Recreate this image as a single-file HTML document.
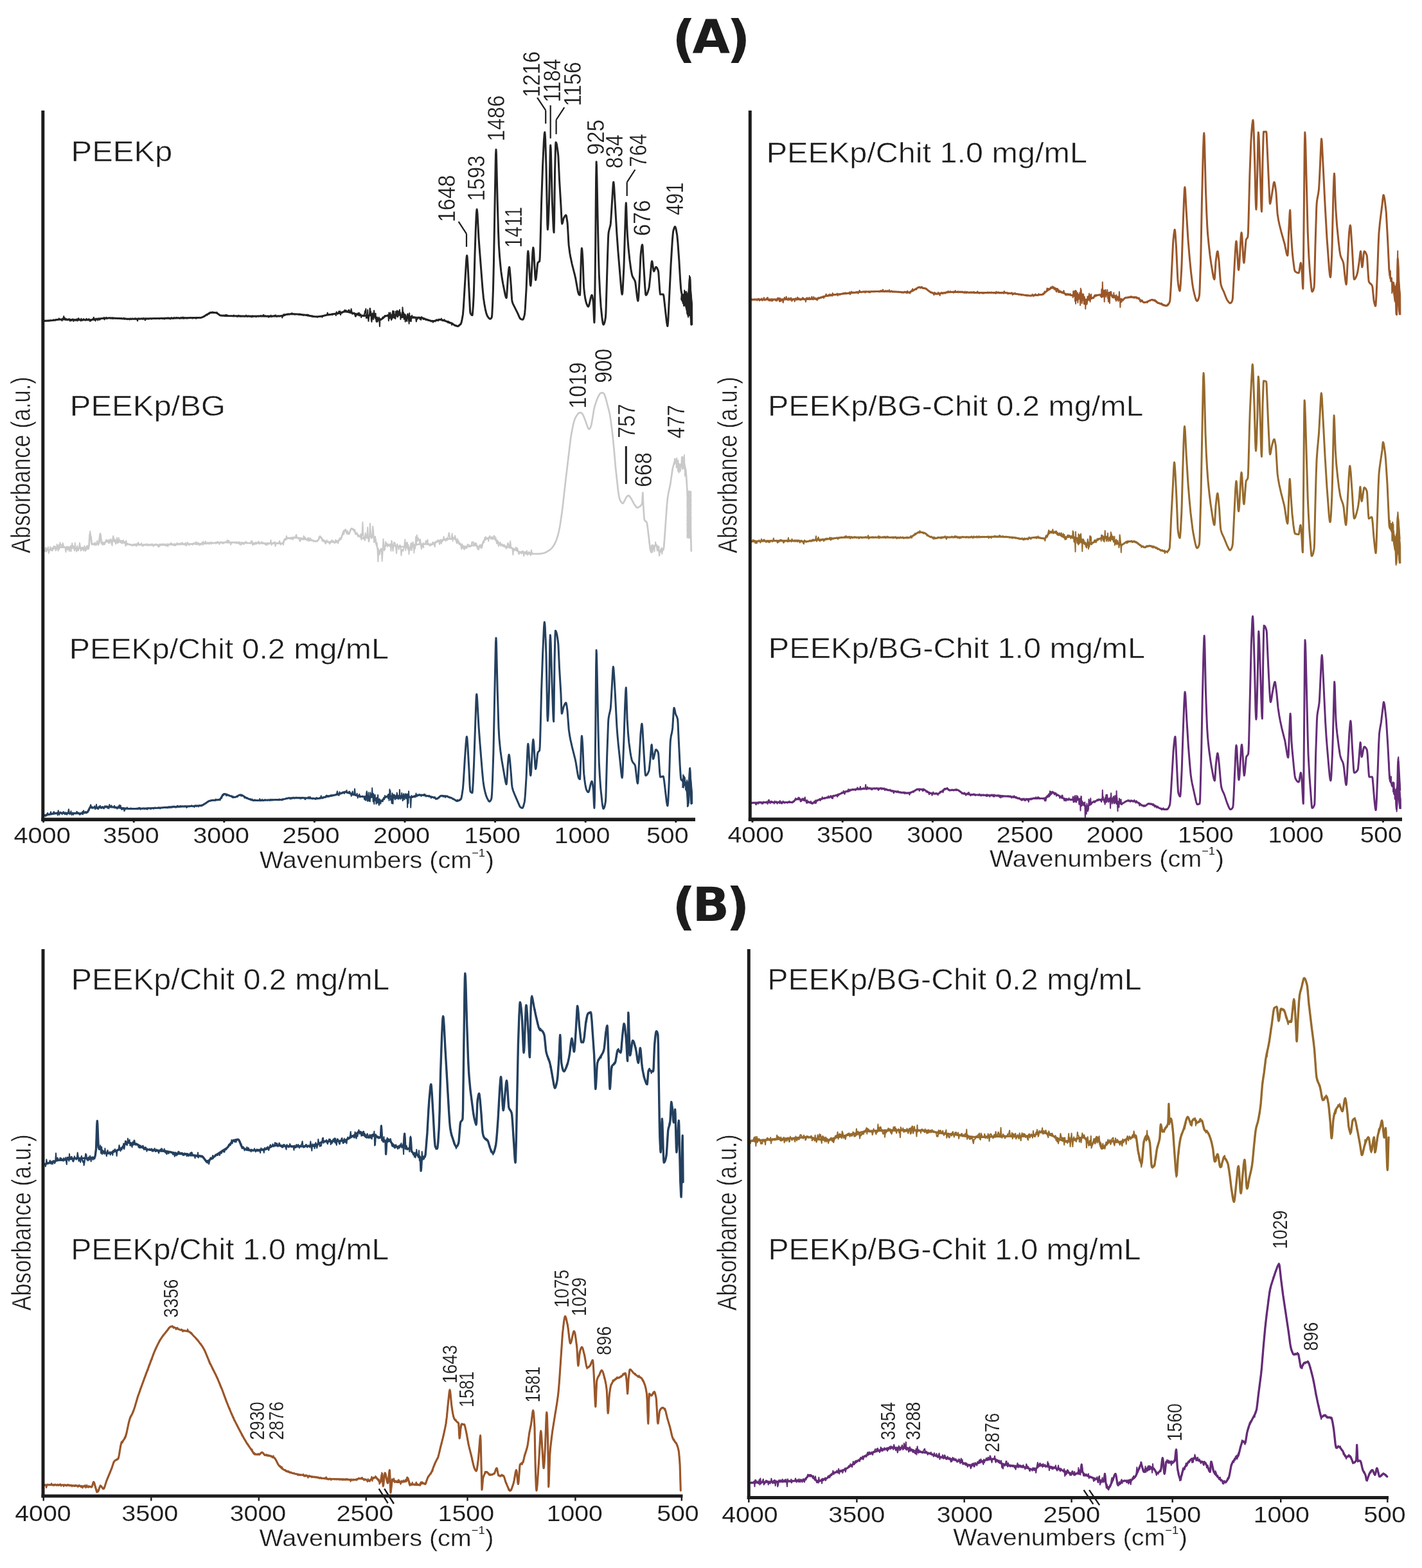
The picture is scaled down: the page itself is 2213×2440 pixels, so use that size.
<!DOCTYPE html>
<html lang="en">
<head>
<meta charset="utf-8">
<title>FTIR spectra</title>
<style>
html,body{margin:0;padding:0;background:#fff;}
body{width:2213px;height:2440px;overflow:hidden;}
svg{display:block;filter:blur(0.55px);}
text{white-space:pre;}
</style>
</head>
<body>
<svg role="img" aria-label="FTIR spectra, panels (A) and (B)" width="2213" height="2440" viewBox="0 0 2213 2440">
<path d="M67.2,499.6 82.2,498.4 91.1,497.3 95.1,497.1 100.5,497.1 115.8,497.8 139.1,497.7 143.0,497.4 153.4,496.0 162.3,495.2 166.8,494.9 176.2,495.1 198.0,496.2 206.9,496.3 277.6,494.9 300.9,494.5 312.7,494.2 314.2,493.9 316.1,493.1 322.7,489.3 326.1,487.1 327.5,486.5 329.0,486.2 333.3,486.4 336.7,486.7 338.1,487.4 341.5,490.1 342.9,490.8 351.3,491.4 381.0,492.0 422.5,492.0 432.3,491.9 439.6,491.6 441.0,491.2 444.4,489.6 445.8,489.2 451.7,488.8 457.6,488.7 464.5,489.1 475.7,490.2 488.4,492.4 491.3,492.7 494.2,492.7 499.1,492.2 510.8,489.9 526.4,487.5 529.8,486.8 534.7,485.1 536.6,484.8 539.0,485.0 542.0,485.6 549.9,487.5 558.6,490.2 562.5,491.1 564.5,491.2 567.0,491.2 576.9,490.6 580.4,490.6 581.4,490.9 582.9,491.9 588.3,496.8 589.8,497.6 590.7,497.8 591.7,497.6 593.2,497.0 594.7,496.0 598.6,492.7 600.1,491.8 601.1,491.4 610.4,490.2 619.1,489.8 621.1,489.9 623.5,490.3 632.3,493.2 635.7,494.0 637.7,494.2 652.6,494.2 655.1,494.4 659.0,495.5 667.9,498.6 671.8,499.4 673.8,499.6 675.7,499.4 680.5,498.4 683.5,497.5 684.5,497.4 686.0,497.5 689.0,498.2 697.4,501.0 702.9,503.2 708.9,506.8 710.9,507.4 712.3,507.4 713.7,506.8 715.1,505.9 717.0,504.1 717.5,503.3 718.0,502.0 718.9,498.0 720.4,489.5 721.3,478.8 725.7,404.9 726.2,399.6 726.7,397.6 727.1,399.5 728.0,412.2 731.6,484.0 732.0,487.3 733.5,489.8 734.5,490.5 735.0,490.6 735.4,488.9 736.3,477.3 737.2,460.4 737.6,448.5 739.0,396.2 740.3,356.8 741.2,335.1 741.7,328.3 742.1,325.8 742.6,328.1 743.1,334.3 745.0,370.6 746.5,390.7 750.9,447.7 752.4,463.4 753.8,472.9 755.2,480.6 756.6,486.7 757.6,489.7 758.5,491.8 760.0,494.0 761.0,495.2 762.0,496.0 762.5,496.2 763.4,496.2 764.3,495.4 765.2,494.0 765.7,490.8 766.6,473.8 767.5,449.1 768.4,410.8 771.1,259.0 771.5,240.1 772.0,232.7 772.4,238.9 774.2,314.6 775.5,359.6 776.4,381.9 777.4,396.9 778.4,408.7 779.8,422.2 781.3,433.1 782.8,441.8 786.2,458.6 787.2,462.3 787.6,463.3 788.1,463.7 788.6,461.3 790.4,433.4 791.7,419.7 792.1,416.6 792.6,415.5 793.0,417.0 793.9,426.3 795.3,444.3 796.6,465.7 797.1,469.3 798.1,472.4 805.6,487.3 808.1,493.2 809.1,495.1 809.6,495.8 810.6,496.5 812.0,497.1 813.5,497.4 813.9,497.1 814.4,496.3 814.9,495.1 815.9,491.7 816.4,489.5 816.8,486.2 817.3,480.7 819.1,449.1 820.9,402.4 821.3,394.0 821.8,390.8 822.2,392.7 822.6,397.6 824.9,437.9 825.3,442.8 825.8,444.7 826.2,442.6 826.7,437.2 828.9,392.7 829.4,387.3 829.8,385.2 830.3,387.4 830.8,393.1 832.7,427.8 833.2,433.5 833.6,435.7 834.1,434.3 834.6,430.6 836.5,410.8 837.0,408.8 837.5,408.3 839.2,407.1 839.7,406.5 840.2,401.1 840.7,388.3 842.6,314.6 844.6,257.8 846.4,219.7 847.3,207.7 847.8,205.8 848.2,209.1 848.7,217.7 850.0,258.5 851.8,349.1 852.3,357.2 852.7,354.6 853.2,347.7 854.5,314.6 856.3,233.4 856.7,226.0 857.2,231.1 857.6,244.4 859.4,314.6 861.2,354.0 861.7,359.6 862.1,361.7 862.6,342.1 863.5,269.7 863.9,252.7 864.6,225.9 865.0,221.5 865.5,221.9 866.0,223.2 866.5,225.2 867.4,230.9 868.4,238.3 868.9,243.8 870.6,280.9 872.9,319.1 873.8,337.4 874.2,345.1 874.7,348.2 875.1,347.7 875.6,346.3 876.9,340.5 877.4,339.2 878.8,336.6 879.8,335.3 880.3,334.9 880.7,334.8 881.2,335.4 881.6,337.1 883.0,346.0 883.4,351.2 884.8,376.0 885.2,381.9 886.7,393.3 887.7,399.1 890.2,411.0 894.4,427.3 895.8,433.4 898.6,449.6 899.5,454.2 900.5,457.3 900.9,458.1 901.7,458.9 902.5,459.2 902.9,452.4 904.3,404.3 905.0,389.3 905.4,386.3 905.8,388.0 906.2,392.3 907.0,404.3 908.3,440.9 908.8,449.1 909.8,457.9 910.8,464.4 911.8,469.2 912.8,472.6 914.6,476.5 915.1,477.0 915.5,477.2 916.0,476.8 916.9,474.4 919.2,463.9 920.2,460.6 920.6,459.6 921.1,459.2 921.6,459.9 922.5,464.4 923.4,471.6 924.5,497.8 924.9,501.9 925.4,489.8 925.8,459.7 926.7,381.9 927.6,277.5 928.1,251.8 928.5,258.0 928.9,273.8 930.1,337.0 931.4,396.2 932.3,426.7 933.8,456.8 935.2,477.7 937.1,496.1 938.1,502.6 938.6,504.5 939.1,505.2 939.5,505.0 940.0,504.2 940.5,503.0 941.5,499.3 942.4,494.0 942.9,487.3 943.3,474.5 945.6,397.1 946.5,370.8 946.9,363.9 947.4,360.5 947.9,358.1 949.8,351.2 950.3,348.2 950.7,343.6 953.9,291.1 954.3,285.4 954.8,283.2 955.2,285.4 955.7,291.0 959.9,363.4 961.9,391.2 966.8,449.5 967.7,457.0 968.2,458.1 968.7,456.2 969.1,451.2 970.9,416.3 973.5,331.9 973.9,320.4 974.3,315.7 974.7,321.1 975.6,348.4 976.1,359.4 976.5,367.0 978.0,385.8 979.9,404.0 981.9,419.1 983.4,427.2 983.9,429.0 984.9,431.4 986.9,434.6 987.9,436.6 988.4,437.9 988.9,440.2 991.4,461.4 992.4,467.3 992.9,468.2 993.3,466.2 993.8,461.0 995.6,429.3 996.9,399.1 997.4,393.1 998.7,383.2 999.2,381.4 999.6,380.7 1000.1,383.3 1000.5,389.9 1001.4,407.8 1003.8,447.0 1004.7,457.7 1005.2,459.2 1005.7,459.1 1006.2,458.6 1006.7,457.9 1007.7,455.7 1009.2,451.0 1010.2,446.8 1011.9,431.2 1013.7,411.2 1014.2,407.8 1014.6,406.5 1015.1,407.7 1017.1,421.1 1017.6,422.2 1018.0,421.9 1018.5,420.9 1020.0,416.8 1020.4,415.9 1020.9,415.5 1021.4,415.6 1022.4,416.7 1023.3,418.6 1024.3,421.1 1024.8,424.2 1026.7,451.3 1027.2,456.2 1027.6,458.1 1032.1,458.1 1032.6,459.1 1033.1,461.6 1037.4,500.3 1038.4,506.5 1038.9,507.5 1039.3,505.0 1039.8,498.6 1044.0,412.6 1046.4,373.4 1047.4,362.4 1047.8,359.4 1049.2,354.7 1050.1,352.9 1050.5,352.7 1051.0,353.1 1052.0,356.2 1053.4,363.9 1053.9,367.4 1054.9,377.9 1056.8,404.3 1058.7,436.3 1059.7,449.8 1060.2,453.6 1061.6,459.9 1062.6,462.7 1064.0,465.8 1067.0,469.6 1068.0,471.6 1068.5,473.4 1069.0,476.3 1070.4,486.4 1070.9,488.7 1071.4,489.5 1071.8,483.5 1073.2,437.3 1073.6,431.2 1074.1,436.5 1074.5,450.2 1075.9,505.2" fill="none" stroke="#232323" stroke-width="3.00" stroke-linejoin="round" stroke-linecap="round"/>
<path d="M67.2,499.6 68.0,499.8 68.9,499.1 69.7,498.7 70.6,499.3 71.6,499.2 72.7,499.3 73.6,499.0 74.5,499.2 75.3,499.6 76.2,499.0 77.1,499.3 77.9,499.2 78.7,498.1 79.7,499.1 80.7,499.0 81.6,498.9 82.6,497.6 83.7,497.5 84.5,498.2 85.4,498.4 86.3,498.6 87.2,496.8 88.1,497.7 88.9,498.0 89.8,497.5 M90.0,497.5 90.9,497.3 91.8,495.3 92.7,496.9 93.6,497.3 94.7,497.0 95.7,497.7 96.6,499.1 97.4,495.4 98.2,497.0 99.2,492.1 100.1,496.1 100.9,494.6 101.6,496.3 102.4,498.2 103.2,496.1 104.3,497.7 105.1,498.4 106.1,496.7 107.0,496.5 107.8,496.1 108.7,499.6 109.8,499.0 110.6,497.3 111.3,499.1 112.2,497.3 113.3,496.2 114.3,500.0 115.2,497.7 115.9,497.0 116.6,498.8 117.6,497.2 118.5,498.9 119.6,496.3 120.7,499.4 121.4,496.0 122.2,495.1 123.1,496.4 124.0,497.5 124.9,497.8 125.6,499.4 126.4,495.8 127.2,498.9 128.3,498.5 129.3,498.0 130.0,496.1 130.8,496.7 131.7,497.5 132.6,498.5 133.6,498.4 134.5,495.7 135.4,496.6 136.5,498.2 137.5,498.3 138.2,496.0 139.1,497.2 140.0,499.9 140.8,499.6 141.8,499.0 142.8,497.6 143.8,496.6 144.8,496.7 145.9,493.7 146.8,498.3 147.8,496.5 148.6,499.6 149.5,495.4 150.3,497.3 151.2,496.3 152.3,498.6 153.2,495.5 154.0,496.6 155.1,497.8 156.0,497.0 156.8,496.1 157.9,495.5 159.0,495.5 160.0,496.0 160.8,495.8 161.9,493.9 162.6,497.5 163.5,495.2 164.3,495.2 165.3,493.8 166.1,496.1 167.1,495.6 M168.0,494.9 169.0,495.0 170.1,494.4 171.2,494.3 172.0,494.7 173.0,495.7 174.1,494.7 174.9,494.4 175.8,496.2 176.8,495.2 177.8,495.2 178.8,495.2 179.6,495.7 180.4,495.2 181.3,495.5 182.4,495.9 183.4,495.5 184.5,496.0 185.3,494.8 186.4,495.0 187.5,495.7 188.5,494.8 189.3,495.6 190.0,496.3 191.0,496.1 191.9,496.1 192.7,494.6 193.7,496.7 194.6,495.7 195.5,495.6 196.5,496.5 197.5,496.4 198.6,497.1 199.6,496.1 200.6,496.3 201.7,497.5 202.8,495.5 203.6,496.6 204.6,497.1 205.4,495.8 206.5,495.5 207.7,496.2 208.5,496.5 209.3,496.6 210.4,495.1 211.2,496.7 212.1,496.6 212.9,496.5 214.0,499.5 215.0,496.3 215.8,495.4 216.7,496.2 217.6,496.8 218.5,496.2 219.5,495.8 220.4,495.4 221.1,495.9 222.2,496.9 223.3,494.9 224.3,496.3 225.1,496.4 226.0,498.5 227.1,495.5 228.1,496.6 228.9,496.4 229.7,495.8 230.7,496.4 231.5,496.7 232.3,495.8 233.3,495.7 234.3,495.5 235.1,496.4 236.0,496.4 236.7,496.2 237.5,495.6 238.5,495.3 239.3,495.2 240.1,495.5 241.1,495.2 241.9,495.0 242.9,496.3 243.9,495.5 244.8,495.0 245.8,495.5 246.8,495.5 247.9,496.4 248.9,495.9 249.7,495.2 250.8,494.7 251.5,495.0 252.5,495.9 253.4,496.3 254.2,495.6 255.0,495.6 255.8,496.7 256.9,494.6 257.9,495.0 258.9,494.6 259.8,495.0 260.6,494.8 261.4,494.2 262.2,495.5 263.2,494.6 264.1,495.6 264.9,496.6 265.8,495.1 266.9,494.0 267.7,495.8 268.4,495.6 269.3,495.8 270.2,495.7 270.9,493.9 271.6,494.9 272.4,495.3 273.4,494.5 274.3,493.8 275.4,494.6 276.5,494.5 277.4,494.2 278.1,494.4 279.0,495.2 280.0,496.0 281.0,494.6 282.1,493.8 283.2,495.5 284.0,493.8 284.9,493.5 285.8,496.0 286.6,494.0 287.3,495.3 288.1,494.8 288.9,494.5 289.8,495.5 290.8,495.5 291.7,494.7 292.6,495.5 293.7,494.4 294.6,494.5 295.6,495.1 296.7,493.8 297.5,494.9 298.3,495.1 299.3,495.7 300.1,494.9 301.0,494.1 301.9,495.4 303.0,494.2 304.1,495.0 305.2,495.9 306.3,493.7 307.3,494.9 308.5,494.9 309.5,494.3 310.4,493.7 311.3,495.0 312.1,494.1 313.1,494.5 314.1,493.7 314.8,493.2 315.7,493.2 316.6,493.1 317.6,492.4 318.7,492.2 319.7,491.1 320.7,489.4 321.6,489.2 322.6,490.4 323.6,488.3 324.5,488.5 325.4,488.6 326.3,487.9 327.0,485.9 327.9,486.6 328.6,486.7 329.5,487.0 330.4,485.6 331.4,485.5 332.5,486.2 333.4,486.2 334.4,486.9 335.5,487.0 336.5,487.4 337.4,485.8 338.4,488.4 339.5,488.8 340.5,488.8 341.5,489.6 342.3,490.6 343.2,491.2 344.3,491.0 345.1,491.5 346.1,491.1 347.0,491.3 347.9,490.5 349.0,491.6 349.8,491.5 350.6,489.9 351.6,491.6 352.4,489.9 353.3,490.1 354.4,491.8 355.3,491.5 356.1,491.5 357.1,492.1 358.1,491.5 359.1,491.4 360.0,491.9 360.8,491.5 361.9,491.9 363.0,492.4 363.8,490.4 364.6,491.8 365.5,491.7 366.5,491.8 367.6,491.7 368.6,492.6 369.4,491.7 370.2,492.8 371.1,490.6 372.1,491.0 373.0,491.7 373.8,492.8 374.7,491.5 375.8,492.6 376.7,492.5 377.7,492.1 378.8,491.7 379.6,492.6 380.4,492.6 381.3,492.4 382.1,492.2 383.0,490.5 384.1,492.2 385.1,493.0 385.9,491.9 386.7,491.4 387.8,492.5 388.6,492.6 389.4,492.0 390.2,492.8 391.1,491.8 391.9,493.5 392.7,493.0 393.4,491.5 394.3,492.7 395.2,492.4 396.3,491.9 397.1,492.4 397.8,492.1 398.5,493.3 399.7,492.0 400.7,492.3 401.8,491.5 402.7,492.6 403.7,491.7 404.6,492.1 405.7,490.9 406.6,492.1 407.3,492.3 408.5,490.9 409.3,491.6 410.2,489.7 411.2,492.5 412.1,491.5 413.2,491.3 414.2,492.5 415.2,492.2 415.9,492.0 416.8,491.8 417.8,493.8 418.8,492.0 419.8,493.1 420.6,492.2 421.6,490.6 422.6,493.1 423.5,492.0 424.4,492.3 425.3,491.4 426.1,491.4 427.1,490.8 427.9,491.5 429.0,490.3 430.1,492.4 430.9,492.8 431.9,492.0 432.8,491.2 433.8,492.0 434.8,492.4 435.9,492.1 436.6,492.2 437.4,491.8 438.2,490.8 439.3,494.5 440.3,490.1 441.1,490.5 442.0,488.9 442.8,490.8 443.7,490.7 444.5,489.5 445.3,489.4 446.2,489.4 447.3,489.7 448.2,488.2 449.0,489.1 450.0,489.6 450.8,489.1 451.7,488.8 452.6,488.4 453.6,487.5 454.6,487.3 455.6,489.0 456.7,488.1 457.5,489.2 458.4,489.6 459.2,488.8 459.9,489.4 461.1,488.9 462.0,489.1 463.0,489.0 464.0,489.4 465.1,489.7 466.0,490.0 466.8,488.5 467.9,488.9 468.7,489.8 469.7,490.5 470.5,490.1 471.5,490.4 472.5,491.0 473.2,490.1 474.1,489.9 474.9,490.0 476.0,490.4 477.0,490.1 477.9,489.4 478.7,491.5 479.7,489.7 480.7,490.9 481.7,492.0 482.7,491.3 483.4,492.0 484.2,492.5 485.1,491.5 486.1,491.5 486.9,493.2 487.7,492.4 488.8,492.2 489.8,492.9 490.9,492.8 491.9,493.0 492.8,492.8 493.8,493.6 494.7,492.9 495.8,492.7 496.9,491.7 497.9,492.5 498.7,491.7 499.5,492.6 500.4,492.2 501.5,493.6 502.3,492.1 503.1,492.1 504.2,491.3 505.2,490.4 506.0,490.8 506.8,490.6 507.8,489.9 508.8,489.7 509.7,486.6 510.5,490.0 511.5,489.3 512.4,489.3 513.2,489.5 514.3,490.0 515.3,489.2 516.3,488.5 517.4,490.0 518.1,488.3 519.1,488.7 519.8,488.6 M520.0,488.6 520.9,488.1 521.8,488.0 522.8,491.0 523.6,485.3 524.6,486.8 525.4,488.8 526.5,486.7 527.5,484.2 528.4,488.0 529.4,484.3 530.1,490.1 530.9,486.9 532.0,485.7 532.8,486.9 533.6,485.0 534.4,485.8 535.2,484.7 536.3,482.5 537.3,483.5 538.2,482.6 539.3,483.8 540.2,484.4 541.1,484.4 542.0,483.2 543.0,482.1 544.1,486.4 544.9,483.8 545.8,486.7 546.6,480.6 547.5,485.6 548.4,488.9 549.5,486.8 550.6,487.9 551.3,486.7 552.4,490.4 553.1,492.6 553.9,492.6 555.0,488.1 556.0,488.6 557.0,487.3 557.9,489.9 558.8,486.6 559.6,491.4 560.6,488.8 561.4,489.1 562.2,494.1 562.9,490.9 563.8,491.5 564.7,491.3 565.6,491.4 M566.0,491.3 566.5,492.1 566.9,489.0 567.5,486.9 568.0,484.0 568.4,487.1 568.8,483.6 569.4,480.5 569.9,495.0 570.3,494.7 570.8,491.2 571.2,491.4 571.7,494.6 572.2,482.2 572.6,495.6 573.1,496.0 573.5,499.8 573.9,495.0 574.5,491.9 575.0,489.4 575.6,479.8 576.2,480.2 576.7,488.8 577.2,485.0 577.8,497.6 578.4,500.9 578.9,497.1 579.3,488.2 579.8,487.4 580.3,495.3 580.8,489.8 581.2,496.9 581.7,489.4 582.1,483.2 582.7,489.2 583.1,493.6 583.6,488.7 584.1,495.6 584.6,487.7 585.0,496.4 585.6,500.4 586.0,501.0 586.6,494.0 587.2,493.5 587.8,500.6 588.4,497.4 588.8,495.4 589.3,497.9 589.8,493.8 590.4,498.7 590.9,508.0 591.4,495.9 591.8,497.5 592.3,497.5 592.7,497.6 M593.0,497.1 594.0,496.2 594.9,495.0 595.9,493.3 596.9,495.1 597.9,492.8 598.9,491.0 599.8,491.9 600.9,491.2 602.0,491.2 M602.0,491.2 602.5,490.6 603.2,492.1 603.8,489.9 604.4,490.4 604.8,499.3 605.3,486.6 605.8,496.0 606.4,488.7 606.9,494.5 607.5,486.5 608.1,493.5 608.7,497.0 609.2,498.0 609.8,489.4 610.3,496.1 610.8,487.6 611.2,483.8 611.7,492.8 612.3,494.3 613.0,484.2 613.5,494.8 613.9,491.2 614.4,494.5 614.8,495.6 615.4,496.1 615.9,484.4 616.4,491.0 616.9,491.6 617.5,487.2 617.9,483.3 618.4,493.2 618.9,485.5 619.3,492.9 619.8,484.2 620.3,490.7 620.9,486.0 621.4,490.2 621.9,481.9 622.4,489.3 622.9,486.3 623.4,496.9 623.9,489.4 624.5,492.4 625.1,494.2 625.6,486.6 626.0,494.1 626.5,478.3 627.1,486.9 627.6,493.9 628.1,486.2 628.7,496.8 629.2,488.7 629.7,489.2 630.2,489.0 630.7,500.6 631.3,490.3 631.8,498.7 632.3,493.9 632.8,496.8 633.4,500.0 634.0,489.3 634.5,488.2 635.1,490.1 635.5,494.7 636.1,498.7 636.6,503.7 637.2,487.3 637.6,500.0 638.2,496.7 638.7,494.9 639.1,492.3 639.7,500.2 640.2,493.8 640.7,492.5 641.2,490.8 641.8,494.2 M642.0,494.2 643.0,493.2 644.0,492.9 644.8,493.7 645.9,493.5 646.9,493.7 647.8,500.4 648.8,496.6 649.8,496.5 650.9,494.5 651.7,493.9 M650.0,494.2 651.0,494.1 651.9,493.6 652.7,495.3 653.5,496.8 654.5,494.6 655.2,497.9 656.1,493.1 656.9,495.0 657.8,494.2 658.7,496.8 659.4,497.1 660.5,495.6 661.5,496.0 662.3,497.9 663.3,497.2 664.3,498.3 665.1,498.3 666.1,497.0 666.9,499.1 667.8,499.0 668.6,498.1 669.6,499.7 670.4,499.7 671.3,500.4 672.1,499.5 672.8,498.8 673.8,501.8 674.7,500.4 675.6,499.4 676.4,500.0 677.4,500.4 678.3,498.0 679.2,497.4 680.1,497.2 680.9,498.4 682.0,499.3 683.1,496.5 684.0,497.3 685.1,497.8 686.0,497.2 686.8,495.6 687.7,498.0 688.6,499.2 689.6,499.3 690.4,498.7 691.4,497.2 692.3,498.4 693.4,500.1 694.5,500.1 695.4,500.2 696.2,499.9 697.1,502.3 698.1,500.1 699.1,502.7 700.3,502.6 701.4,503.1 702.1,502.0 703.1,505.7 704.2,502.8 705.3,504.1 706.1,505.1 706.9,506.6 707.7,506.6 708.8,506.5 709.8,506.3 710.8,506.7 711.6,507.6 712.4,508.2 713.4,508.0 714.4,507.1 715.1,506.0 716.1,505.3 717.0,504.9 717.9,501.6 718.9,497.3 M1061.0,457.5 1061.4,459.0 1061.7,460.7 1062.1,462.9 1062.5,458.6 1062.8,472.2 1063.2,461.2 1063.5,458.1 1063.8,472.5 1064.2,476.2 1064.6,466.8 1065.0,457.5 1065.2,451.8 1065.6,463.7 1065.9,461.7 1066.3,469.9 1066.6,453.8 1067.0,468.6 1067.5,473.4 1067.8,465.6 1068.2,468.2 1068.5,463.0 1068.9,466.9 1069.3,488.5 1069.7,473.4 1070.0,484.8 1070.4,482.7 1070.7,491.0 1071.0,493.5 1071.4,477.4 1071.8,479.6 1072.2,468.4 1072.5,469.3 1072.9,433.2 1073.3,439.3 1073.6,432.3 1074.0,431.8 1074.3,444.0 1074.8,458.2 1075.1,478.3 1075.4,487.1 1075.8,503.9" fill="none" stroke="#232323" stroke-width="2.00" stroke-linejoin="round" stroke-linecap="round"/>
<path d="M69.0,857.6 80.7,854.2 89.6,852.2 94.6,851.5 100.5,851.6 111.9,852.7 116.8,852.9 120.8,852.9 132.2,852.2 133.2,852.4 136.1,853.7 137.6,854.0 138.0,852.3 138.5,847.9 139.7,832.3 140.2,830.5 140.6,831.8 141.1,834.8 142.6,845.6 143.0,846.8 148.9,846.5 153.9,845.7 154.3,844.1 155.6,832.1 156.0,830.5 156.5,832.1 157.8,844.1 158.2,845.7 159.2,845.6 160.6,845.2 165.9,842.7 167.8,842.2 177.1,841.6 186.4,841.4 188.3,841.6 190.3,842.2 192.7,843.2 200.0,846.9 202.5,847.7 204.4,847.9 247.0,847.8 285.0,846.9 314.7,846.0 342.1,844.3 354.1,843.9 363.0,844.0 384.9,845.0 415.8,845.5 439.1,845.7 439.6,845.6 440.6,844.5 443.0,840.0 444.0,838.8 444.5,838.5 449.9,837.3 455.7,836.7 460.6,836.8 465.9,837.4 477.2,839.2 488.4,841.7 490.8,842.0 493.3,842.1 493.8,842.0 494.2,841.6 495.2,840.3 497.2,837.1 498.2,836.1 498.7,836.0 499.2,836.1 499.7,836.5 500.6,837.7 502.6,840.8 503.6,841.9 504.1,842.1 509.0,842.8 513.9,843.3 519.7,843.5 523.1,843.4 524.6,843.0 526.0,842.2 528.4,840.4 529.8,839.0 531.3,836.1 534.7,827.3 535.6,825.7 536.1,825.3 536.6,825.1 537.6,825.6 540.5,829.6 541.5,830.4 542.0,830.5 542.5,830.4 543.0,829.9 544.0,828.2 545.9,824.1 546.9,822.8 547.4,822.6 548.4,822.9 549.3,823.7 550.8,825.5 553.2,828.9 554.6,830.5 560.1,835.3 562.0,836.7 563.5,837.4 565.5,837.8 567.5,837.6 570.0,836.9 576.9,834.6 578.9,834.2 579.9,834.2 580.4,834.3 581.4,835.3 582.9,838.4 586.8,850.6 588.3,854.5 589.3,856.4 589.8,857.1 590.3,857.5 590.7,857.6 591.7,857.4 593.2,856.4 594.7,854.9 598.6,850.2 600.1,849.1 601.1,848.7 605.5,848.7 611.4,849.1 624.2,850.5 633.7,852.0 638.2,852.2 639.7,851.9 641.2,851.4 647.6,848.0 650.6,847.0 652.1,846.8 674.3,846.7 675.7,846.0 679.5,843.0 682.0,842.1 685.5,841.0 689.0,840.2 693.0,839.5 699.9,838.7 704.9,838.3 707.4,838.4 708.4,838.9 709.9,840.3 713.4,844.9 714.9,846.5 715.9,847.3 718.4,848.6 721.9,850.1 723.9,850.6 726.4,850.6 728.8,850.2 735.3,848.7 737.3,848.4 738.8,848.4 740.8,849.0 745.3,851.3 747.3,851.8 747.8,851.6 748.2,851.2 749.2,849.8 752.6,842.5 753.5,841.0 754.0,840.5 756.9,838.7 759.9,837.2 762.8,836.3 765.2,836.1 766.7,836.4 768.2,837.3 773.7,842.4 779.7,847.4 782.2,849.1 783.7,849.7 786.2,850.5 793.6,852.1 797.1,853.1 800.1,854.5 806.6,858.2 809.6,859.5 817.1,861.2 820.1,861.6 822.5,861.8 838.5,861.8 842.5,861.4 847.0,860.5 850.5,859.0 855.4,855.9 856.8,854.8 858.7,852.9 861.5,849.3 863.9,845.0 865.8,840.4 867.8,834.5 869.7,827.0 871.1,820.3 872.0,814.9 875.1,793.4 880.1,749.2 888.1,682.2 889.5,673.7 891.7,662.3 893.1,656.6 894.4,652.5 895.3,650.4 896.7,647.9 898.5,645.2 899.8,643.6 901.6,642.1 902.9,642.1 904.7,642.4 905.6,643.2 906.5,644.3 907.9,646.8 911.0,654.4 913.4,661.7 915.7,667.0 916.2,667.6 916.6,667.8 917.1,667.7 917.5,667.3 918.8,665.4 920.0,662.2 920.9,658.1 924.5,636.4 925.8,631.4 928.5,623.1 930.8,617.6 933.6,612.6 934.6,611.8 936.0,611.3 937.5,611.1 937.9,611.2 938.8,611.6 940.2,612.9 940.6,613.6 941.5,616.0 942.9,620.5 947.8,639.5 948.7,643.2 949.6,648.0 952.3,667.9 953.6,679.1 955.4,697.7 958.1,728.4 961.9,763.0 962.7,768.8 963.9,774.9 964.8,777.7 966.2,780.6 967.1,781.8 968.4,783.0 969.3,783.4 969.8,783.1 970.7,781.7 973.8,775.5 975.6,772.6 977.4,771.3 978.3,771.0 978.8,771.2 981.0,773.8 982.3,775.9 986.9,784.4 988.4,786.7 990.8,789.7 991.8,790.1 992.7,789.9 995.6,788.2 996.9,787.2 998.2,785.6 999.0,783.8 999.4,782.2 1000.3,766.5 1001.2,786.7 1002.5,806.5 1003.0,809.1 1003.9,810.5 1005.9,811.8 1006.3,812.5 1006.8,814.0 1007.8,820.2 1011.6,852.1 1012.6,857.6 1013.1,858.5 1013.5,858.3 1014.0,857.9 1016.9,853.2 1019.4,848.6 1020.4,847.4 1020.9,847.3 1021.4,847.7 1021.9,848.9 1023.3,854.0 1023.8,855.4 1024.3,856.2 1025.8,857.4 1027.3,858.2 1028.8,858.5 1029.7,858.2 1030.7,857.3 1032.1,855.0 1032.6,854.0 1033.1,851.6 1034.0,840.9 1037.9,785.6 1038.9,775.5 1040.4,766.6 1043.3,753.1 1046.2,733.0 1047.1,727.7 1048.1,724.6 1049.6,721.0 1050.5,719.1 1051.5,718.1 1052.0,718.0 1053.0,718.4 1054.0,719.3 1056.5,722.2 1057.5,722.9 1058.0,723.0 1059.0,722.9 1062.5,721.3 1064.0,721.0 1064.5,721.4 1065.0,722.4 1066.0,726.3 1067.5,735.0 1068.0,740.2 1069.5,764.0 1074.4,821.4 1075.3,838.0 1075.8,857.5" fill="none" stroke="#c9c9c9" stroke-width="2.70" stroke-linejoin="round" stroke-linecap="round"/>
<path d="M69.0,857.6 69.8,856.9 70.9,852.1 71.9,858.8 72.9,853.5 73.9,856.0 74.9,851.1 75.8,861.0 76.6,856.3 77.4,857.1 78.3,850.9 79.2,854.3 80.1,856.9 81.0,852.6 81.9,857.0 82.8,852.9 83.7,849.8 84.7,853.4 85.8,850.1 86.7,856.9 87.8,854.9 88.7,847.0 89.6,850.4 90.6,857.3 91.6,847.7 92.4,854.5 93.5,844.2 94.3,848.8 95.0,847.6 96.0,848.9 96.9,851.8 97.7,844.9 98.5,847.7 99.2,852.3 100.2,851.4 101.3,851.7 102.4,859.1 103.4,852.1 104.3,850.5 105.1,855.7 106.0,850.8 106.7,851.0 107.8,857.7 108.7,853.2 109.6,849.5 110.5,858.1 111.4,850.2 112.3,845.3 113.0,850.6 114.1,849.5 115.0,852.8 116.0,857.1 116.8,844.8 117.6,854.7 118.4,853.4 119.1,858.4 120.1,849.4 120.9,856.1 121.8,856.9 122.9,853.3 123.9,844.8 124.8,849.6 125.7,857.2 126.5,853.0 127.5,855.8 128.4,852.7 129.4,854.6 130.5,857.2 131.4,849.5 132.3,854.4 133.1,857.6 134.2,855.7 134.9,850.2 135.8,849.0 136.7,854.6 137.6,851.6 138.7,850.3 139.5,832.2 140.3,826.8 141.3,838.2 142.0,835.6 142.9,847.5 143.9,847.1 144.8,846.0 145.9,845.8 146.7,848.4 147.8,844.2 148.7,847.8 149.5,848.6 150.4,845.6 151.4,841.4 152.3,847.1 153.1,848.2 154.1,845.5 155.1,833.8 156.2,834.2 157.3,839.1 158.3,841.9 159.4,847.9 160.5,843.9 161.3,847.6 162.2,846.3 163.0,847.2 164.1,843.1 165.2,839.9 165.9,841.0 166.8,840.5 167.9,842.0 168.8,845.2 169.5,839.9 170.6,845.0 171.5,840.3 172.5,838.8 173.6,846.0 174.6,849.0 175.5,837.4 176.2,834.0 177.2,838.7 178.1,843.4 179.0,839.6 180.1,846.6 181.1,844.1 182.0,836.8 183.0,845.1 184.0,844.7 184.8,836.9 185.7,841.7 186.5,843.9 187.3,844.3 188.3,843.6 189.2,845.1 190.0,845.7 190.8,845.0 191.8,840.5 192.6,844.8 193.5,845.5 194.5,843.2 195.5,849.5 196.3,841.2 197.3,848.3 198.3,846.4 199.1,846.2 199.9,846.8 M200.0,846.9 200.7,847.0 201.8,848.1 202.7,846.8 203.6,847.6 204.6,848.6 205.3,848.9 206.1,847.9 207.0,849.3 207.8,846.9 208.8,847.1 209.6,848.8 210.4,846.7 211.4,846.6 212.3,849.9 213.2,846.0 214.3,848.2 215.2,844.0 216.3,846.9 217.2,847.5 218.3,847.8 219.4,846.6 220.2,845.1 221.0,848.9 221.7,848.7 222.5,849.9 223.6,847.5 224.5,847.2 225.2,847.6 226.3,848.6 227.4,846.4 228.3,848.3 229.1,848.4 229.9,846.5 231.0,849.2 231.9,848.6 233.0,847.5 233.8,847.0 234.7,848.7 235.7,848.6 236.6,846.2 237.7,848.2 238.7,850.0 239.6,848.1 240.6,848.8 241.6,847.4 242.7,846.4 243.7,847.6 244.5,847.6 245.4,849.2 246.5,851.1 247.3,848.5 248.2,850.3 249.1,846.6 250.0,848.6 250.8,847.5 251.6,846.7 252.5,846.4 253.3,848.8 254.3,848.1 255.2,846.2 256.0,848.3 256.9,849.1 257.8,848.6 258.6,849.3 259.6,849.2 260.4,846.2 261.2,850.4 262.1,847.8 262.9,847.3 263.8,846.2 264.5,846.8 265.5,847.1 266.2,844.8 267.2,845.8 268.2,848.1 269.3,848.3 270.3,848.6 271.3,846.0 272.1,849.2 273.1,848.0 273.9,848.6 274.8,846.9 275.6,844.7 276.7,846.6 277.5,846.8 278.2,845.8 279.2,847.5 280.2,845.3 280.9,846.3 281.8,847.1 282.7,845.0 283.7,844.3 284.7,846.2 285.7,847.2 286.8,846.1 287.7,847.9 288.8,844.6 289.8,849.4 290.7,847.1 291.8,844.0 292.5,844.9 293.4,846.2 294.2,848.5 295.3,847.2 296.1,847.0 297.2,846.4 298.0,847.1 298.8,846.2 299.6,847.9 300.4,846.6 301.2,844.8 302.3,846.3 303.1,845.1 304.1,846.7 305.0,843.2 306.0,847.6 306.9,844.2 307.9,847.2 308.7,844.8 309.6,846.7 310.6,848.6 311.3,845.4 312.4,847.8 313.4,845.7 314.4,844.2 315.4,848.0 316.3,842.6 317.2,846.7 318.3,845.8 319.1,843.7 320.0,842.3 320.9,846.7 321.9,845.2 322.8,844.3 323.8,844.6 324.9,844.3 325.8,846.9 326.8,844.3 327.9,844.2 328.6,843.4 329.4,846.4 330.4,844.6 331.4,844.7 332.3,845.4 333.2,845.1 334.1,845.0 334.9,844.0 336.0,846.1 337.0,843.7 337.8,844.1 338.8,842.5 339.6,843.5 340.6,844.5 341.4,847.1 342.4,844.1 343.3,843.3 344.2,843.4 345.1,844.1 345.9,844.8 347.0,846.1 348.0,844.7 348.7,844.7 349.8,844.3 350.8,843.2 351.8,843.3 352.6,844.1 353.7,840.5 354.4,844.9 355.2,844.5 356.0,841.1 357.1,844.4 358.2,845.0 359.1,847.6 359.9,845.5 360.9,844.7 361.8,844.6 362.6,843.6 363.7,844.4 364.7,844.6 365.7,844.7 366.7,844.2 367.5,843.0 368.2,845.9 369.1,844.0 369.9,845.0 370.6,843.9 371.4,846.1 372.4,843.1 373.5,847.5 374.5,847.7 375.6,847.5 376.4,844.5 377.1,846.2 378.1,844.5 379.0,846.8 380.1,846.7 381.2,844.7 382.2,842.9 383.1,843.2 384.2,844.1 385.0,845.7 385.9,844.8 386.8,844.9 387.6,845.4 388.6,844.4 389.4,845.9 390.1,844.6 391.3,841.8 392.3,841.8 393.1,848.0 394.1,846.4 395.1,847.6 396.2,844.6 397.3,846.9 398.1,843.7 399.2,846.5 400.0,844.6 400.9,843.7 401.8,844.8 402.8,842.4 403.6,846.7 404.4,845.1 405.2,844.5 406.2,845.3 407.1,843.2 407.9,846.1 409.0,844.0 409.9,845.0 410.7,846.2 411.8,846.7 412.9,845.9 413.9,848.5 414.9,847.1 415.6,845.1 416.5,847.7 417.3,844.7 418.2,845.9 419.0,846.6 419.8,845.6 420.6,845.4 421.5,840.6 422.7,848.3 423.4,846.0 424.2,845.3 425.0,844.9 425.9,844.0 426.9,845.2 427.7,843.2 428.5,849.9 429.3,847.0 430.3,844.9 431.3,844.5 432.3,845.3 433.2,845.6 434.0,844.7 435.1,841.7 436.0,845.3 436.8,847.8 437.9,845.7 438.7,846.0 439.5,845.9 M440.0,845.2 441.0,847.9 442.2,840.3 442.9,838.9 443.8,838.4 444.9,840.1 445.9,833.9 446.8,838.6 447.6,838.0 448.5,836.5 449.3,837.2 450.2,837.3 451.2,838.5 452.3,838.2 453.2,836.9 454.0,838.9 455.0,837.5 455.9,839.6 456.7,835.7 457.8,837.1 458.7,836.0 459.6,837.2 460.4,833.5 461.2,832.0 462.2,836.5 462.9,837.1 463.8,837.0 464.7,837.4 465.9,840.3 467.0,842.5 467.9,840.6 468.9,838.8 470.0,839.3 470.9,839.6 471.9,839.6 472.6,834.0 473.6,839.8 474.6,835.8 475.6,837.9 476.7,838.9 477.8,841.3 478.7,838.0 479.7,836.7 480.5,842.2 481.6,840.6 482.3,837.3 483.4,837.9 484.3,841.4 485.3,840.1 486.4,840.4 487.3,840.7 488.3,842.9 489.3,842.3 490.3,842.0 491.3,843.0 492.2,842.4 493.2,841.3 494.0,841.0 494.8,840.2 495.7,840.1 496.6,835.4 497.8,834.3 498.6,834.5 499.7,836.3 500.5,836.9 501.3,841.7 502.2,841.5 503.2,840.1 504.0,842.9 505.1,840.6 506.0,844.9 506.8,846.2 507.9,842.8 508.7,840.5 509.6,844.0 510.7,843.0 511.7,843.4 512.8,846.5 513.9,845.4 514.6,842.6 515.7,842.0 516.6,840.4 517.6,842.5 518.5,841.6 519.4,842.8 520.3,845.0 521.3,844.7 522.2,840.1 523.3,844.5 524.0,840.9 525.1,842.7 526.2,845.6 526.9,841.8 528.0,838.9 528.8,837.3 529.9,838.8 530.7,839.3 531.4,837.0 532.4,833.4 533.4,829.8 534.4,826.4 535.1,831.5 536.0,827.2 537.1,824.3 538.0,823.6 539.0,827.7 540.0,831.0 540.8,825.9 541.6,831.1 542.7,829.2 543.6,831.2 544.6,827.8 545.5,824.3 546.6,822.6 547.5,822.0 548.3,823.2 549.3,824.5 550.3,823.3 551.2,825.9 552.2,824.2 553.1,831.3 554.0,831.3 555.1,829.8 555.8,829.2 556.9,835.1 557.7,832.2 558.6,833.7 559.6,834.2 M560.0,835.3 561.0,832.5 561.7,830.9 562.5,840.0 563.4,832.9 564.4,812.6 565.2,831.6 566.0,835.2 566.8,839.2 567.8,841.1 568.6,829.3 569.5,836.4 570.3,832.5 571.1,836.7 572.2,820.4 573.0,838.0 573.9,843.1 574.8,840.0 575.9,814.6 576.9,829.6 578.0,837.7 579.1,836.9 580.1,819.0 581.1,825.7 582.0,843.8 583.1,837.2 584.0,834.9 585.0,841.5 585.9,846.9 586.6,844.4 587.4,855.3 588.4,873.9 589.2,857.2 590.0,859.2 590.8,863.0 591.9,855.6 592.9,853.6 593.6,856.8 594.7,873.2 595.7,857.4 596.4,838.7 597.2,845.4 598.0,856.7 599.1,854.6 600.2,842.9 601.1,849.0 602.1,845.3 603.0,850.6 604.1,846.8 604.9,848.2 605.7,849.9 606.8,846.5 607.6,847.2 608.4,857.4 609.4,841.2 610.4,845.7 611.5,857.5 612.2,852.3 613.2,843.9 614.2,844.3 615.3,847.1 616.4,854.7 617.1,861.1 618.1,846.4 619.0,849.6 619.8,850.0 620.5,855.0 621.4,852.4 622.4,848.1 623.5,850.2 624.4,864.4 625.4,855.3 626.5,855.2 627.4,857.6 628.5,852.1 629.3,849.0 630.3,839.6 631.3,856.6 632.4,844.4 633.1,849.5 633.9,844.0 634.8,854.9 635.6,847.9 636.4,862.4 637.3,853.4 638.3,856.0 639.1,847.8 639.9,844.8 640.8,856.4 641.7,848.3 642.6,843.4 643.6,847.1 644.4,860.4 645.3,847.6 646.2,853.4 647.1,835.2 648.0,846.3 648.8,832.4 649.7,842.1 650.7,837.0 651.5,839.1 652.4,840.7 653.3,846.0 654.1,839.2 655.0,848.9 655.9,854.4 656.7,847.2 657.5,851.4 658.5,844.8 659.3,851.9 M660.0,846.8 661.1,846.9 661.8,845.1 662.8,841.4 663.5,844.5 664.3,845.1 665.4,839.8 666.2,847.6 667.2,846.8 668.2,848.1 669.1,849.5 669.9,848.9 670.8,847.8 671.9,848.0 672.6,847.5 673.3,843.8 674.1,843.9 675.1,843.7 675.9,847.5 676.7,851.0 677.5,845.1 678.4,842.3 679.5,843.9 680.2,843.5 681.1,840.7 682.0,840.3 683.0,841.5 684.0,847.0 684.8,842.9 685.7,839.8 686.8,846.1 687.7,841.2 688.8,842.4 689.7,841.0 690.6,835.0 691.6,840.1 692.5,839.1 693.4,842.0 694.2,839.3 695.1,837.5 695.9,840.7 696.8,838.3 697.7,834.4 698.7,828.9 699.5,832.3 700.2,837.6 701.2,838.1 702.1,838.1 702.9,836.2 703.7,830.2 704.5,842.0 705.3,836.1 706.5,838.4 707.3,838.8 708.0,833.4 709.0,836.8 709.9,842.3 710.9,845.5 711.9,838.4 712.8,842.4 713.6,841.6 714.5,846.8 715.5,844.6 716.5,845.8 717.3,849.3 718.2,854.6 719.1,846.4 719.8,851.7 720.8,853.4 721.6,851.5 722.6,855.3 723.6,852.9 724.6,850.6 725.5,853.3 726.6,852.7 727.7,847.1 728.8,847.5 729.9,847.9 730.8,851.0 731.6,849.5 732.7,850.5 733.5,849.5 734.4,843.4 735.4,845.3 736.5,843.1 737.4,849.6 738.5,846.7 739.5,844.6 740.4,848.1 741.4,845.6 742.1,850.0 743.2,854.4 744.0,854.4 744.9,855.5 745.7,850.6 746.7,848.0 747.7,851.4 748.8,847.7 749.6,853.1 750.5,850.0 751.3,845.1 752.3,842.0 753.3,844.1 754.4,836.4 755.3,836.9 756.1,835.3 757.0,839.0 757.9,838.3 758.8,837.5 759.5,836.9 760.3,842.2 761.2,835.9 762.1,833.9 763.1,836.9 764.2,838.6 765.0,836.1 765.8,838.5 766.7,839.1 767.6,837.4 768.7,833.4 769.8,834.8 770.6,835.9 771.4,836.2 772.3,841.8 773.1,846.1 774.0,840.5 774.8,843.8 775.9,849.9 776.8,848.0 777.7,847.5 778.6,844.0 779.5,849.5 780.3,847.3 781.3,846.6 782.4,848.1 783.2,847.9 784.0,850.8 784.8,847.6 785.7,851.0 786.5,849.5 787.6,853.7 788.6,852.8 789.5,848.2 790.5,844.7 791.3,847.1 792.2,851.7 793.2,850.0 794.2,841.9 795.2,852.4 796.3,851.8 797.4,853.9 798.4,863.4 799.3,853.8 800.3,856.6 801.1,856.5 801.9,855.6 802.9,851.6 803.6,854.0 804.4,856.8 805.2,853.1 806.1,856.6 807.1,862.1 808.1,862.2 809.0,858.5 810.0,858.6 810.8,859.5 811.6,861.6 812.5,857.5 813.3,859.3 814.2,857.7 815.3,865.3 816.0,859.1 816.8,861.4 817.8,858.9 818.7,860.5 819.8,857.0 820.9,863.8 821.6,860.1 822.3,859.7 823.4,858.9 824.2,860.4 825.1,859.9 825.9,864.3 826.9,855.9 827.6,858.7 828.6,862.3 829.7,861.9 M1010.0,838.3 1010.5,841.9 1011.0,847.9 1011.5,850.3 1012.0,854.2 1012.7,850.1 1013.2,853.6 1013.7,860.0 1014.2,855.1 1014.7,847.8 1015.3,859.3 1016.0,852.1 1016.7,848.5 1017.3,853.3 1017.8,850.5 1018.5,858.1 1018.9,849.4 1019.5,850.0 1020.1,843.5 1020.7,847.6 1021.2,847.3 1021.8,850.7 1022.3,853.3 1022.9,857.1 1023.4,850.0 1024.0,852.7 1024.6,854.7 1025.3,850.0 1025.9,865.0 1026.6,863.0 1027.2,856.7 1027.7,858.8 1028.2,854.6 1028.9,855.3 1029.6,852.3 1030.3,862.1 1031.0,857.4 1031.6,855.6 1032.2,853.6 1032.6,855.8 1033.2,851.2 1033.8,843.3 M1048.0,724.9 1048.5,721.2 1049.1,719.0 1049.6,718.6 1050.0,713.7 1050.4,714.0 1050.7,714.7 1051.3,714.6 1051.8,720.6 1052.2,717.7 1052.7,727.7 1053.2,712.7 1053.6,722.5 1054.0,719.3 1054.4,721.4 1054.9,732.6 1055.4,716.2 1055.8,734.0 1056.2,721.3 1056.6,735.5 1056.9,731.0 1057.3,726.0 1057.8,725.1 1058.3,727.9 1058.7,733.5 1059.2,724.5 1059.6,722.2 1060.1,726.1 1060.5,720.3 1060.9,711.3 1061.3,710.7 1061.7,730.5 1062.2,724.7 1062.7,711.2 1063.1,712.5 1063.5,715.5 1064.0,729.1 1064.3,720.5 1064.9,708.0 1065.4,723.3 1065.9,740.6 1066.4,739.2 1066.9,731.9 1067.3,729.6 1067.8,743.0 1068.3,747.1 1068.7,749.5" fill="none" stroke="#c9c9c9" stroke-width="2.00" stroke-linejoin="round" stroke-linecap="round"/>
<path d="M69.0,1268.7 80.2,1266.7 88.6,1265.6 93.1,1265.2 99.1,1265.1 113.3,1265.7 119.2,1265.8 126.1,1265.5 131.9,1264.8 135.8,1264.0 136.3,1263.7 137.3,1262.0 139.2,1257.7 139.7,1257.0 140.2,1256.8 155.4,1256.8 165.3,1255.8 169.8,1255.7 175.6,1256.1 200.0,1258.4 203.9,1258.6 212.3,1258.5 245.0,1257.3 277.6,1255.3 302.8,1254.3 312.7,1253.5 314.2,1253.2 316.2,1252.4 323.2,1247.7 326.2,1246.2 329.7,1245.6 338.6,1244.7 341.1,1244.3 342.1,1243.9 343.5,1242.4 346.9,1236.9 347.9,1235.9 348.8,1235.5 350.3,1235.6 351.7,1236.0 361.8,1239.9 364.6,1240.5 365.6,1240.5 367.0,1240.1 371.3,1237.8 372.7,1237.2 374.1,1236.9 375.1,1237.0 377.6,1238.0 382.5,1241.1 384.5,1242.2 391.3,1244.8 393.3,1245.3 395.3,1245.6 406.7,1245.4 438.1,1244.2 441.1,1243.9 448.5,1242.1 454.3,1241.8 470.0,1241.6 488.8,1242.6 493.3,1242.7 495.7,1242.6 499.6,1242.0 510.3,1239.3 525.3,1236.3 527.7,1235.6 533.6,1233.1 535.1,1232.7 536.6,1232.6 538.6,1232.8 540.5,1233.2 545.9,1235.1 556.7,1238.3 561.6,1239.5 565.0,1239.8 579.9,1239.8 580.9,1240.0 581.9,1240.5 582.9,1241.3 586.8,1245.4 588.3,1246.7 589.8,1247.6 590.7,1247.8 591.7,1247.6 593.2,1246.8 594.7,1245.5 599.1,1241.0 600.6,1240.1 601.6,1239.8 610.8,1239.0 620.1,1238.7 624.5,1239.1 633.8,1240.3 638.2,1240.5 639.7,1240.4 641.7,1239.9 649.1,1237.3 652.1,1236.9 658.0,1237.3 664.9,1238.5 673.8,1240.5 678.1,1242.4 680.0,1242.8 680.5,1242.7 681.4,1242.3 684.8,1239.2 686.2,1238.4 688.2,1238.3 691.7,1238.7 696.7,1239.6 699.7,1240.6 705.2,1243.0 708.5,1245.1 710.0,1245.9 711.4,1246.2 713.3,1245.9 714.7,1245.4 716.1,1244.6 717.0,1243.9 717.5,1243.1 718.0,1241.7 718.9,1237.0 720.4,1227.1 721.3,1215.6 723.3,1182.4 725.1,1156.7 726.0,1147.7 726.4,1146.3 726.9,1148.3 727.9,1161.0 729.8,1194.7 731.1,1222.4 731.6,1228.7 732.0,1231.6 733.5,1233.2 734.5,1233.8 735.0,1233.8 735.4,1231.5 736.3,1217.1 737.6,1187.7 740.8,1094.7 741.2,1084.2 741.7,1080.2 742.2,1082.1 742.6,1087.4 745.0,1130.6 747.0,1157.3 750.4,1199.7 751.9,1215.4 752.9,1222.6 753.8,1227.4 755.2,1233.5 756.6,1238.3 758.0,1241.9 759.9,1245.4 760.9,1246.8 761.4,1247.1 761.9,1247.3 762.4,1247.1 763.3,1246.1 764.3,1244.1 764.8,1242.8 765.2,1239.5 765.7,1232.8 766.6,1212.2 767.9,1171.1 771.1,1016.2 771.5,999.3 772.0,992.7 772.4,998.9 774.2,1074.6 776.0,1132.8 776.9,1148.8 777.9,1159.7 778.8,1168.2 780.8,1182.6 786.7,1216.4 787.6,1219.9 788.1,1220.4 788.6,1217.8 790.4,1189.0 791.2,1179.4 791.7,1175.8 792.1,1174.4 792.6,1175.5 793.5,1182.7 795.3,1203.3 796.6,1221.3 797.1,1224.8 797.6,1227.0 798.5,1230.2 801.9,1238.7 808.6,1254.2 809.6,1255.8 810.1,1256.2 811.4,1257.0 812.8,1257.4 813.2,1257.2 813.7,1256.6 814.1,1255.7 815.0,1253.0 816.4,1247.3 816.8,1244.0 817.7,1232.1 819.1,1209.1 820.9,1167.7 821.3,1160.4 821.8,1157.6 822.2,1159.3 822.6,1163.8 824.9,1200.7 825.3,1205.2 825.8,1206.9 826.2,1205.0 826.7,1199.8 828.9,1157.9 829.4,1152.8 829.8,1150.8 830.3,1152.8 830.8,1158.0 832.7,1189.6 833.2,1194.8 833.6,1196.8 834.1,1195.5 834.6,1192.1 836.5,1173.2 837.0,1171.0 837.5,1170.3 839.2,1168.5 839.7,1167.7 840.2,1161.9 840.7,1148.8 842.6,1074.6 844.6,1018.5 846.4,977.7 846.9,970.8 847.3,968.0 847.8,970.1 848.2,975.7 849.1,994.7 850.0,1018.5 851.8,1112.9 852.3,1121.7 852.7,1118.9 853.2,1111.5 854.5,1074.6 855.8,999.2 856.3,988.2 856.7,991.7 857.2,1001.0 859.0,1061.9 860.8,1111.0 861.2,1119.5 861.7,1122.8 862.1,1103.4 863.0,1029.7 863.9,989.3 864.4,981.5 864.8,981.7 865.3,982.5 866.2,985.3 867.1,989.6 868.4,998.3 868.9,1003.5 870.6,1040.9 872.9,1079.1 873.8,1104.3 874.2,1110.5 874.7,1110.0 875.1,1108.7 876.9,1100.6 878.3,1097.0 879.3,1095.0 880.3,1093.8 880.7,1093.6 881.2,1094.4 882.1,1099.1 883.0,1106.0 885.2,1135.1 886.7,1145.4 887.7,1150.6 890.2,1161.9 895.3,1182.2 896.3,1187.2 899.1,1204.8 900.0,1209.1 900.5,1210.5 900.9,1211.4 901.7,1212.2 902.5,1212.5 902.9,1206.7 904.3,1164.3 905.0,1148.5 905.4,1145.2 905.8,1147.0 906.2,1151.7 907.0,1164.3 908.3,1197.1 908.8,1204.7 909.8,1213.7 910.8,1220.8 911.8,1226.0 912.8,1229.4 914.2,1231.8 915.1,1232.6 915.5,1232.7 916.0,1232.4 916.9,1230.1 919.2,1220.2 920.2,1217.1 920.6,1216.2 921.1,1215.9 921.6,1216.6 922.5,1221.6 923.4,1229.3 924.5,1253.7 924.9,1257.4 925.4,1245.9 925.8,1217.1 926.7,1141.9 927.6,1037.7 928.1,1011.8 928.5,1018.0 928.9,1033.8 931.0,1137.1 931.9,1174.0 932.3,1186.7 933.3,1205.6 934.7,1226.1 937.1,1249.2 938.1,1255.8 938.6,1257.8 939.1,1258.5 939.5,1258.2 940.0,1257.5 940.5,1256.3 941.5,1252.6 942.4,1247.3 942.9,1240.0 944.7,1175.5 946.5,1125.9 946.9,1119.4 947.4,1115.7 947.9,1113.0 949.8,1104.9 950.3,1101.5 950.7,1096.5 953.9,1040.6 954.3,1037.6 954.8,1039.3 955.7,1050.8 957.5,1082.8 959.9,1130.2 960.9,1143.7 962.4,1159.8 964.8,1182.2 966.8,1202.4 967.7,1209.2 968.2,1210.3 968.7,1207.2 969.1,1199.3 970.9,1151.8 972.7,1097.0 973.5,1079.3 973.9,1072.7 974.3,1070.1 974.7,1076.3 976.1,1119.4 977.5,1140.8 978.9,1155.9 980.9,1170.5 981.9,1176.5 982.9,1181.3 983.4,1183.1 984.4,1185.5 985.4,1187.0 987.4,1189.3 988.4,1191.2 988.8,1193.0 991.5,1216.1 992.0,1218.4 992.4,1219.2 992.9,1217.0 993.3,1211.2 996.9,1143.0 998.2,1129.8 998.5,1127.2 998.9,1126.2 999.4,1128.4 999.9,1134.2 1001.4,1161.0 1003.8,1200.0 1004.3,1205.0 1004.8,1206.9 1005.3,1206.8 1006.3,1206.2 1007.7,1204.4 1009.7,1200.2 1010.2,1198.2 1011.9,1182.2 1013.7,1160.5 1014.2,1158.7 1014.6,1161.0 1016.0,1178.8 1016.4,1181.1 1016.9,1180.6 1017.4,1179.3 1019.4,1170.3 1020.4,1167.0 1020.9,1166.5 1021.4,1166.6 1022.4,1167.5 1023.3,1169.0 1024.3,1171.0 1024.8,1174.0 1026.7,1202.1 1027.2,1207.2 1027.6,1209.1 1028.6,1209.0 1031.1,1208.2 1032.1,1208.0 1032.6,1208.9 1033.6,1214.9 1037.4,1247.6 1038.4,1253.2 1038.9,1254.0 1039.3,1251.9 1039.8,1246.5 1041.1,1220.4 1042.9,1161.6 1043.3,1153.1 1044.3,1145.6 1045.8,1139.1 1046.7,1132.9 1048.5,1104.1 1049.0,1101.5 1049.4,1102.2 1049.9,1103.9 1051.2,1110.5 1051.7,1111.8 1053.6,1115.9 1054.6,1119.4 1055.0,1124.3 1056.4,1155.1 1058.2,1191.6 1059.2,1207.0 1059.7,1211.7 1060.2,1213.6 1061.2,1214.0 1064.2,1214.6 1065.1,1215.1 1066.1,1216.8 1067.5,1220.9 1068.0,1222.6 1068.5,1225.4 1070.4,1244.9 1070.9,1248.2 1071.4,1249.5 1071.8,1243.9 1073.2,1201.3 1073.6,1195.7 1074.1,1199.6 1074.5,1209.8 1075.9,1250.6" fill="none" stroke="#24405f" stroke-width="3.00" stroke-linejoin="round" stroke-linecap="round"/>
<path d="M69.0,1268.7 70.0,1269.2 70.7,1270.3 71.6,1268.5 72.5,1269.1 73.2,1266.3 74.3,1265.0 75.1,1267.2 76.0,1267.3 76.9,1267.7 78.0,1266.2 79.1,1263.2 80.2,1267.3 81.0,1266.1 81.9,1265.5 82.7,1265.4 83.7,1263.1 84.8,1264.3 85.9,1265.5 87.0,1264.9 88.0,1265.4 88.9,1264.4 89.7,1268.6 90.7,1261.3 91.5,1264.5 92.2,1268.1 93.0,1264.9 94.1,1263.6 95.2,1264.9 95.9,1265.7 96.8,1267.1 97.9,1264.5 98.8,1263.1 99.8,1265.7 100.7,1267.1 101.8,1264.5 102.6,1267.3 103.3,1265.0 104.3,1267.7 105.0,1265.7 105.9,1264.7 106.9,1259.2 107.7,1263.9 108.6,1267.3 109.4,1265.7 110.5,1262.3 111.5,1268.2 112.4,1265.2 113.3,1264.5 114.0,1268.0 115.1,1265.2 116.2,1264.7 117.3,1266.3 118.3,1265.2 119.4,1262.8 120.4,1264.2 121.4,1264.3 122.5,1264.8 123.4,1267.4 124.2,1267.8 125.2,1267.4 126.3,1265.3 127.3,1266.7 128.2,1263.1 129.0,1267.3 130.0,1261.3 131.1,1264.7 131.9,1264.7 132.9,1262.9 133.9,1264.2 134.7,1265.5 135.6,1262.6 136.5,1263.8 137.6,1260.3 138.6,1261.1 139.4,1257.5 140.2,1255.0 141.2,1252.2 142.0,1255.2 142.9,1257.4 143.7,1255.5 144.5,1257.9 145.4,1256.9 146.4,1256.9 147.2,1254.4 148.1,1259.3 149.1,1256.9 150.0,1251.8 151.0,1258.4 152.1,1257.6 152.9,1259.2 153.9,1255.0 154.9,1254.9 155.9,1253.7 156.8,1256.0 157.7,1258.0 158.7,1255.6 159.5,1255.0 160.3,1257.8 161.1,1257.5 161.8,1258.4 162.7,1256.0 163.4,1254.0 164.2,1255.2 165.3,1254.7 166.4,1254.3 167.4,1257.7 168.3,1254.9 169.4,1258.2 170.3,1252.0 171.4,1255.4 172.5,1254.9 173.4,1253.3 174.4,1256.3 175.2,1256.1 176.2,1255.2 177.2,1256.7 178.1,1253.8 179.3,1257.6 180.3,1255.6 181.3,1256.8 182.2,1258.7 183.2,1257.5 184.1,1254.6 185.0,1256.6 185.8,1252.8 186.8,1255.2 187.7,1253.4 188.5,1258.4 189.6,1259.9 190.6,1256.9 191.4,1259.3 192.5,1257.3 193.5,1262.2 194.3,1260.1 195.2,1259.2 196.1,1258.6 197.0,1257.8 197.8,1256.4 198.7,1258.2 199.7,1258.2 M200.0,1258.4 200.9,1258.3 201.8,1258.3 202.6,1258.4 203.6,1257.3 204.5,1259.3 205.5,1258.2 206.4,1258.1 207.2,1257.9 208.3,1258.5 209.2,1258.2 210.1,1259.1 210.9,1258.9 211.7,1258.2 212.8,1257.6 213.8,1259.3 214.6,1258.9 215.6,1256.9 216.6,1257.8 217.6,1256.7 218.6,1259.8 219.6,1257.9 220.7,1258.2 221.5,1258.7 222.6,1257.5 223.7,1257.9 224.7,1259.0 225.7,1258.6 226.4,1258.2 227.3,1258.6 228.3,1259.0 229.3,1259.7 230.2,1257.1 231.0,1257.6 231.7,1257.9 232.6,1257.7 233.5,1257.8 234.5,1259.1 235.2,1258.5 236.3,1258.2 237.1,1257.6 237.9,1257.1 239.0,1258.8 239.9,1257.3 240.7,1257.6 241.4,1256.3 242.3,1257.8 243.1,1257.9 244.0,1256.7 245.1,1257.3 246.0,1258.0 246.7,1256.4 247.5,1256.7 248.4,1257.7 249.3,1258.4 250.3,1257.0 251.3,1257.2 252.2,1256.5 252.9,1257.2 253.9,1257.0 255.0,1256.1 256.1,1255.7 257.0,1256.7 257.8,1257.3 258.8,1256.8 259.8,1257.3 260.6,1256.5 261.4,1257.4 262.3,1255.5 263.3,1255.2 264.2,1257.0 265.0,1255.3 265.9,1256.5 266.8,1256.8 267.9,1254.6 268.7,1256.1 269.7,1255.0 270.8,1254.4 271.8,1255.6 272.5,1256.2 273.3,1256.7 274.3,1255.0 275.0,1256.4 275.7,1253.9 276.9,1253.8 278.0,1256.1 278.7,1255.9 279.5,1255.6 280.5,1253.7 281.3,1255.7 282.4,1254.3 283.5,1255.2 284.2,1254.2 285.2,1255.2 286.0,1254.7 286.9,1255.5 287.8,1253.9 288.8,1253.9 289.6,1255.5 290.5,1257.0 291.3,1255.0 292.2,1255.6 293.1,1255.2 294.1,1254.9 294.9,1255.4 295.7,1254.7 296.7,1255.1 297.8,1253.2 298.7,1253.4 299.8,1255.3 300.7,1254.1 301.7,1253.9 302.5,1256.1 303.3,1253.2 304.4,1254.1 305.3,1253.4 306.1,1255.2 306.9,1253.8 308.0,1254.1 309.1,1255.5 309.9,1253.6 310.8,1252.8 311.8,1253.5 312.8,1254.6 313.6,1252.5 314.3,1253.8 315.1,1253.6 315.9,1252.6 316.9,1251.1 317.7,1251.6 318.5,1251.1 319.5,1250.8 320.5,1249.9 321.3,1249.8 322.3,1248.5 323.4,1247.6 324.4,1247.4 325.5,1245.9 326.2,1246.0 327.3,1246.7 328.4,1245.3 329.3,1244.8 330.1,1246.0 331.2,1244.6 332.2,1245.1 333.1,1245.7 334.0,1245.1 335.1,1245.9 335.8,1243.5 336.7,1244.3 337.8,1244.9 338.8,1244.1 339.9,1245.2 340.7,1244.8 341.8,1243.9 342.6,1245.3 343.5,1241.9 344.3,1241.3 345.1,1242.1 345.8,1237.3 346.8,1236.9 347.5,1235.8 348.3,1237.5 349.2,1235.3 350.3,1235.6 351.4,1237.0 352.3,1238.4 353.1,1236.6 354.1,1236.5 354.9,1238.2 355.6,1237.3 356.8,1237.8 357.5,1238.6 358.6,1239.1 359.8,1239.3 360.6,1238.3 361.6,1241.3 362.3,1239.3 363.3,1241.4 364.2,1239.6 365.0,1240.9 366.1,1240.7 367.2,1239.7 368.0,1239.7 368.9,1239.4 369.6,1240.3 370.8,1238.2 371.7,1237.6 372.6,1236.9 373.5,1236.6 374.4,1237.8 375.4,1238.9 376.4,1237.2 377.5,1237.9 378.6,1238.9 379.5,1238.7 380.4,1241.7 381.5,1241.4 382.5,1241.0 383.4,1242.4 384.4,1241.1 385.6,1242.2 386.6,1243.4 387.7,1243.3 388.6,1243.1 389.5,1243.3 390.3,1243.2 391.2,1244.4 392.0,1244.7 392.7,1243.5 393.8,1245.0 394.8,1246.3 395.6,1245.2 396.5,1244.0 397.3,1245.8 398.2,1245.7 398.9,1245.7 399.7,1245.5 400.6,1246.3 401.6,1245.2 402.6,1245.7 403.5,1245.5 404.2,1243.1 405.1,1246.6 406.0,1244.5 407.1,1245.6 408.1,1243.9 408.8,1245.4 409.8,1246.2 410.9,1244.8 411.7,1244.4 412.5,1244.1 413.5,1244.9 414.6,1245.1 415.5,1244.6 416.3,1245.4 417.4,1244.6 418.5,1244.5 419.2,1245.3 420.1,1245.8 421.0,1243.7 421.8,1244.9 422.6,1245.4 423.4,1243.9 424.4,1245.1 425.4,1244.4 426.3,1244.4 427.3,1244.1 428.3,1244.1 429.2,1244.1 430.2,1244.3 431.3,1245.3 432.2,1244.5 433.2,1243.8 434.0,1245.5 435.0,1243.4 435.9,1244.5 436.9,1244.5 437.9,1243.8 438.8,1245.4 439.9,1243.1 440.9,1243.9 441.9,1243.8 442.8,1242.9 443.8,1243.0 444.6,1242.4 445.3,1242.6 446.1,1241.8 446.9,1243.0 447.7,1241.8 448.6,1242.1 449.7,1241.2 450.5,1241.9 451.6,1243.3 452.5,1243.2 453.6,1242.3 454.4,1242.8 455.6,1242.1 456.3,1240.6 457.3,1241.9 458.2,1242.6 459.0,1241.4 459.9,1241.2 460.9,1240.5 461.9,1241.6 462.9,1241.0 463.6,1241.3 464.5,1241.7 465.5,1240.7 466.4,1242.6 467.5,1241.9 468.3,1242.9 469.3,1241.5 470.2,1241.1 471.0,1240.8 472.1,1241.8 473.1,1241.8 474.0,1242.9 475.0,1244.2 475.9,1242.6 477.0,1242.0 477.7,1242.0 478.8,1242.2 479.8,1240.1 480.7,1242.4 481.5,1241.4 482.4,1239.7 483.2,1241.4 484.3,1242.7 485.4,1242.7 486.4,1243.5 487.3,1241.9 488.4,1242.5 489.3,1242.3 490.3,1243.6 491.0,1244.0 492.1,1241.3 492.8,1242.3 493.5,1241.2 494.4,1242.0 495.1,1242.8 495.9,1242.8 496.7,1242.4 497.7,1241.0 498.7,1241.9 499.7,1238.2 500.6,1241.6 501.6,1240.9 502.5,1242.5 503.3,1240.0 504.3,1241.0 505.1,1240.6 506.1,1241.2 507.1,1238.7 508.0,1237.5 508.8,1238.7 509.7,1238.0 510.7,1238.2 511.7,1240.0 512.8,1238.1 513.9,1239.2 514.6,1237.2 515.5,1239.1 516.4,1237.1 517.1,1237.6 517.9,1238.5 519.0,1237.7 M520.0,1237.5 520.8,1237.7 521.9,1236.5 523.0,1236.6 524.0,1235.1 524.9,1231.2 525.8,1235.0 526.6,1235.6 527.4,1238.0 528.5,1232.3 529.4,1235.4 530.4,1235.3 531.2,1235.0 532.3,1234.8 533.1,1232.6 534.1,1234.1 535.0,1232.8 535.9,1234.9 536.9,1231.4 537.6,1233.0 538.7,1232.1 539.5,1229.7 540.5,1234.0 541.4,1234.3 542.2,1234.2 543.2,1231.6 544.0,1231.7 544.8,1232.8 545.8,1234.4 546.7,1238.9 547.7,1235.1 548.7,1231.5 549.4,1237.5 550.3,1237.0 551.1,1236.2 552.0,1227.6 553.1,1237.8 553.8,1237.3 554.7,1237.6 555.7,1234.7 556.7,1241.7 557.4,1240.4 558.3,1238.5 559.3,1235.8 560.2,1240.8 561.3,1239.2 562.3,1239.4 563.2,1239.5 564.0,1238.5 565.0,1239.7 565.9,1239.8 M566.0,1239.8 566.6,1239.9 567.0,1243.8 567.6,1241.1 568.1,1243.0 568.6,1245.2 569.2,1238.5 569.6,1245.5 570.2,1234.2 570.8,1231.3 571.4,1237.9 572.0,1246.7 572.6,1244.0 573.0,1244.9 573.6,1233.2 574.2,1246.6 574.8,1244.0 575.4,1239.7 575.9,1247.3 576.3,1233.2 576.9,1241.5 577.4,1240.2 577.8,1241.2 578.2,1235.2 578.7,1240.6 579.2,1226.2 579.7,1239.5 580.2,1234.5 580.7,1247.4 581.3,1235.3 581.7,1243.7 582.3,1251.1 582.7,1241.4 583.1,1239.5 583.6,1236.8 584.2,1245.7 584.7,1241.9 585.1,1244.2 585.5,1251.1 586.0,1243.0 586.5,1241.0 586.9,1247.8 587.5,1249.5 588.1,1236.9 588.7,1245.2 589.2,1247.1 589.6,1252.7 590.0,1253.0 590.6,1243.3 591.2,1246.3 591.8,1244.6 592.3,1250.8 592.8,1247.6 M593.0,1246.9 594.1,1246.9 594.9,1245.5 595.7,1247.3 596.4,1243.6 597.2,1241.0 598.1,1244.2 599.0,1238.0 599.9,1239.4 600.9,1240.7 M602.0,1239.8 602.5,1238.7 603.0,1240.0 603.5,1237.1 604.0,1242.3 604.4,1236.0 604.9,1237.4 605.5,1245.7 606.0,1237.3 606.4,1228.2 606.9,1239.7 607.5,1230.6 607.9,1244.8 608.5,1242.7 609.1,1245.4 609.7,1250.2 610.1,1240.1 610.5,1234.3 611.0,1236.1 611.5,1250.8 612.1,1237.5 612.6,1236.7 613.1,1241.4 613.7,1236.6 614.2,1242.3 614.8,1244.3 615.2,1240.0 615.7,1241.0 616.3,1242.4 616.8,1237.3 617.3,1242.7 617.7,1233.6 618.3,1236.7 618.9,1238.4 619.5,1243.3 620.0,1239.5 620.5,1243.4 620.9,1241.2 621.4,1242.3 621.9,1228.7 622.4,1238.0 622.8,1238.5 623.3,1243.5 623.8,1240.9 624.3,1239.0 624.7,1241.8 625.2,1234.0 625.6,1236.4 626.2,1240.9 626.7,1246.1 627.2,1244.8 627.7,1237.6 628.3,1235.1 628.9,1237.1 629.4,1244.3 630.1,1239.4 630.6,1239.6 631.1,1235.2 631.6,1236.3 632.0,1242.7 632.6,1239.3 633.0,1242.3 633.6,1235.4 634.1,1256.5 634.6,1244.6 635.1,1235.9 635.5,1250.0 636.0,1231.2 636.6,1240.3 637.0,1239.2 637.6,1239.8 638.1,1240.9 638.6,1240.8 639.2,1256.8 639.8,1245.3 640.2,1238.0 640.6,1241.1 641.0,1239.0 641.5,1241.1 642.0,1239.7 M642.0,1239.8 642.9,1240.7 644.0,1239.8 645.0,1239.9 645.7,1240.7 646.6,1240.2 647.5,1234.6 648.4,1239.5 649.3,1238.5 650.3,1238.5 651.2,1236.9 M650.0,1237.1 650.8,1237.1 651.7,1238.0 652.7,1236.1 653.7,1237.0 654.7,1237.0 655.5,1239.1 656.5,1236.7 657.3,1237.0 658.4,1237.8 659.5,1236.0 660.2,1238.1 661.1,1235.7 662.0,1237.4 663.1,1239.6 664.2,1238.2 665.1,1237.9 666.1,1238.5 666.9,1239.5 668.0,1237.8 668.8,1239.2 669.9,1239.3 671.0,1241.9 671.9,1240.4 672.7,1240.7 673.5,1240.2 674.3,1241.5 675.4,1240.5 676.1,1241.2 676.9,1240.1 677.7,1242.9 678.4,1243.9 679.4,1242.9 680.3,1243.4 681.3,1241.5 682.1,1241.8 682.9,1241.9 683.7,1240.9 684.5,1239.0 685.3,1239.6 686.4,1237.7 687.4,1238.4 688.2,1239.2 689.0,1238.5 689.9,1240.0 690.9,1238.5 691.8,1238.6 692.9,1241.0 693.8,1238.2 694.5,1238.7 695.3,1239.2 696.1,1238.4 697.0,1239.8 697.8,1240.8 698.7,1240.2 699.4,1241.7 700.3,1241.0 701.3,1241.0 702.3,1240.9 703.3,1241.8 704.1,1242.7 704.9,1244.0 705.7,1243.3 706.7,1244.1 707.5,1244.5 708.6,1244.8 709.4,1245.8 710.2,1246.8 711.1,1247.1 711.9,1244.4 712.8,1246.5 713.8,1245.4 714.9,1246.0 715.8,1243.8 716.7,1243.0 717.8,1243.2 718.6,1238.2 719.5,1233.1 M1061.0,1214.0 1061.4,1212.9 1061.8,1216.1 1062.0,1213.6 1062.5,1217.9 1062.8,1222.3 1063.2,1205.8 1063.5,1209.6 1063.8,1225.7 1064.3,1215.0 1064.7,1207.9 1065.0,1216.2 1065.4,1209.7 1065.7,1209.7 1066.0,1212.5 1066.3,1216.2 1066.7,1219.4 1067.1,1229.0 1067.5,1218.6 1067.8,1221.4 1068.2,1224.5 1068.5,1230.7 1068.9,1232.3 1069.1,1231.4 1069.5,1238.4 1069.9,1255.2 1070.3,1244.0 1070.7,1250.2 1071.1,1254.0 1071.4,1250.8 1071.7,1234.3 1072.0,1248.7 1072.4,1232.3 1072.8,1220.5 1073.1,1210.0 1073.5,1198.1 1073.9,1194.9 1074.2,1204.1 1074.6,1214.6 1075.0,1225.9 1075.4,1234.8 1075.7,1245.9" fill="none" stroke="#24405f" stroke-width="2.00" stroke-linejoin="round" stroke-linecap="round"/>
<path d="M1167.2,466.2 1192.6,465.9 1242.6,465.8 1256.0,465.5 1268.8,465.1 1271.2,464.8 1273.7,464.2 1284.9,460.7 1293.7,459.3 1306.4,457.7 1334.7,454.7 1346.5,454.0 1364.3,453.4 1378.6,453.2 1386.5,453.5 1404.8,454.8 1413.2,455.0 1415.1,454.7 1417.5,453.8 1422.7,451.3 1427.9,447.9 1429.4,447.3 1430.8,447.1 1432.7,447.2 1435.1,447.6 1440.3,449.1 1442.2,450.1 1446.5,453.6 1448.4,454.8 1452.7,456.6 1455.6,457.2 1460.0,456.9 1470.0,455.4 1479.0,454.6 1483.9,454.3 1492.9,454.4 1518.1,455.4 1558.1,455.4 1565.4,455.8 1584.0,457.7 1593.3,459.0 1597.2,459.9 1606.6,459.7 1615.5,459.1 1622.9,458.2 1624.4,457.1 1626.8,454.6 1633.3,449.7 1636.3,448.1 1637.8,447.7 1638.8,447.6 1640.3,447.8 1642.2,448.6 1648.1,452.2 1654.5,455.7 1657.0,456.9 1661.5,458.2 1671.4,459.9 1675.4,460.8 1677.8,461.9 1684.1,465.5 1685.6,466.1 1687.0,466.4 1689.0,466.5 1692.0,466.1 1695.0,465.4 1699.5,464.0 1701.4,463.0 1705.3,460.1 1707.2,459.2 1716.1,458.5 1725.1,458.3 1727.5,458.7 1730.0,459.4 1737.3,462.4 1739.2,463.7 1743.1,467.1 1744.1,467.6 1745.0,468.0 1746.0,467.9 1747.0,467.4 1750.5,463.9 1751.5,463.3 1752.0,463.2 1759.9,462.6 1767.3,462.4 1768.8,462.8 1770.3,463.5 1772.2,464.9 1777.2,468.8 1778.6,469.7 1780.1,470.4 1781.6,470.6 1783.6,470.3 1785.1,469.7 1790.6,467.0 1792.1,466.6 1793.6,466.5 1795.1,466.9 1796.5,467.6 1802.4,471.2 1808.7,473.8 1813.1,475.2 1815.0,475.5 1816.5,475.4 1817.0,475.2 1817.9,474.3 1819.4,471.8 1820.4,469.5 1820.9,466.8 1821.3,461.4 1822.3,445.6 1825.5,379.5 1826.0,373.1 1826.9,364.2 1827.8,358.3 1828.2,357.4 1828.7,359.1 1829.1,363.7 1830.5,384.3 1832.4,425.8 1832.9,434.7 1833.4,440.4 1834.3,446.5 1835.2,451.0 1835.6,452.2 1836.1,452.7 1836.5,451.3 1837.4,441.5 1838.8,417.9 1839.2,407.4 1840.6,363.4 1842.5,312.0 1843.4,294.0 1843.9,291.2 1844.4,293.9 1844.8,300.8 1846.2,328.2 1849.0,373.3 1851.5,403.2 1853.4,422.5 1855.4,439.4 1856.4,446.3 1857.4,451.6 1859.7,461.4 1861.1,465.8 1862.1,467.7 1862.5,468.2 1863.0,468.4 1863.5,468.2 1863.9,467.7 1864.9,465.8 1866.4,460.5 1866.8,456.0 1867.2,447.1 1868.6,406.7 1869.0,388.5 1870.4,314.8 1872.3,237.0 1873.3,211.0 1873.8,207.1 1874.2,211.8 1874.6,224.2 1876.4,294.6 1877.8,331.8 1878.7,350.6 1879.6,364.3 1881.1,380.0 1883.0,396.9 1884.9,410.5 1887.4,425.9 1888.4,431.2 1889.4,434.3 1889.9,434.8 1890.4,432.4 1892.1,406.7 1893.9,393.5 1894.4,391.7 1894.8,391.0 1895.3,392.0 1895.7,394.6 1897.1,406.7 1899.0,433.3 1899.5,439.1 1900.0,442.6 1901.5,447.6 1904.5,453.8 1907.8,462.5 1909.2,465.7 1910.1,467.3 1912.6,470.6 1913.6,471.4 1914.1,471.7 1915.1,471.7 1916.0,470.9 1917.5,468.4 1917.9,467.3 1918.4,463.8 1922.2,394.5 1923.1,381.0 1923.5,376.8 1924.0,375.3 1924.4,377.2 1925.3,389.5 1926.7,413.2 1927.1,418.2 1927.6,420.2 1928.1,418.2 1928.6,412.8 1931.1,369.2 1931.6,363.9 1932.1,361.9 1932.5,363.9 1933.0,369.2 1934.9,401.6 1935.4,406.9 1935.9,409.0 1936.4,407.1 1936.8,402.4 1938.8,376.1 1939.2,373.1 1939.7,372.1 1941.5,369.7 1941.9,368.6 1942.4,362.2 1942.9,348.1 1944.9,272.1 1946.8,221.5 1947.8,204.9 1948.7,194.8 1949.6,187.9 1950.0,186.9 1950.5,190.4 1951.4,211.7 1952.7,253.3 1954.0,308.6 1954.5,321.2 1954.9,326.0 1955.4,320.5 1955.8,306.9 1956.7,272.1 1957.9,213.7 1958.3,206.0 1958.8,209.3 1959.3,217.9 1961.7,285.0 1962.6,314.4 1963.0,325.1 1963.5,329.3 1963.9,319.6 1965.0,249.7 1966.2,209.2 1966.6,204.9 1970.6,204.9 1971.1,208.5 1971.5,217.2 1975.6,305.6 1976.0,313.7 1976.5,317.0 1976.9,316.4 1977.8,312.5 1982.0,285.9 1982.5,284.0 1983.0,283.4 1983.5,284.0 1984.4,288.3 1985.9,299.1 1986.3,304.3 1987.7,327.5 1988.1,332.7 1989.6,342.5 1991.1,349.5 1994.0,361.1 1999.2,379.5 2002.0,393.3 2002.9,396.5 2003.4,397.4 2003.8,397.7 2004.3,394.1 2004.7,384.9 2005.6,360.5 2006.9,335.5 2007.3,329.5 2007.7,327.1 2008.0,331.2 2009.2,361.9 2010.6,384.5 2011.5,395.5 2012.4,404.0 2014.2,417.8 2015.1,421.6 2015.5,422.4 2016.9,423.4 2018.3,424.1 2019.7,424.5 2021.1,424.7 2021.6,423.8 2022.1,421.5 2023.5,412.1 2024.0,409.8 2024.5,409.0 2024.9,410.5 2025.4,414.3 2026.3,424.7 2027.4,446.3 2027.8,449.3 2028.2,434.8 2030.3,226.5 2030.8,206.0 2031.2,210.5 2031.7,222.2 2035.2,360.4 2036.2,383.8 2037.1,402.2 2038.6,423.5 2040.5,445.5 2041.5,452.7 2042.0,453.8 2042.4,453.7 2042.9,453.3 2043.8,451.7 2045.1,447.1 2045.6,438.9 2046.9,384.3 2048.7,324.9 2049.1,317.0 2049.6,312.3 2050.1,309.0 2051.5,301.9 2052.5,294.6 2053.4,279.6 2056.1,219.7 2056.5,216.1 2057.0,218.3 2057.4,224.1 2062.1,319.1 2065.0,370.4 2068.5,418.2 2069.5,427.7 2070.0,430.4 2070.5,431.4 2070.9,429.3 2071.4,423.7 2072.7,395.5 2073.1,381.7 2074.9,305.8 2075.7,282.2 2076.1,273.4 2076.5,269.9 2077.0,275.7 2077.9,305.0 2078.8,325.3 2080.7,351.6 2083.2,376.6 2084.7,389.3 2085.7,395.5 2086.2,397.7 2087.2,400.8 2089.1,404.8 2090.1,407.3 2090.6,409.0 2091.1,411.6 2093.6,435.1 2094.6,441.6 2095.1,442.6 2095.6,440.1 2096.0,433.8 2098.7,376.8 2099.6,361.9 2100.5,354.2 2101.0,351.6 2101.4,350.6 2101.9,352.3 2102.3,356.7 2104.6,391.9 2106.5,427.4 2107.0,432.8 2107.5,434.8 2108.0,434.6 2108.5,434.2 2109.5,432.8 2111.0,429.6 2112.4,425.2 2113.4,419.9 2115.3,406.7 2116.7,395.1 2117.1,392.2 2117.6,391.0 2118.0,393.6 2119.3,413.1 2119.8,415.7 2120.3,414.3 2120.8,410.8 2122.2,395.9 2122.7,392.4 2123.2,391.0 2123.6,391.1 2124.5,391.9 2125.4,393.3 2126.8,396.4 2127.2,397.7 2127.6,400.8 2129.4,429.5 2129.9,435.2 2130.3,438.1 2131.3,440.0 2132.2,441.0 2134.1,442.5 2135.0,443.8 2135.5,444.8 2136.0,447.2 2137.9,466.4 2138.4,469.5 2139.8,474.8 2140.2,475.9 2140.7,476.2 2141.1,474.0 2142.0,459.6 2143.8,418.6 2145.1,380.6 2146.0,361.9 2147.5,346.6 2151.2,317.0 2152.5,305.0 2153.0,303.5 2153.5,304.0 2153.9,305.4 2154.9,310.5 2156.3,321.7 2157.3,331.0 2159.5,371.0 2161.5,412.6 2161.9,420.0 2162.4,424.7 2163.4,429.8 2164.9,435.0 2167.4,441.7 2169.9,446.5 2170.9,449.5 2171.4,451.6 2171.8,456.9 2173.2,486.1 2173.6,489.7 2174.0,476.0 2174.8,415.9 2175.2,402.2 2175.7,406.2 2176.2,416.8 2178.1,480.7" fill="none" stroke="#9a5629" stroke-width="3.00" stroke-linejoin="round" stroke-linecap="round"/>
<path d="M1167.2,466.2 1168.0,466.4 1168.9,467.5 1169.7,465.0 1170.5,466.5 1171.6,466.8 1172.7,466.5 1173.6,465.2 1174.7,466.6 1175.7,465.6 1176.5,465.4 1177.6,466.2 1178.4,467.7 1179.5,464.9 1180.4,464.7 1181.2,465.0 1181.9,468.1 1182.9,466.6 1183.7,467.0 1184.5,465.9 1185.4,464.3 1186.3,467.9 1187.1,466.9 1188.0,466.3 1188.9,462.9 1190.0,467.4 1191.1,467.1 1192.1,466.0 1193.3,463.8 1194.0,463.9 1194.8,462.9 1195.5,466.2 1196.6,467.9 1197.4,465.8 1198.2,468.2 1199.3,466.8 1200.2,468.1 1201.1,465.2 1202.0,468.5 1203.0,467.4 1203.8,466.0 1204.7,466.2 1205.6,465.8 1206.5,467.2 1207.4,468.0 1208.4,467.0 1209.2,468.2 1210.1,463.5 1211.1,464.1 1212.1,463.6 1213.0,469.3 1214.1,464.0 1215.1,469.0 1216.2,466.8 1216.9,466.9 1217.9,467.8 1218.7,471.1 1219.8,465.9 1220.9,462.8 1221.9,464.9 1222.9,466.1 1223.7,461.5 1224.7,465.2 1225.8,465.3 1226.5,467.4 1227.4,463.4 1228.5,465.4 1229.6,466.9 1230.4,463.5 1231.3,463.6 1232.3,468.8 1233.1,467.2 1234.0,466.1 1234.8,465.0 1235.7,464.8 1236.7,469.2 1237.5,466.3 1238.4,463.8 1239.3,466.0 1240.0,466.8 1241.1,462.5 1242.0,464.9 1243.0,463.8 1243.8,466.6 1244.9,464.9 1245.9,467.1 1246.7,466.7 1247.7,465.3 1248.5,463.7 1249.3,463.0 1250.4,464.2 1251.2,464.5 1252.2,466.4 1253.2,466.2 1254.0,469.7 1254.9,463.5 1255.7,466.1 1256.7,463.3 1257.5,464.4 1258.5,465.5 1259.5,462.8 1260.6,466.2 1261.5,464.4 1262.4,464.7 1263.4,461.5 1264.5,466.1 1265.4,466.2 1266.3,461.9 1267.2,464.7 1268.0,464.8 1268.7,463.5 1269.7,466.2 1270.5,465.0 1271.6,467.3 1272.4,466.2 1273.4,462.8 1274.1,463.4 1274.9,464.3 1275.6,464.3 1276.4,462.8 1277.4,462.4 1278.3,463.4 1279.1,461.7 1280.2,462.7 1281.2,460.9 1282.0,464.1 1282.7,461.4 1283.7,461.3 1284.6,460.5 1285.6,457.5 1286.4,459.5 1287.4,460.1 1288.5,460.8 1289.6,458.5 1290.5,460.4 1291.5,457.6 1292.5,460.4 1293.3,459.9 1294.0,458.4 1295.1,460.6 1295.8,456.1 1296.6,458.5 1297.4,458.2 1298.4,458.4 1299.4,458.6 M1300.0,458.4 1301.1,458.4 1301.9,458.2 1302.9,456.6 1303.9,460.2 1304.7,457.5 1305.6,457.8 1306.4,458.1 1307.2,459.0 1308.1,458.3 1309.2,457.2 1310.1,457.3 1310.9,456.6 1311.8,456.5 1312.7,455.9 1313.7,455.9 1314.6,455.9 1315.5,455.5 1316.4,455.4 1317.1,457.4 1318.1,456.4 1318.9,456.8 1319.6,455.9 1320.4,456.4 1321.2,456.5 1322.2,454.3 1323.0,458.2 1324.1,454.9 1325.2,453.5 1326.2,455.9 1327.0,455.2 1327.9,454.6 1329.0,455.2 1329.7,455.7 1330.7,455.7 1331.6,454.6 1332.7,455.7 1333.6,453.9 1334.6,454.7 1335.5,456.8 1336.6,453.7 1337.7,451.9 1338.7,453.8 1339.7,454.5 1340.5,455.1 1341.3,454.1 1342.1,453.9 1342.8,453.7 1343.8,453.4 1344.5,453.6 1345.5,453.6 1346.5,455.6 1347.4,453.2 1348.4,454.2 1349.4,453.8 1350.3,454.0 1351.1,453.5 1352.0,454.9 1352.9,455.1 1353.9,455.4 1354.7,454.2 1355.5,454.2 1356.5,453.1 1357.6,454.0 1358.3,453.7 1359.3,454.3 1360.3,453.0 1361.3,454.1 1362.1,453.6 1363.1,453.4 1364.2,453.0 1365.1,453.0 1366.0,453.3 1366.8,453.2 1367.6,453.0 1368.6,454.4 1369.6,453.0 1370.6,452.1 1371.3,452.6 1372.1,452.2 1373.2,452.0 1374.1,450.6 1375.2,453.9 1376.2,454.4 1377.0,453.4 1378.0,452.1 1378.7,452.4 1379.9,454.1 1380.8,452.1 1381.9,453.5 1383.0,453.7 1383.8,451.0 1384.7,454.4 1385.8,454.5 1386.9,452.6 1387.9,452.6 1388.8,454.6 1389.6,454.3 1390.5,454.0 1391.5,454.5 1392.4,454.1 1393.2,453.8 1394.0,454.4 1395.0,453.8 1395.9,454.1 1396.9,454.6 1397.8,454.6 1398.9,453.6 1399.9,455.0 1400.9,454.8 1401.9,453.8 1402.8,455.6 1403.8,454.7 1404.7,455.6 1405.8,455.7 1406.8,453.7 1407.7,453.9 1408.6,453.6 1409.7,454.7 1410.6,453.8 1411.4,456.5 1412.2,452.8 1413.3,454.4 1414.3,455.6 1415.2,455.5 1416.2,456.7 1417.3,453.0 1418.2,452.8 1419.3,451.1 1420.3,449.4 1421.1,451.9 1422.1,450.9 1422.9,450.9 1423.9,450.2 1424.6,449.6 1425.4,450.1 1426.2,450.7 1427.1,448.0 1428.1,448.1 1429.1,446.8 1430.3,446.6 1431.0,447.1 1431.7,446.8 1432.6,448.6 1433.4,446.7 1434.5,446.0 1435.3,448.1 1436.1,449.1 1437.2,448.4 1438.1,449.3 1438.9,448.3 1439.8,448.6 1440.8,448.5 1441.6,449.1 1442.4,450.2 1443.3,451.4 1444.3,452.2 1445.3,452.7 1446.3,453.2 1447.0,453.9 1447.8,455.1 1448.7,454.2 1449.5,455.2 1450.6,454.5 1451.6,455.3 1452.5,456.6 1453.5,459.1 1454.3,454.8 1455.3,456.6 1456.2,455.8 1457.4,457.8 1458.4,458.0 1459.2,457.5 1460.0,454.7 1461.0,457.7 1461.9,456.5 1462.7,460.1 1463.5,456.0 1464.5,456.6 1465.3,454.8 1466.1,456.3 1467.1,457.2 1468.2,456.0 1469.2,456.6 1470.3,455.6 1471.0,456.8 1471.9,455.7 1472.8,454.3 1473.7,454.6 1474.7,454.5 1475.6,452.8 1476.4,454.9 1477.3,454.2 1478.0,453.8 1479.0,453.0 1480.0,454.6 1481.0,454.4 1482.1,454.9 1483.1,454.4 1484.1,455.8 1485.0,453.5 1486.1,453.9 1486.8,452.2 1487.6,454.1 1488.5,454.5 1489.3,454.0 1490.1,454.2 1490.9,453.1 1491.8,455.4 1492.5,455.1 1493.4,453.6 1494.4,453.4 1495.5,454.9 1496.3,453.8 1497.2,453.4 1498.2,454.2 1499.1,455.4 1499.9,454.9 1501.0,456.0 1501.9,453.5 1502.9,455.3 1504.0,456.2 1505.0,453.9 1506.1,455.1 1506.9,455.4 1507.9,455.6 1509.0,455.9 1509.9,454.6 1510.8,455.3 1511.7,454.2 1512.7,454.9 1513.5,454.7 1514.2,454.5 1515.1,454.1 1516.0,454.1 1516.9,456.3 1517.6,455.3 1518.4,454.7 1519.2,455.2 1520.3,454.6 1521.3,453.4 1522.3,455.1 1523.3,456.3 1524.1,456.8 1524.8,456.0 1525.6,455.7 1526.7,455.4 1527.7,454.7 1528.5,456.5 1529.4,456.6 1530.4,455.2 1531.1,456.8 1532.2,455.3 1533.2,455.2 1534.3,455.1 1535.3,456.3 1536.2,455.8 1537.2,454.4 1538.1,454.9 1538.9,456.0 1539.8,454.7 1540.6,454.6 1541.6,455.8 1542.4,455.3 1543.2,454.4 1544.2,455.5 1545.0,455.0 1545.8,455.5 1546.8,456.6 1547.6,455.4 1548.7,454.7 1549.7,457.0 1550.6,453.6 1551.4,456.0 1552.2,454.7 1553.2,455.6 1554.0,454.3 1554.8,455.8 1555.6,456.4 1556.5,456.5 1557.3,455.3 1558.0,456.2 1559.0,456.5 1559.8,454.9 1560.8,454.7 1561.9,456.8 1562.8,453.1 1563.5,454.1 1564.6,456.0 1565.7,455.9 1566.7,455.3 1567.7,455.2 1568.6,457.7 1569.6,456.5 1570.4,456.7 1571.3,456.3 1572.1,455.9 1573.1,455.8 1573.8,455.7 1574.8,455.2 1575.9,458.9 1576.9,457.9 1577.8,456.7 1578.9,456.1 1579.9,456.1 1580.9,456.6 1581.9,457.3 1582.8,457.0 1583.5,457.5 1584.6,457.8 1585.5,458.7 1586.3,458.1 1587.1,458.0 1587.9,458.1 1588.6,457.7 1589.5,459.7 1590.4,458.0 1591.3,459.3 1592.5,458.7 1593.4,458.9 1594.5,459.3 1595.5,459.0 1596.2,459.8 1597.0,458.6 1597.8,459.8 1598.8,459.4 1599.9,459.0 1600.8,460.3 1601.8,460.2 1602.8,460.0 1603.8,460.7 1604.7,460.5 1605.8,460.3 1606.6,457.8 1607.5,460.0 1608.5,461.0 1609.5,458.6 1610.5,458.6 1611.5,457.5 1612.5,458.6 1613.5,459.8 1614.4,460.1 1615.6,459.7 1616.4,457.1 1617.4,458.8 1618.3,458.9 1619.4,458.6 M1622.0,458.4 1623.1,456.5 1623.8,457.8 1624.7,456.0 1625.7,453.4 1626.8,454.4 1627.9,454.1 1628.7,453.4 1629.5,448.6 1630.4,451.4 1631.1,449.1 1632.0,449.3 1633.0,450.0 1634.0,450.7 1634.9,447.0 1636.0,447.2 1636.9,447.2 1637.6,445.5 1638.6,448.7 1639.6,446.2 1640.7,450.7 1641.7,449.1 1642.5,450.5 1643.6,453.3 1644.5,454.3 1645.4,448.9 1646.3,449.6 1647.3,455.0 1648.2,454.9 1649.1,455.1 1650.2,453.8 1651.1,455.1 1651.8,455.7 1652.6,454.0 1653.5,456.4 1654.6,455.3 1655.5,452.1 1656.4,456.2 1657.2,456.7 1658.1,459.2 1659.2,458.9 1660.3,459.2 1661.1,459.0 1662.2,456.9 1663.0,457.7 1664.0,458.3 1665.0,457.5 1665.8,457.2 1666.6,460.0 1667.7,459.6 M1668.0,459.3 1668.6,459.4 1669.2,458.7 1669.8,462.9 1670.3,453.0 1670.9,461.1 1671.4,454.1 1672.0,460.7 1672.6,452.8 1673.1,468.9 1673.6,452.0 1674.0,472.8 1674.5,458.7 1674.9,452.7 1675.5,458.4 1675.9,467.4 1676.6,461.8 1677.0,455.5 1677.4,471.3 1678.1,458.0 1678.6,466.0 1679.1,460.9 1679.7,462.9 1680.3,455.3 1680.7,463.7 1681.2,475.1 1681.8,448.7 1682.3,461.5 1682.7,451.0 1683.2,463.7 1683.6,472.0 1684.1,468.4 1684.6,465.2 1685.1,457.3 1685.7,467.0 1686.2,457.9 1686.8,473.0 1687.4,473.2 1687.8,461.8 1688.4,468.0 1688.8,465.5 1689.3,480.8 1689.8,466.0 1690.2,469.0 1690.7,467.9 1691.3,473.8 1691.9,471.9 1692.4,461.7 1693.0,461.3 1693.4,467.4 1694.0,460.6 1694.5,464.3 1695.0,456.8 1695.6,467.4 1696.0,459.1 1696.6,469.6 1697.1,465.3 1697.6,461.7 1698.1,457.7 1698.6,463.2 1699.1,465.1 1699.6,463.7 M1700.0,463.8 1701.1,463.5 1702.0,464.3 1702.7,460.5 1703.6,459.1 1704.7,460.5 1705.5,458.7 1706.4,460.5 1707.3,460.1 1708.4,459.3 1709.4,459.4 1710.5,459.1 1711.3,458.3 M1712.0,458.7 1712.6,461.0 1713.1,459.4 1713.6,459.8 1714.0,462.8 1714.4,450.0 1714.8,454.2 1715.3,462.4 1715.8,439.0 1716.3,454.8 1716.9,451.3 1717.3,461.7 1717.8,458.6 1718.2,452.5 1718.7,469.6 1719.3,451.6 1719.8,453.6 1720.2,455.4 1720.6,450.9 1721.2,462.0 1721.7,455.1 1722.3,458.0 1722.9,457.2 1723.3,450.9 1723.8,464.0 1724.4,460.2 1724.9,469.5 1725.5,455.7 1725.9,454.7 1726.5,462.4 1726.9,471.9 1727.4,457.4 1728.0,454.2 1728.4,458.2 1728.9,453.8 1729.4,454.8 1729.9,460.8 1730.5,461.8 1731.0,462.9 1731.6,460.2 1732.1,461.8 1732.7,463.6 1733.3,455.5 1733.8,463.3 1734.2,460.4 1734.8,460.6 1735.2,459.7 1735.8,466.2 1736.4,462.2 1737.0,468.4 1737.5,459.0 1738.0,466.8 1738.6,466.1 1739.2,465.0 1739.7,461.6 1740.3,468.7 1740.9,466.8 1741.4,464.2 1741.9,454.1 1742.5,464.6 1743.0,466.7 1743.4,478.1 1743.8,469.4 1744.3,464.7 1744.9,465.6 1745.4,470.1 1745.9,465.1 1746.5,466.9 M1750.0,464.4 1750.8,463.9 1751.6,463.3 1752.4,463.0 1753.3,463.2 1754.1,462.7 1755.2,463.5 1756.3,462.1 1757.1,462.8 1757.9,461.6 1758.9,462.0 1759.9,461.0 1760.7,462.1 1761.5,461.3 1762.4,463.3 1763.2,462.0 1764.1,463.5 1765.0,463.9 1765.8,463.7 1766.7,463.2 1767.6,462.5 1768.7,464.6 1769.8,463.5 1770.9,464.4 1771.8,465.1 1772.8,463.3 1773.8,467.7 1774.8,469.8 1775.9,467.9 1776.6,469.0 1777.5,466.9 1778.4,469.2 1779.4,470.2 1780.4,471.5 1781.5,470.6 1782.4,470.7 1783.5,470.2 1784.5,469.8 1785.6,471.0 1786.6,469.1 1787.6,468.4 1788.7,468.1 1789.8,468.3 1790.9,467.4 1792.0,466.9 1793.0,466.0 1794.0,467.7 1795.0,466.9 1795.8,467.3 1796.7,466.6 1797.8,466.7 1798.7,468.8 1799.7,468.4 1800.7,471.4 1801.7,471.9 1802.8,472.0 1803.6,471.4 1804.8,472.9 1805.7,471.9 1806.6,473.1 1807.7,471.5 1808.6,473.4 1809.3,475.2 1810.3,474.0 1811.2,475.8 1812.3,475.3 1813.3,475.6 1814.3,476.4 1815.2,476.3 1816.0,476.1 1816.9,473.4 1817.7,474.4 1818.7,473.4 1819.5,471.6 M2161.0,403.7 2161.4,413.3 2161.7,420.0 2162.0,417.1 2162.4,429.0 2162.8,428.5 2163.2,433.3 2163.5,430.2 2163.9,421.5 2164.2,437.9 2164.6,437.3 2165.0,437.3 2165.3,435.5 2165.6,435.3 2165.9,432.4 2166.3,456.2 2166.8,440.2 2167.1,441.3 2167.5,444.2 2167.8,440.6 2168.3,453.5 2168.7,439.2 2169.1,439.7 2169.4,442.5 2169.8,443.4 2170.1,455.4 2170.5,447.7 2170.9,465.4 2171.3,453.8 2171.6,445.9 2171.9,452.5 2172.3,463.2 2172.6,489.0 2173.0,483.4 2173.4,489.0 2173.8,487.8 2174.2,483.2 2174.5,444.2 2174.8,411.0 2175.2,390.5 2175.5,422.2 2175.9,409.0 2176.3,416.6 2176.6,428.7 2176.9,445.6 2177.2,454.8 2177.5,465.3 2177.9,476.1" fill="none" stroke="#9a5629" stroke-width="2.00" stroke-linejoin="round" stroke-linecap="round"/>
<path d="M1167.2,842.4 1194.6,841.7 1232.2,841.3 1237.6,841.5 1249.4,842.6 1254.9,842.7 1258.4,842.3 1268.3,840.5 1286.9,839.1 1303.4,837.0 1314.2,836.2 1320.5,835.9 1339.5,836.2 1380.6,836.2 1404.8,836.8 1413.2,836.9 1415.6,836.4 1418.0,835.3 1422.7,832.8 1428.4,828.6 1429.8,828.0 1430.8,827.9 1434.2,828.2 1438.5,829.1 1440.4,830.2 1444.7,833.7 1446.6,834.9 1451.8,836.7 1453.7,837.1 1455.6,837.3 1459.0,837.1 1466.5,836.1 1470.0,835.9 1523.0,835.8 1557.6,835.1 1565.0,835.4 1576.2,836.3 1587.9,838.3 1592.3,838.7 1596.7,838.5 1606.4,836.7 1610.8,836.2 1614.3,836.4 1622.3,837.8 1625.8,838.0 1626.2,837.9 1627.2,837.1 1630.7,832.1 1633.6,828.9 1635.1,827.7 1636.1,827.3 1636.6,827.2 1639.0,827.6 1641.3,828.5 1647.1,831.1 1653.9,835.0 1656.3,835.9 1658.7,836.2 1664.5,835.2 1667.5,835.2 1670.0,835.6 1672.4,836.2 1678.4,838.2 1680.4,839.0 1681.4,839.6 1682.9,841.0 1687.3,845.9 1688.8,847.1 1690.3,847.7 1692.2,847.7 1694.7,847.0 1702.1,843.9 1704.6,842.6 1710.5,838.8 1713.0,837.5 1715.5,837.0 1720.0,837.1 1727.0,838.1 1730.5,838.7 1732.0,839.3 1734.4,840.9 1740.9,846.3 1742.4,847.1 1743.9,847.7 1745.4,847.7 1746.9,847.3 1748.3,846.5 1752.8,843.3 1754.7,842.5 1755.7,842.4 1758.7,842.5 1764.6,843.1 1767.1,843.5 1769.1,844.3 1771.0,845.6 1776.5,849.7 1778.0,850.6 1779.5,851.2 1780.5,851.4 1782.0,851.3 1787.0,849.8 1788.5,849.5 1791.5,849.8 1794.5,850.6 1798.9,852.1 1804.9,855.4 1806.9,856.2 1812.9,858.1 1814.9,858.4 1816.3,858.4 1817.7,857.6 1819.0,855.7 1819.9,854.0 1820.4,851.2 1821.3,836.9 1822.6,806.9 1825.5,753.1 1826.7,727.9 1827.1,721.8 1827.5,719.4 1828.0,721.5 1829.0,735.3 1831.0,774.6 1832.9,821.5 1833.4,827.1 1834.7,834.3 1835.6,836.8 1836.1,837.2 1836.5,835.6 1837.4,824.6 1838.8,797.9 1839.2,785.8 1840.6,734.0 1842.0,689.9 1843.0,667.0 1843.5,663.4 1843.9,665.7 1844.4,671.8 1846.2,708.2 1849.0,753.3 1851.0,777.7 1852.9,797.9 1855.9,822.5 1856.9,828.9 1858.8,838.9 1860.2,845.8 1861.6,850.9 1862.5,852.6 1863.0,852.9 1863.5,852.8 1864.4,851.9 1864.9,851.1 1866.4,847.3 1866.8,842.5 1867.2,832.4 1869.0,768.3 1872.2,603.7 1872.6,586.9 1873.1,580.4 1873.6,585.6 1874.1,599.3 1876.0,674.6 1877.3,706.1 1878.7,730.6 1880.1,749.5 1882.1,768.8 1884.0,784.0 1887.4,807.1 1888.9,815.1 1889.4,816.5 1889.9,817.0 1890.4,814.5 1892.1,786.7 1893.9,770.7 1894.4,768.5 1894.8,767.7 1895.3,768.9 1896.2,776.7 1897.6,792.7 1899.0,815.3 1899.5,821.2 1900.0,824.8 1901.5,829.9 1904.5,836.1 1907.8,844.3 1909.6,848.6 1912.8,855.1 1913.7,856.1 1914.1,856.2 1914.6,856.1 1915.6,855.2 1917.0,852.4 1917.9,849.5 1918.4,845.7 1918.9,838.3 1922.6,762.5 1923.5,750.4 1924.0,748.6 1924.4,750.6 1925.3,763.5 1926.7,788.3 1927.1,793.7 1927.6,795.7 1928.1,793.6 1928.6,788.0 1931.1,742.8 1931.6,737.2 1932.1,735.1 1932.5,737.3 1933.0,742.8 1934.9,776.8 1935.4,782.4 1935.9,784.5 1936.4,782.7 1936.8,777.9 1938.8,751.6 1939.2,748.6 1939.7,747.6 1941.5,745.2 1941.9,744.1 1942.4,738.0 1942.9,724.4 1944.4,667.4 1945.3,640.0 1947.3,597.9 1948.6,574.8 1948.9,569.2 1949.3,566.9 1949.8,570.5 1950.2,579.6 1952.1,633.2 1953.5,685.4 1954.0,697.1 1954.5,701.5 1954.9,698.5 1955.4,690.5 1956.7,652.1 1957.9,594.1 1958.3,586.0 1958.8,589.2 1959.3,597.9 1961.7,665.2 1962.6,695.2 1963.0,706.1 1963.5,710.5 1963.9,700.2 1965.0,629.7 1966.2,596.1 1966.6,592.7 1968.9,593.0 1970.6,593.8 1971.1,597.8 1971.5,607.2 1973.8,660.3 1975.6,697.1 1976.0,704.2 1976.5,707.1 1976.9,706.5 1977.4,704.8 1979.2,694.4 1981.5,685.9 1982.5,683.8 1983.0,683.5 1983.4,684.0 1983.9,685.4 1985.2,692.5 1985.7,697.4 1987.7,731.6 1988.1,737.4 1989.1,744.7 1990.6,753.2 1993.5,766.4 1998.7,786.7 1999.6,792.1 2002.0,808.3 2002.9,813.0 2003.4,814.3 2003.8,814.8 2004.3,810.9 2006.1,764.3 2006.8,748.6 2007.2,745.2 2007.6,747.5 2008.0,753.2 2009.2,775.5 2011.0,800.1 2012.8,816.5 2014.2,826.2 2015.1,829.8 2015.5,830.5 2018.3,831.3 2021.1,831.6 2021.6,830.5 2023.5,818.1 2024.0,817.0 2024.4,818.4 2024.8,822.0 2025.6,831.6 2026.9,856.2 2027.4,859.6 2027.8,844.1 2029.7,640.7 2030.1,623.0 2030.6,626.5 2031.5,649.5 2035.2,774.9 2036.2,797.0 2037.6,822.9 2040.0,854.7 2040.8,863.8 2041.3,865.2 2041.8,865.1 2042.7,863.7 2043.7,860.9 2045.1,854.0 2045.6,844.9 2046.9,786.7 2048.2,738.6 2049.1,714.9 2050.1,701.0 2052.5,674.6 2055.5,619.9 2055.9,614.1 2056.3,611.8 2056.8,614.0 2057.3,619.8 2062.1,711.0 2065.0,758.0 2068.2,800.7 2069.1,809.2 2069.6,811.6 2070.0,812.5 2070.5,811.1 2071.4,801.0 2072.7,775.5 2073.6,745.2 2075.7,653.6 2076.1,646.5 2076.5,651.1 2078.3,701.5 2079.7,722.0 2081.7,741.9 2083.7,758.4 2085.7,771.0 2087.2,776.7 2089.1,781.8 2090.1,784.8 2091.1,789.3 2093.3,810.4 2094.2,816.1 2094.7,817.0 2095.1,815.0 2095.6,809.6 2099.2,741.5 2100.0,730.6 2100.4,726.7 2100.7,725.0 2101.2,726.5 2102.2,736.2 2104.6,770.9 2106.0,794.4 2107.0,805.3 2107.5,806.9 2108.0,806.7 2108.5,806.1 2109.5,804.0 2111.4,797.5 2112.9,791.5 2113.9,786.0 2115.3,775.5 2116.5,759.8 2116.9,757.6 2117.3,759.9 2118.7,777.7 2119.1,780.0 2119.6,779.3 2120.0,777.3 2121.8,764.2 2122.7,759.4 2123.2,758.7 2123.6,758.8 2124.5,759.4 2125.4,760.5 2127.2,764.3 2127.6,767.5 2129.4,798.9 2129.9,804.7 2130.3,806.9 2131.3,806.6 2133.3,805.2 2134.3,804.7 2134.8,804.7 2135.3,805.8 2136.2,813.3 2138.0,836.1 2139.8,853.5 2140.7,859.8 2141.1,860.7 2141.6,857.1 2142.0,847.9 2145.1,755.9 2146.0,737.4 2147.0,727.9 2151.2,699.2 2151.9,690.2 2152.3,688.0 2152.8,688.6 2153.3,690.1 2154.2,695.3 2155.7,706.0 2156.6,715.9 2159.0,753.1 2161.5,808.8 2161.9,816.6 2162.4,820.4 2162.9,821.6 2163.9,823.3 2166.4,826.2 2168.4,830.3 2169.9,834.9 2170.9,839.7 2171.4,842.8 2171.8,849.5 2172.6,871.7 2173.0,876.4 2173.4,869.0 2174.7,812.1 2175.2,804.7 2175.7,806.4 2176.2,810.9 2178.1,838.3" fill="none" stroke="#966a2c" stroke-width="3.00" stroke-linejoin="round" stroke-linecap="round"/>
<path d="M1167.2,842.4 1168.3,841.7 1169.4,843.5 1170.4,842.6 1171.2,841.1 1172.1,840.0 1172.9,843.2 1173.7,841.0 1174.6,841.1 1175.3,845.2 1176.2,843.1 1177.0,845.1 1177.8,845.4 1178.6,841.7 1179.4,841.9 1180.3,841.9 1181.3,840.6 1182.3,842.1 1183.4,844.5 1184.2,842.3 1185.0,838.7 1186.1,841.7 1187.0,842.5 1188.0,840.2 1188.9,839.5 1189.8,840.3 1190.9,842.2 1191.7,843.5 1192.7,843.7 1193.7,843.0 1194.7,841.0 1195.5,843.3 1196.6,844.1 1197.4,842.1 1198.2,843.8 1199.0,841.3 1200.2,840.8 1201.1,841.2 1201.9,843.1 1203.0,842.1 1203.8,837.6 1204.7,841.0 1205.6,842.1 1206.5,841.0 1207.6,842.1 1208.5,840.7 1209.5,844.0 1210.4,844.8 1211.4,841.1 1212.4,843.2 1213.5,842.4 1214.3,839.7 1215.3,840.7 1216.1,840.1 1217.0,842.2 1217.9,840.9 1218.8,844.1 1219.6,844.7 1220.5,843.4 1221.4,842.4 1222.4,842.5 1223.4,840.8 1224.6,842.0 1225.4,843.2 1226.2,840.4 1226.9,836.8 1227.7,843.0 1228.6,840.9 1229.6,842.2 1230.5,841.7 1231.6,843.2 1232.5,838.8 1233.4,840.9 1234.6,842.5 1235.4,842.4 1236.4,842.6 1237.1,840.2 1237.9,842.7 1239.0,840.8 1240.1,840.4 1240.9,843.2 1242.0,840.5 1242.9,841.6 1243.7,840.6 1244.7,844.5 1245.6,843.4 1246.3,841.1 1247.4,841.2 1248.1,841.2 1249.1,842.3 1250.0,845.2 1250.9,846.5 1251.9,840.6 1252.9,841.2 1253.9,842.0 1254.8,843.8 1255.8,842.3 1256.7,842.3 1257.8,842.1 1258.7,842.2 1259.7,840.9 1260.6,840.6 1261.6,842.1 1262.4,842.8 1263.4,840.2 1264.5,841.7 1265.4,839.2 1266.2,840.3 1267.2,841.7 1268.3,841.0 1269.0,839.7 1270.0,834.2 1271.0,842.6 1271.8,839.5 1272.6,838.9 1273.6,835.9 1274.6,839.6 1275.5,841.9 1276.2,841.9 1277.1,841.1 1278.1,840.6 1279.1,840.7 1280.2,838.6 1281.1,839.2 1281.9,842.3 1282.8,839.0 1283.6,840.8 1284.3,839.5 1285.2,837.7 1286.3,839.5 1287.3,837.5 1288.4,838.5 1289.4,838.8 1290.3,838.0 1291.3,836.4 1292.4,840.5 1293.5,836.5 1294.3,839.9 1295.4,837.7 1296.2,838.2 1297.0,838.7 1297.9,837.8 1298.9,837.2 1300.0,837.4 M1300.0,837.4 1300.7,837.3 1301.8,836.5 1302.9,837.3 1303.9,838.9 1304.9,837.3 1305.6,837.9 1306.4,836.9 1307.3,836.0 1308.0,836.8 1309.0,835.8 1310.0,835.4 1310.8,836.2 1311.7,836.6 1312.5,836.4 1313.5,836.5 1314.4,834.8 1315.1,836.5 1316.2,834.0 1317.0,835.1 1317.7,834.6 1318.7,836.2 1319.4,836.4 1320.5,835.0 1321.3,835.4 1322.1,834.6 1323.1,838.2 1323.9,837.3 1324.9,835.1 1325.9,836.2 1326.7,837.5 1327.7,836.0 1328.7,836.6 1329.5,836.8 1330.3,835.0 1331.3,835.8 1332.3,835.9 1333.3,837.2 1334.4,836.4 1335.3,835.9 1336.0,835.7 1336.7,838.3 1337.7,836.2 1338.6,836.0 1339.7,835.5 1340.4,835.9 1341.3,837.4 1342.0,836.5 1343.1,836.7 1344.2,836.6 1345.0,835.9 1345.8,836.6 1346.7,835.2 1347.7,835.4 1348.6,835.7 1349.5,837.1 1350.3,835.9 1351.2,833.1 1352.1,838.6 1353.0,837.0 1354.1,835.7 1354.9,836.6 1355.8,836.2 1356.6,835.5 1357.7,837.0 1358.4,835.2 1359.4,836.8 1360.4,836.3 1361.2,836.5 1362.2,835.4 1363.3,836.1 1364.2,836.3 1365.1,836.1 1366.0,836.4 1367.0,834.1 1368.1,837.8 1369.1,834.6 1370.1,835.8 1371.0,836.1 1371.8,836.6 1372.9,836.0 1373.7,835.4 1374.5,836.2 1375.5,834.8 1376.6,836.1 1377.5,834.9 1378.3,837.4 1379.1,836.0 1379.9,835.1 1380.8,834.6 1381.6,835.8 1382.5,835.2 1383.3,836.0 1384.4,837.0 1385.3,836.4 1386.3,835.7 1387.4,836.2 1388.3,835.4 1389.1,836.2 1389.9,837.7 1390.7,835.3 1391.5,836.0 1392.5,836.0 1393.4,835.1 1394.5,835.8 1395.6,838.3 1396.6,837.2 1397.4,835.8 1398.1,837.4 1399.2,837.8 1400.2,837.2 1401.3,835.4 1402.4,837.1 1403.2,837.1 1404.2,836.2 1405.0,835.5 1405.9,837.8 1406.9,837.7 1408.0,837.2 1409.0,836.8 1409.8,836.1 1410.9,837.0 1411.7,835.5 1412.7,836.9 1413.5,837.5 1414.4,835.8 1415.4,837.1 1416.3,836.4 1417.3,834.0 1418.1,836.7 1418.9,837.1 1420.0,833.4 1420.7,834.5 1421.4,833.4 1422.5,831.4 1423.3,831.4 1424.3,829.8 1425.3,830.9 1426.3,830.3 1427.3,830.3 1428.2,828.9 1429.0,828.2 1429.8,828.7 1430.7,829.6 1431.5,825.9 1432.5,828.7 1433.5,829.0 1434.5,828.5 1435.4,828.0 1436.2,829.5 1437.1,830.5 1437.9,829.1 1438.8,829.4 1439.9,830.6 1440.7,831.2 1441.8,831.9 1442.7,833.7 1443.4,832.3 1444.3,833.4 1445.2,834.0 1446.2,834.8 1446.9,834.8 1447.8,836.2 1448.8,835.8 1449.6,834.6 1450.7,836.1 1451.6,837.7 1452.5,838.7 1453.4,835.4 1454.3,838.5 1455.1,836.6 1455.9,838.2 1456.7,838.0 1457.8,837.7 1458.6,837.5 1459.7,835.6 1460.5,836.5 1461.6,836.3 1462.7,836.9 1463.7,837.0 1464.5,838.1 1465.5,836.7 1466.5,837.2 1467.5,837.0 1468.6,836.2 1469.3,836.1 1470.2,834.7 1471.0,834.3 1472.0,837.0 1472.9,839.0 1474.0,835.3 1474.8,836.0 1475.6,836.6 1476.5,836.3 1477.5,836.1 1478.5,836.3 1479.4,836.3 1480.3,835.6 1481.4,834.6 1482.5,835.4 1483.3,836.4 1484.4,836.3 1485.3,834.4 1486.4,834.1 1487.1,834.6 1487.9,834.5 1488.8,834.9 1489.6,834.7 1490.4,837.2 1491.5,836.4 1492.3,836.8 1493.4,837.9 1494.2,837.6 1495.2,836.2 1496.0,836.7 1496.8,836.3 1497.6,835.1 1498.4,834.7 1499.3,836.0 1500.4,835.6 1501.4,836.1 1502.4,836.4 1503.2,836.7 1504.2,834.8 1505.1,835.8 1506.1,836.4 1507.1,836.9 1508.2,836.6 1509.1,835.9 1510.1,836.6 1511.0,835.1 1511.8,834.4 1512.8,835.5 1513.6,837.0 1514.5,837.3 1515.4,834.4 1516.2,835.0 1516.9,836.3 1517.9,835.8 1518.8,835.8 1519.8,834.3 1520.6,836.7 1521.6,835.5 1522.4,834.6 1523.1,836.3 1523.8,834.3 1524.7,836.3 1525.8,836.2 1526.8,835.3 1527.7,835.0 1528.4,835.1 1529.3,834.7 1530.1,835.6 1531.2,834.8 1532.2,836.3 1533.0,835.9 1533.7,835.7 1534.6,835.2 1535.5,835.4 1536.5,835.5 1537.6,834.4 1538.5,837.5 1539.3,836.3 1540.2,835.8 1541.0,836.4 1542.0,835.4 1542.8,837.3 1543.6,834.8 1544.5,835.2 1545.6,835.4 1546.6,834.7 1547.7,833.8 1548.6,834.5 1549.6,834.1 1550.4,834.9 1551.5,835.8 1552.4,835.7 1553.4,834.4 1554.1,835.1 1555.0,835.2 1555.8,832.9 1556.6,834.4 1557.4,835.2 1558.3,835.2 1559.2,835.5 1560.2,834.2 1561.0,834.3 1561.8,835.7 1562.9,836.3 1563.8,835.8 1564.6,835.3 1565.7,834.5 1566.5,835.3 1567.3,835.1 1568.4,835.5 1569.3,835.5 1570.0,835.6 1571.0,836.9 1571.9,836.6 1572.7,836.4 1573.6,836.5 1574.4,836.0 1575.3,837.7 1576.3,837.4 1577.4,837.1 1578.2,836.8 1579.1,836.1 1580.1,837.8 1581.0,836.4 1581.8,836.6 1582.9,837.1 1583.9,838.4 1584.8,837.7 1585.8,837.7 1586.5,839.2 1587.5,838.9 1588.4,838.8 1589.3,839.2 1590.4,837.3 1591.3,837.4 1592.3,840.2 1593.3,840.0 1594.4,837.3 1595.2,839.8 1596.2,837.8 1597.1,838.6 1598.0,838.3 1599.0,839.4 1599.8,839.7 1600.6,838.2 1601.6,835.6 1602.4,837.4 1603.4,838.4 1604.3,838.9 1605.2,837.5 1606.3,836.9 1607.2,837.0 1608.3,836.5 1609.1,836.7 1610.1,836.4 1611.2,836.4 1612.0,835.5 1612.8,838.0 1613.6,835.3 1614.7,836.5 1615.6,834.4 1616.6,836.7 1617.6,836.9 1618.4,836.0 1619.3,837.6 M1622.0,837.7 1622.8,837.0 1623.6,838.3 1624.4,837.4 1625.4,838.8 1626.4,841.6 1627.4,834.1 1628.2,833.3 1629.0,834.5 1630.1,835.6 1631.0,830.0 1632.2,824.9 1633.1,828.5 1634.0,827.1 1635.0,829.2 1635.8,829.0 1636.9,829.5 1637.7,827.6 1638.4,823.8 1639.3,830.3 1640.3,829.5 1641.4,828.7 1642.2,826.6 1643.2,829.6 1644.1,826.4 1645.1,832.2 1646.0,828.7 1647.0,833.2 1648.0,830.8 1649.0,829.2 1649.8,832.7 1650.7,831.8 1651.7,829.2 1652.7,835.3 1653.5,833.7 1654.6,830.4 1655.5,836.7 1656.4,832.1 1657.4,839.7 1658.2,835.3 1659.3,839.3 1660.3,834.9 1661.3,833.2 1662.4,832.5 1663.3,835.7 1664.4,833.0 1665.4,835.0 1666.4,838.1 1667.1,833.8 1668.0,835.3 M1668.0,835.3 1668.5,836.7 1669.1,837.7 1669.6,826.2 1670.0,837.0 1670.5,827.6 1671.0,837.4 1671.5,843.4 1672.0,839.1 1672.5,837.7 1673.1,846.1 1673.6,858.6 1674.0,827.5 1674.4,837.9 1674.8,839.6 1675.4,836.9 1675.9,840.2 1676.4,845.2 1676.9,845.3 1677.6,839.0 1678.1,847.7 1678.5,830.9 1679.0,837.6 1679.5,846.3 1680.0,832.4 1680.5,833.5 1681.0,844.6 1681.5,843.7 1682.1,830.5 1682.8,841.4 1683.3,845.0 1683.7,838.9 1684.3,857.9 1684.8,839.6 1685.3,843.6 1685.9,839.1 1686.4,840.4 1686.9,841.9 1687.4,842.0 1687.9,843.9 1688.5,845.6 1689.0,844.8 1689.5,844.0 1690.0,851.0 1690.5,845.9 1691.1,852.4 1691.7,846.6 1692.3,843.0 1692.8,839.1 1693.5,848.0 1694.0,854.3 1694.6,843.8 1695.1,851.3 1695.6,848.3 1696.2,834.1 1696.8,834.3 1697.4,841.0 1698.0,835.6 1698.4,847.6 1699.1,847.2 1699.6,845.9 M1700.0,844.8 1701.0,844.4 1701.9,844.5 1703.1,840.8 1704.0,840.5 1704.9,840.2 1705.7,844.2 1706.6,841.3 1707.5,838.3 1708.3,839.9 1709.4,838.0 1710.4,838.4 1711.2,838.6 M1712.0,838.0 1712.6,837.8 1713.2,837.9 1713.7,841.9 1714.2,832.5 1714.7,835.2 1715.3,833.5 1715.8,833.3 1716.2,839.2 1716.8,841.0 1717.4,834.8 1717.9,841.1 1718.5,843.1 1719.1,838.1 1719.7,825.7 1720.2,834.7 1720.9,834.6 1721.4,837.8 1722.0,842.0 1722.5,834.8 1722.9,839.5 1723.6,837.5 1724.0,829.8 1724.6,842.3 1725.0,837.1 1725.4,837.3 1726.0,839.1 1726.5,836.5 1727.1,841.6 1727.7,834.9 1728.3,841.9 1728.8,828.0 1729.2,839.2 1729.7,830.8 1730.3,835.4 1730.9,839.6 1731.3,838.4 1731.9,834.4 1732.4,840.5 1732.9,843.2 1733.3,843.4 1733.8,838.4 1734.4,834.7 1734.9,848.4 1735.4,843.5 1735.9,845.3 1736.4,841.5 1736.8,846.5 1737.2,839.5 1737.7,843.1 1738.3,847.4 1738.8,843.1 1739.3,841.3 1739.8,844.5 1740.4,844.7 1740.9,846.8 1741.4,852.1 1742.0,847.1 1742.6,832.2 1743.1,836.1 1743.7,841.3 1744.2,845.7 1744.8,859.7 1745.2,851.0 1745.7,849.1 1746.3,847.5 1746.9,847.3 M1750.0,845.3 1750.9,844.4 1752.0,843.5 1752.8,842.8 1753.6,845.6 1754.7,844.2 1755.7,844.2 1756.6,842.8 1757.4,843.1 1758.4,843.2 1759.5,842.9 1760.5,841.2 1761.2,841.4 1762.1,844.1 1762.8,843.1 1763.5,842.7 1764.4,841.6 1765.3,841.9 1766.3,842.0 1767.3,843.6 1768.0,844.6 1768.9,843.2 1769.7,844.7 1770.4,846.1 1771.2,846.9 1772.3,846.9 1773.4,848.8 1774.5,848.0 1775.5,848.6 1776.3,851.7 1777.0,849.9 1778.1,850.9 1779.1,849.6 1780.0,851.7 1781.0,851.6 1781.8,852.4 1782.7,852.0 1783.8,851.2 1784.7,849.1 1785.6,849.8 1786.6,850.8 1787.6,850.0 1788.7,848.8 1789.7,848.8 1790.8,850.4 1791.8,849.9 1792.6,851.7 1793.6,850.6 1794.6,852.6 1795.4,849.8 1796.4,850.9 1797.4,851.4 1798.2,853.3 1799.1,852.4 1800.0,851.7 1800.8,854.4 1801.7,854.9 1802.8,854.6 1803.7,854.2 1804.5,854.8 1805.5,855.9 1806.6,857.5 1807.6,856.1 1808.7,855.6 1809.7,857.8 1810.5,858.0 1811.3,858.4 1812.1,856.2 1812.9,861.0 1813.8,857.6 1814.6,858.2 1815.7,858.2 1816.6,860.2 1817.4,858.3 1818.2,857.0 1819.2,855.4 M2161.0,799.0 2161.3,805.6 2161.6,810.4 2161.9,813.3 2162.2,817.0 2162.6,815.0 2163.0,810.0 2163.4,815.4 2163.7,816.3 2164.1,821.9 2164.6,823.8 2164.9,815.0 2165.3,827.5 2165.7,827.5 2166.0,814.7 2166.4,841.6 2166.7,838.0 2167.0,819.9 2167.3,812.4 2167.7,816.2 2168.1,818.1 2168.4,815.9 2168.7,842.8 2169.1,826.3 2169.5,842.5 2169.9,849.0 2170.3,841.9 2170.7,845.1 2171.0,846.4 2171.3,847.8 2171.6,841.7 2171.9,853.8 2172.3,863.9 2172.6,879.3 2173.0,876.3 2173.4,864.4 2173.8,849.8 2174.1,835.9 2174.4,826.1 2174.8,806.1 2175.1,801.1 2175.4,797.1 2175.9,802.9 2176.2,808.7 2176.6,813.7 2176.9,816.5 2177.3,825.4 2177.7,831.8" fill="none" stroke="#966a2c" stroke-width="2.00" stroke-linejoin="round" stroke-linecap="round"/>
<path d="M1167.2,1249.6 1192.6,1248.5 1232.2,1248.5 1233.7,1248.0 1234.7,1247.3 1238.2,1244.2 1239.2,1243.7 1240.2,1243.4 1244.6,1243.8 1250.4,1245.1 1254.8,1246.3 1261.0,1249.2 1262.4,1249.6 1263.9,1249.5 1265.3,1249.2 1267.3,1248.4 1273.1,1245.2 1275.5,1244.2 1281.0,1242.6 1293.3,1239.8 1298.7,1238.3 1315.7,1232.4 1323.6,1229.5 1325.6,1229.1 1329.0,1228.6 1338.4,1227.7 1344.8,1227.3 1353.2,1227.0 1370.9,1226.9 1374.9,1227.5 1382.9,1229.5 1399.8,1232.8 1406.8,1233.7 1412.7,1234.0 1414.2,1233.9 1416.1,1233.6 1421.8,1231.5 1423.2,1230.8 1426.1,1228.9 1427.5,1228.2 1429.0,1227.9 1430.9,1228.0 1435.2,1228.5 1439.0,1229.3 1440.9,1230.5 1444.7,1233.4 1446.6,1234.3 1452.9,1234.9 1459.7,1235.1 1460.6,1235.0 1462.1,1234.2 1465.9,1231.1 1469.8,1228.2 1471.3,1227.4 1472.3,1227.2 1473.8,1227.5 1477.6,1229.3 1479.0,1229.7 1481.4,1229.6 1487.6,1229.0 1489.5,1229.1 1490.5,1229.4 1492.0,1230.2 1495.9,1233.1 1497.9,1234.3 1499.4,1234.8 1503.3,1235.4 1510.2,1236.2 1518.6,1236.8 1555.7,1238.3 1571.3,1239.4 1575.7,1239.9 1577.6,1240.3 1587.9,1243.4 1590.3,1243.9 1592.8,1244.1 1597.2,1243.9 1605.9,1242.7 1609.4,1242.4 1626.2,1242.3 1627.7,1241.3 1630.7,1238.1 1635.0,1234.7 1636.9,1233.6 1637.9,1233.4 1638.9,1233.4 1639.8,1233.6 1641.3,1234.2 1653.9,1241.8 1655.8,1242.7 1657.3,1243.2 1660.7,1243.8 1664.0,1244.1 1679.9,1244.2 1680.9,1244.4 1681.9,1245.1 1682.9,1246.1 1687.8,1253.0 1689.3,1254.4 1690.3,1254.9 1691.7,1254.9 1693.7,1253.9 1699.1,1249.3 1701.1,1248.0 1706.1,1246.1 1709.5,1245.1 1712.5,1244.4 1715.0,1244.2 1730.5,1244.2 1732.0,1244.4 1733.9,1245.1 1740.9,1249.4 1742.4,1250.1 1743.9,1250.6 1745.4,1250.6 1746.9,1250.2 1748.3,1249.5 1752.8,1246.8 1754.7,1246.1 1757.7,1246.0 1762.1,1246.4 1766.6,1247.0 1768.6,1247.7 1771.0,1249.0 1776.5,1252.8 1778.0,1253.5 1779.5,1254.1 1781.0,1254.3 1782.0,1254.1 1783.0,1253.5 1785.9,1251.4 1786.9,1250.8 1787.9,1250.6 1789.3,1250.8 1792.2,1251.5 1798.4,1254.2 1803.9,1257.3 1805.9,1258.2 1811.9,1259.3 1814.9,1259.6 1816.4,1259.5 1817.4,1258.8 1818.9,1256.5 1820.4,1252.9 1820.9,1250.3 1821.3,1245.7 1822.3,1232.3 1826.0,1169.8 1826.9,1159.2 1827.9,1150.3 1828.4,1147.4 1828.9,1146.3 1829.3,1149.3 1829.8,1156.7 1832.5,1215.0 1833.4,1230.3 1833.8,1233.8 1835.2,1237.9 1836.1,1239.2 1836.5,1239.4 1837.0,1237.6 1837.9,1225.6 1839.2,1197.9 1841.0,1143.1 1842.8,1095.6 1843.7,1079.3 1844.1,1076.8 1844.6,1079.0 1845.0,1084.7 1846.8,1119.4 1849.5,1162.6 1851.8,1191.7 1853.1,1205.6 1854.1,1212.5 1855.1,1218.2 1861.5,1247.6 1862.5,1250.6 1862.9,1251.5 1863.4,1251.8 1863.9,1251.7 1865.7,1251.3 1867.0,1250.6 1867.5,1246.4 1867.9,1235.7 1869.7,1167.4 1871.1,1094.8 1872.9,1018.8 1873.8,993.2 1874.2,989.3 1874.6,996.0 1875.1,1012.8 1876.4,1074.6 1877.8,1113.7 1878.7,1134.4 1879.6,1147.7 1880.5,1157.4 1881.8,1168.8 1884.1,1185.1 1885.4,1193.3 1888.4,1209.4 1889.4,1213.2 1889.9,1214.4 1890.4,1214.8 1890.8,1212.5 1892.1,1192.1 1893.5,1178.8 1894.4,1173.0 1894.8,1172.1 1895.3,1173.0 1896.2,1178.8 1897.5,1191.2 1899.8,1217.8 1900.7,1224.8 1902.2,1229.7 1905.2,1236.1 1909.6,1249.4 1912.5,1256.4 1913.5,1258.3 1914.5,1259.4 1915.0,1259.6 1915.9,1259.4 1917.3,1258.3 1918.6,1256.2 1919.1,1253.3 1920.0,1238.1 1923.1,1169.0 1923.5,1162.3 1924.0,1159.8 1924.4,1161.6 1924.9,1166.6 1927.1,1206.8 1927.6,1211.8 1928.0,1213.6 1928.5,1211.7 1929.0,1206.7 1931.5,1165.6 1932.0,1160.6 1932.5,1158.7 1933.0,1160.8 1933.5,1166.2 1935.4,1199.4 1935.9,1204.8 1936.3,1206.9 1936.8,1205.4 1937.3,1201.6 1939.2,1180.3 1939.7,1177.7 1940.2,1176.7 1942.1,1174.4 1942.6,1173.3 1943.1,1167.4 1943.6,1154.2 1947.3,1002.2 1948.7,969.0 1949.1,961.9 1949.6,959.1 1950.0,963.2 1950.5,973.8 1952.3,1033.6 1954.0,1104.7 1954.5,1115.4 1954.9,1119.4 1955.4,1115.0 1956.3,1087.5 1957.2,1052.1 1958.4,990.8 1958.8,982.6 1959.2,986.1 1959.7,995.4 1963.5,1106.0 1963.9,1114.9 1964.4,1118.3 1964.8,1100.4 1965.7,1029.7 1966.6,983.1 1967.1,973.6 1968.0,974.0 1968.9,975.2 1970.2,978.3 1971.1,981.5 1971.5,986.6 1972.9,1018.5 1974.7,1055.6 1976.0,1078.7 1976.9,1090.6 1977.4,1092.5 1977.9,1091.8 1978.8,1087.1 1980.3,1077.2 1982.7,1064.8 1983.6,1061.6 1984.1,1061.1 1984.6,1062.0 1985.4,1067.4 1986.8,1078.4 1989.0,1101.5 1990.9,1113.9 1992.3,1121.5 1994.7,1132.8 1999.8,1153.1 2003.3,1174.7 2004.2,1178.3 2004.7,1178.9 2005.2,1174.8 2007.3,1122.2 2007.7,1113.9 2008.1,1110.5 2008.6,1115.8 2009.9,1153.1 2010.8,1164.6 2014.0,1198.3 2015.0,1206.8 2015.5,1209.7 2016.0,1211.4 2016.9,1213.1 2018.3,1215.2 2019.2,1216.2 2020.2,1216.8 2021.1,1217.0 2021.6,1216.2 2022.1,1214.1 2023.5,1205.3 2024.0,1203.2 2024.5,1202.4 2024.9,1203.9 2025.4,1207.7 2026.3,1218.1 2027.9,1248.0 2028.3,1250.6 2028.7,1233.5 2030.6,1014.5 2031.0,996.1 2031.5,1001.5 2032.0,1015.6 2035.2,1147.2 2036.1,1175.5 2037.9,1207.8 2041.1,1251.1 2041.5,1255.6 2042.0,1257.4 2042.9,1257.1 2043.9,1256.1 2044.8,1254.4 2045.8,1251.8 2046.2,1241.8 2047.6,1175.5 2049.4,1122.1 2049.8,1114.9 2050.3,1110.4 2050.8,1107.1 2052.2,1099.9 2053.2,1092.5 2053.6,1086.1 2056.3,1029.7 2056.8,1022.5 2057.2,1019.6 2057.7,1021.9 2058.1,1027.8 2062.6,1122.7 2064.0,1145.4 2065.5,1164.6 2068.4,1198.4 2069.4,1208.1 2069.9,1211.6 2070.4,1213.9 2070.9,1214.8 2071.4,1212.4 2071.9,1206.1 2073.4,1175.5 2074.3,1147.9 2076.4,1067.7 2076.7,1061.1 2077.2,1066.1 2078.5,1109.1 2079.0,1119.4 2079.9,1131.9 2080.9,1141.4 2083.8,1164.1 2085.2,1173.3 2085.7,1175.8 2086.7,1179.4 2087.6,1181.8 2089.6,1185.9 2090.6,1189.0 2091.6,1195.3 2094.1,1218.0 2094.6,1220.6 2095.1,1221.5 2095.6,1219.2 2096.1,1213.2 2099.8,1141.4 2101.1,1126.2 2101.5,1122.9 2101.9,1121.7 2102.3,1123.9 2102.8,1129.9 2104.1,1156.7 2106.5,1195.6 2107.0,1200.6 2107.5,1202.4 2108.4,1202.3 2109.3,1202.0 2110.3,1201.4 2111.2,1200.5 2113.1,1197.9 2113.5,1195.9 2114.4,1186.5 2116.7,1157.6 2117.1,1155.3 2117.5,1157.6 2118.7,1175.4 2119.1,1177.7 2119.6,1177.2 2120.0,1175.8 2121.8,1166.1 2122.7,1162.6 2123.2,1162.0 2124.1,1162.3 2125.0,1163.0 2126.3,1164.9 2127.2,1166.5 2127.7,1169.1 2128.2,1174.3 2130.1,1202.9 2130.5,1207.4 2131.0,1209.1 2135.5,1209.1 2136.0,1210.6 2136.9,1220.3 2138.9,1245.0 2140.2,1257.0 2140.7,1259.7 2141.1,1260.7 2141.6,1258.3 2142.5,1242.2 2144.2,1198.0 2145.6,1158.9 2146.5,1141.9 2147.5,1134.4 2149.4,1123.9 2153.0,1094.0 2153.4,1092.5 2153.9,1093.2 2154.9,1098.1 2157.3,1119.7 2159.9,1160.8 2162.2,1204.9 2162.6,1210.5 2163.1,1213.6 2163.6,1215.3 2164.6,1217.6 2167.1,1221.5 2169.6,1227.0 2170.6,1229.7 2171.6,1233.5 2172.1,1236.1 2172.4,1240.8 2173.2,1255.4 2173.6,1258.5 2174.1,1250.8 2175.4,1192.2 2175.9,1184.5 2176.4,1186.8 2176.8,1192.8 2178.8,1229.3" fill="none" stroke="#652c78" stroke-width="3.00" stroke-linejoin="round" stroke-linecap="round"/>
<path d="M1167.2,1249.6 1168.0,1249.9 1169.1,1249.4 1169.9,1249.7 1171.0,1248.7 1172.0,1249.2 1172.9,1248.8 1174.1,1248.8 1175.0,1249.2 1176.0,1251.6 1176.7,1252.3 1177.8,1250.0 1178.9,1249.7 1179.9,1250.9 1181.0,1248.1 1181.9,1248.0 1182.8,1248.4 1183.7,1247.9 1184.5,1249.1 1185.6,1250.8 1186.4,1249.8 1187.4,1250.6 1188.3,1247.4 1189.2,1248.4 1190.1,1249.3 1191.2,1248.5 1192.1,1249.7 1193.0,1247.3 1193.9,1247.6 1194.7,1251.2 1195.6,1245.8 1196.7,1244.5 1197.6,1247.6 1198.7,1250.1 1199.6,1246.7 1200.6,1247.1 1201.6,1247.0 1202.7,1248.8 1203.7,1248.3 1204.7,1250.7 1205.7,1246.5 1206.5,1247.7 1207.5,1247.9 1208.4,1247.1 1209.5,1250.8 1210.3,1249.5 1211.4,1248.0 1212.2,1247.4 1213.2,1250.2 1213.9,1246.0 1215.0,1249.7 1216.1,1250.3 1217.0,1250.7 1217.8,1248.8 1218.7,1246.6 1219.7,1249.2 1220.5,1249.7 1221.6,1249.6 1222.7,1249.1 1223.7,1248.6 1224.4,1249.2 1225.5,1249.8 1226.6,1248.1 1227.7,1247.1 1228.6,1246.7 1229.4,1248.9 1230.1,1247.6 1230.9,1248.3 1231.7,1248.7 1232.8,1249.5 1233.6,1247.6 1234.7,1248.4 1235.5,1246.0 1236.3,1247.2 1237.3,1243.7 1238.3,1242.0 1239.3,1244.5 1240.2,1243.3 1240.9,1243.5 1241.7,1242.7 1242.4,1240.9 1243.4,1242.9 1244.2,1241.3 1245.0,1244.3 1245.8,1247.4 1246.9,1247.1 1247.8,1244.1 1248.7,1242.4 1249.8,1245.4 1250.8,1242.5 1251.8,1245.3 1252.8,1240.6 1253.6,1245.6 1254.3,1245.9 1255.1,1249.7 1256.1,1245.1 1256.9,1249.5 1257.9,1247.8 1258.6,1247.3 1259.5,1249.1 1260.5,1247.8 1261.2,1248.0 1262.0,1246.8 1263.1,1250.5 1264.1,1251.0 1265.1,1250.6 1266.1,1249.5 1267.2,1246.8 1268.3,1250.0 1269.1,1245.2 1270.0,1249.7 1270.9,1245.3 1271.7,1245.3 1272.7,1244.6 1273.5,1245.4 1274.6,1244.3 1275.7,1242.9 1276.5,1246.0 1277.6,1243.5 1278.6,1243.7 1279.7,1240.2 1280.8,1242.6 1281.8,1242.4 1282.9,1241.1 1283.8,1243.0 1284.7,1241.5 1285.6,1241.4 1286.4,1240.5 1287.2,1240.6 1288.3,1242.0 1289.2,1238.6 1290.0,1240.8 1290.7,1241.7 1291.8,1239.6 1292.8,1238.1 1293.9,1241.5 1294.9,1242.0 1296.0,1242.7 1296.8,1237.7 1297.7,1238.3 1298.6,1238.8 1299.7,1238.0 M1300.0,1237.9 1301.1,1237.3 1302.0,1237.2 1302.9,1240.0 1303.9,1236.5 1304.9,1238.3 1305.7,1235.8 1306.9,1236.4 1307.9,1235.2 1308.9,1234.9 1309.8,1233.0 1310.9,1234.3 1311.6,1233.6 1312.7,1230.6 1313.6,1233.8 1314.6,1235.9 1315.5,1231.0 1316.6,1231.9 1317.3,1231.9 1318.4,1230.3 1319.4,1232.3 1320.3,1227.9 1321.2,1231.7 1322.0,1230.9 1322.8,1228.4 1323.6,1230.5 1324.6,1228.5 1325.7,1229.3 1326.7,1227.9 1327.5,1228.5 1328.6,1229.5 1329.5,1228.6 1330.3,1228.8 1331.4,1230.0 1332.5,1228.6 1333.6,1226.7 1334.5,1225.3 1335.6,1228.7 1336.4,1228.3 1337.3,1226.8 1338.1,1228.8 1338.9,1224.0 1339.9,1228.7 1340.7,1228.6 1341.6,1228.3 1342.6,1226.8 1343.7,1226.1 1344.6,1228.1 1345.4,1227.8 1346.4,1226.8 1347.2,1220.9 1348.1,1228.4 1349.1,1228.6 1350.0,1224.5 1351.1,1226.7 1351.8,1227.1 1352.8,1226.0 1353.8,1226.2 1354.8,1226.8 1355.9,1228.9 1356.8,1227.9 1357.6,1228.8 1358.3,1227.2 1359.2,1227.0 1360.3,1226.2 1361.1,1227.0 1361.9,1228.0 1362.8,1226.7 1363.8,1226.3 1364.9,1226.2 1365.8,1227.7 1366.9,1229.7 1367.8,1229.2 1368.6,1227.2 1369.6,1226.5 1370.4,1226.2 1371.3,1226.1 1372.3,1228.5 1373.0,1226.5 1374.0,1226.7 1375.1,1226.7 1376.0,1226.3 1377.1,1229.9 1378.0,1229.5 1378.8,1227.3 1379.7,1227.8 1380.7,1229.8 1381.7,1229.1 1382.4,1230.3 1383.3,1229.1 1384.4,1230.1 1385.2,1228.5 1386.1,1230.8 1386.9,1231.5 1387.9,1231.8 1389.0,1230.4 1389.9,1231.5 1390.8,1234.3 1391.9,1231.2 1392.8,1232.4 1393.6,1231.6 1394.7,1231.8 1395.6,1233.2 1396.7,1231.3 1397.7,1230.8 1398.4,1233.6 1399.3,1233.5 1400.2,1232.8 1401.2,1232.2 1401.9,1234.2 1402.8,1233.7 1403.7,1233.5 1404.5,1233.6 1405.4,1232.5 1406.3,1234.2 1407.1,1232.5 1408.1,1235.1 1409.1,1232.9 1410.1,1234.6 1410.8,1233.7 1411.8,1234.8 1412.6,1233.8 1413.4,1233.3 1414.4,1234.5 1415.5,1236.9 1416.5,1234.3 1417.3,1233.8 1418.1,1233.7 1419.1,1232.6 1420.0,1231.7 1420.7,1231.5 1421.7,1232.9 1422.5,1230.6 1423.4,1230.0 1424.2,1229.5 1425.0,1228.9 1426.1,1228.8 1427.2,1229.1 1428.2,1227.9 1429.0,1228.6 1429.8,1229.0 1430.8,1230.9 1431.6,1228.6 1432.6,1228.6 1433.7,1228.5 1434.7,1228.5 1435.8,1231.0 1436.7,1227.2 1437.6,1230.6 1438.6,1228.2 1439.7,1229.4 1440.8,1230.6 1441.5,1232.6 1442.6,1232.4 1443.6,1231.3 1444.4,1231.7 1445.1,1233.3 1446.1,1236.4 1446.9,1232.7 1448.0,1234.5 1448.8,1234.5 1449.7,1233.9 1450.5,1237.7 1451.3,1235.8 1452.3,1232.4 1453.0,1234.3 1453.8,1235.0 1454.9,1235.8 1455.9,1234.7 1456.8,1233.9 1457.5,1235.5 1458.7,1235.6 1459.6,1237.3 1460.6,1235.2 1461.4,1234.7 1462.1,1233.7 1463.0,1231.6 1464.1,1231.9 1464.9,1232.4 1465.7,1231.7 1466.6,1230.7 1467.5,1233.2 1468.5,1230.7 1469.6,1227.0 1470.3,1227.1 1471.3,1228.8 1472.3,1227.9 1473.4,1226.9 1474.2,1225.9 1475.0,1226.7 1475.9,1229.6 1476.7,1229.5 1477.7,1230.5 1478.6,1230.1 1479.7,1229.9 1480.4,1229.7 1481.4,1228.3 1482.5,1228.8 1483.3,1229.5 1484.3,1230.5 1485.1,1230.0 1486.1,1228.8 1487.2,1228.4 1488.0,1230.3 1488.9,1228.2 1489.9,1229.6 1490.7,1229.8 1491.5,1230.0 1492.5,1229.8 1493.4,1231.3 1494.3,1231.2 1495.4,1231.8 1496.3,1233.1 1497.2,1235.4 1498.0,1235.0 1499.1,1234.1 1500.0,1235.9 1501.1,1233.3 1502.2,1235.0 1503.0,1237.7 1503.8,1237.0 1504.9,1234.6 1505.9,1234.1 1506.9,1235.4 1507.7,1232.9 1508.7,1235.8 1509.5,1236.9 1510.3,1238.3 1511.3,1237.5 1512.4,1236.1 1513.2,1237.6 1514.1,1236.8 1514.9,1235.2 1515.6,1236.7 1516.6,1235.6 1517.7,1238.1 1518.7,1236.7 1519.4,1237.2 1520.4,1237.0 1521.5,1236.8 1522.5,1237.6 1523.5,1236.3 1524.4,1235.5 1525.2,1237.9 1526.2,1237.9 1526.9,1238.6 1527.7,1236.5 1528.6,1237.0 1529.3,1237.5 1530.2,1236.3 1531.0,1238.2 1532.0,1237.7 1532.9,1236.7 1534.0,1237.4 1535.0,1239.2 1535.9,1235.9 1536.9,1239.0 1538.0,1236.7 1538.7,1236.9 1539.5,1238.0 1540.4,1239.8 1541.1,1238.0 1542.1,1236.8 1543.1,1238.1 1543.9,1236.2 1545.0,1238.2 1545.9,1239.8 1546.8,1236.2 1547.6,1239.7 1548.6,1237.4 1549.7,1237.7 1550.4,1237.7 1551.2,1239.0 1552.3,1238.2 1553.0,1237.1 1554.1,1239.3 1554.8,1237.5 1555.6,1240.7 1556.6,1237.7 1557.6,1241.5 1558.4,1238.4 1559.2,1238.5 1560.1,1240.3 1560.9,1240.1 1561.8,1239.0 1562.8,1239.0 1563.6,1239.6 1564.6,1239.5 1565.7,1238.7 1566.4,1239.0 1567.3,1239.4 1568.3,1238.3 1569.3,1238.2 1570.3,1239.2 1571.2,1240.3 1572.2,1238.3 1573.0,1239.7 1574.0,1241.6 1574.9,1240.3 1575.6,1239.5 1576.6,1241.2 1577.4,1239.0 1578.4,1238.4 1579.2,1239.5 1579.9,1239.9 1580.6,1240.9 1581.6,1239.7 1582.4,1241.6 1583.2,1242.6 1584.1,1241.3 1585.1,1242.3 1586.1,1241.4 1587.1,1241.7 1588.0,1244.4 1589.0,1244.4 1590.0,1245.7 1590.7,1242.4 1591.6,1245.0 1592.4,1244.0 1593.5,1242.3 1594.5,1245.8 1595.6,1246.1 1596.6,1242.8 1597.7,1242.7 1598.6,1245.0 1599.7,1243.1 1600.7,1247.9 1601.9,1243.5 1602.8,1243.2 1603.7,1244.2 1604.5,1244.6 1605.2,1243.8 1606.3,1243.7 1607.2,1242.8 1608.1,1241.5 1608.9,1241.6 1609.9,1242.5 1610.7,1241.3 1611.4,1242.4 1612.3,1240.3 1613.2,1243.2 1614.3,1241.6 1615.4,1240.1 1616.4,1241.6 1617.3,1241.1 1618.1,1243.2 1618.9,1242.9 M1622.0,1242.4 1622.8,1243.3 1623.6,1243.0 1624.6,1241.6 1625.7,1246.0 1626.5,1241.5 1627.4,1246.4 1628.3,1242.7 1629.3,1240.5 1630.2,1240.4 1631.2,1240.2 1632.2,1235.6 1633.1,1239.8 1634.0,1231.0 1634.8,1237.6 1635.8,1232.1 1636.9,1235.6 1637.8,1231.6 1638.5,1232.6 1639.5,1232.5 1640.3,1235.7 1641.4,1236.7 1642.3,1234.3 1643.2,1234.0 1644.0,1238.8 1645.1,1237.1 1645.9,1237.7 1646.7,1237.0 1647.5,1237.3 1648.4,1238.4 1649.2,1242.1 1650.2,1240.3 1650.9,1239.5 1651.8,1242.0 1652.7,1237.4 1653.5,1237.8 1654.6,1242.9 1655.4,1242.6 1656.2,1245.9 1657.1,1242.2 1658.1,1245.9 1659.2,1246.4 1660.0,1242.5 1660.8,1243.7 1661.7,1245.2 1662.6,1245.0 1663.6,1241.9 1664.6,1244.3 1665.6,1245.0 1666.7,1245.3 1667.5,1244.4 M1668.0,1244.2 1668.5,1244.9 1669.2,1244.4 1669.8,1239.5 1670.3,1247.8 1670.7,1248.2 1671.1,1245.8 1671.6,1248.2 1672.1,1239.7 1672.7,1247.1 1673.1,1238.1 1673.6,1244.6 1674.0,1241.9 1674.6,1248.6 1675.0,1248.3 1675.6,1238.0 1676.1,1246.2 1676.6,1241.8 1677.1,1239.2 1677.7,1241.1 1678.3,1243.8 1678.7,1242.6 1679.3,1251.8 1679.9,1246.7 1680.4,1244.0 1680.9,1242.4 1681.5,1261.5 1682.0,1249.3 1682.4,1239.1 1682.9,1239.5 1683.3,1254.3 1683.8,1253.6 1684.3,1251.6 1684.7,1252.0 1685.3,1249.1 1685.8,1252.7 1686.2,1249.3 1686.7,1252.4 1687.2,1253.9 1687.7,1250.9 1688.3,1248.2 1688.8,1272.8 1689.4,1264.0 1689.8,1254.4 1690.2,1255.3 1690.8,1266.6 1691.4,1250.5 1691.8,1254.9 1692.3,1261.0 1692.9,1262.5 1693.5,1260.5 1694.0,1258.8 1694.5,1243.8 1694.9,1249.9 1695.4,1245.2 1696.0,1252.8 1696.4,1249.1 1696.8,1248.6 1697.3,1242.2 1697.9,1252.2 1698.6,1251.1 1699.1,1250.2 1699.5,1249.2 M1700.0,1248.6 1701.0,1248.8 1702.1,1246.6 1702.8,1247.9 1703.9,1248.9 1705.0,1247.3 1705.9,1246.4 1706.9,1245.0 1707.8,1243.9 1708.5,1245.4 1709.2,1244.4 1710.3,1243.2 1711.2,1244.4 M1712.0,1244.5 1712.5,1245.3 1713.0,1246.3 1713.6,1243.5 1714.2,1248.1 1714.7,1245.6 1715.4,1242.6 1715.8,1229.6 1716.3,1241.1 1716.9,1240.1 1717.4,1243.9 1717.9,1246.5 1718.4,1248.2 1719.0,1247.6 1719.6,1251.7 1720.1,1240.9 1720.7,1249.3 1721.3,1236.9 1721.9,1242.8 1722.4,1248.0 1722.9,1236.6 1723.3,1238.0 1723.8,1244.3 1724.3,1244.0 1724.9,1248.2 1725.5,1242.6 1726.0,1247.1 1726.4,1243.6 1727.0,1241.8 1727.5,1245.6 1728.1,1257.7 1728.6,1240.6 1729.1,1234.2 1729.6,1241.9 1730.1,1243.5 1730.7,1250.7 1731.3,1248.2 1731.9,1241.3 1732.4,1246.2 1733.0,1239.2 1733.5,1250.0 1734.1,1250.4 1734.7,1248.9 1735.2,1238.3 1735.7,1238.3 1736.2,1249.0 1736.7,1246.3 1737.2,1250.9 1737.6,1230.7 1738.1,1243.8 1738.5,1241.4 1739.0,1252.7 1739.5,1262.2 1740.0,1246.9 1740.4,1248.2 1740.9,1254.2 1741.5,1256.3 1741.9,1242.5 1742.5,1243.9 1743.0,1249.4 1743.5,1248.8 1744.0,1249.7 1744.6,1244.1 1745.1,1251.9 1745.5,1251.7 1746.0,1252.1 1746.5,1249.6 M1750.0,1248.5 1751.1,1247.0 1752.1,1247.2 1753.1,1246.2 1753.9,1245.8 1754.8,1246.5 1755.8,1244.8 1756.9,1246.8 1757.9,1246.4 1758.7,1247.8 1759.6,1247.5 1760.3,1245.3 1761.1,1245.5 1762.2,1245.8 1763.3,1247.9 1764.4,1246.8 1765.2,1244.8 1766.1,1248.0 1766.9,1248.0 1767.8,1249.6 1768.7,1246.1 1769.7,1248.1 1770.5,1248.4 1771.5,1250.3 1772.5,1248.7 1773.4,1253.8 1774.3,1250.2 1775.1,1251.8 1776.1,1253.6 1777.0,1252.6 1778.0,1252.8 1778.8,1253.3 1779.8,1255.1 1780.6,1252.8 1781.4,1253.9 1782.4,1254.6 1783.4,1253.7 1784.4,1253.0 1785.2,1252.4 1786.0,1250.7 1786.8,1251.6 1787.7,1250.3 1788.5,1250.6 1789.5,1251.7 1790.6,1250.9 1791.6,1250.3 1792.5,1251.5 1793.6,1250.8 1794.5,1253.6 1795.3,1251.2 1796.3,1253.5 1797.0,1255.7 1798.0,1255.4 1799.0,1253.9 1800.0,1257.0 1800.7,1256.5 1801.7,1254.6 1802.6,1257.1 1803.5,1257.3 1804.4,1257.4 1805.2,1258.0 1805.9,1257.9 1806.8,1257.6 1807.6,1260.2 1808.7,1258.4 1809.5,1259.8 1810.6,1257.4 1811.7,1260.1 1812.5,1260.3 1813.6,1259.4 1814.3,1260.1 1815.2,1258.6 1816.2,1259.3 1817.0,1258.5 1817.9,1258.4 1818.9,1256.0 1819.8,1254.5 M2161.0,1182.5 2161.3,1187.6 2161.7,1197.7 2162.0,1201.7 2162.4,1206.5 2162.8,1212.5 2163.2,1214.4 2163.5,1216.3 2163.8,1208.2 2164.2,1214.7 2164.6,1217.4 2165.0,1208.6 2165.4,1222.0 2165.8,1218.4 2166.2,1224.0 2166.5,1223.3 2166.9,1223.5 2167.4,1219.2 2167.8,1217.1 2168.1,1232.3 2168.4,1224.4 2168.8,1218.7 2169.2,1228.6 2169.5,1217.9 2169.9,1231.2 2170.3,1228.0 2170.7,1243.5 2171.0,1233.0 2171.4,1237.4 2171.8,1236.5 2172.1,1239.5 2172.5,1250.7 2172.9,1259.1 2173.3,1242.9 2173.6,1262.8 2173.9,1258.7 2174.2,1249.7 2174.6,1225.9 2174.9,1219.5 2175.3,1209.0 2175.6,1180.4 2175.9,1190.1 2176.3,1178.0 2176.6,1184.6 2177.1,1206.3 2177.5,1206.8 2177.9,1215.0 2178.3,1219.4 2178.6,1226.9" fill="none" stroke="#652c78" stroke-width="2.00" stroke-linejoin="round" stroke-linecap="round"/>
<path d="M69.2,1811.6 78.4,1809.4 87.7,1806.1 89.7,1805.6 92.1,1805.2 106.4,1803.9 118.3,1802.5 137.1,1802.4 140.5,1802.2 143.9,1801.8 147.3,1800.9 147.7,1800.1 148.2,1798.4 149.5,1788.6 149.9,1779.2 150.8,1750.3 151.3,1744.2 151.7,1748.3 153.0,1780.7 153.4,1785.5 154.3,1786.9 155.2,1787.7 161.9,1792.7 164.8,1794.2 166.2,1794.6 167.7,1794.7 169.7,1794.5 172.2,1794.0 176.6,1792.5 185.4,1788.9 188.2,1787.4 189.6,1786.3 191.1,1784.6 194.5,1780.2 195.9,1778.7 197.4,1777.9 198.8,1777.9 200.7,1778.2 205.5,1779.4 211.3,1780.5 214.2,1781.3 217.1,1782.7 224.5,1787.2 226.5,1788.1 228.5,1788.6 233.9,1789.3 258.1,1791.5 262.1,1792.2 270.5,1794.0 274.4,1794.7 289.8,1796.3 304.1,1798.3 311.4,1798.9 314.3,1799.3 315.2,1799.8 316.2,1800.7 320.0,1805.9 321.0,1806.7 321.9,1807.0 323.4,1806.7 325.3,1805.7 336.7,1797.1 345.4,1791.3 352.2,1787.1 354.6,1785.1 358.2,1780.0 361.9,1775.7 363.3,1774.8 367.1,1773.7 370.0,1773.3 370.9,1773.3 371.4,1773.5 372.3,1775.1 375.8,1783.5 376.6,1785.1 377.1,1785.5 380.0,1787.3 383.0,1788.6 385.9,1789.6 389.4,1790.1 393.8,1790.1 399.8,1789.8 406.3,1789.3 412.8,1788.5 414.3,1788.1 416.3,1787.3 423.7,1783.4 425.6,1782.7 427.1,1782.5 434.0,1782.6 450.8,1783.8 458.2,1784.0 472.6,1783.7 487.4,1782.6 489.9,1782.3 491.8,1781.7 494.3,1780.6 499.8,1777.7 501.7,1776.9 503.2,1776.5 507.7,1776.1 529.4,1775.3 534.8,1774.8 536.8,1774.4 539.3,1773.5 542.2,1772.0 551.1,1766.6 556.6,1762.5 558.0,1761.7 559.5,1761.3 561.0,1761.4 562.4,1762.2 563.9,1763.5 568.7,1768.6 570.1,1769.6 571.1,1769.9 572.1,1769.9 573.5,1769.5 579.3,1766.2 580.8,1765.7 581.7,1765.6 582.7,1765.8 583.7,1766.3 586.6,1768.8 588.0,1769.7 589.0,1769.9 592.5,1769.9 593.3,1752.5 593.8,1758.1 594.3,1768.4 594.8,1774.3 595.8,1775.0 599.1,1776.3 600.0,1777.2 600.6,1796.0 601.8,1774.3 602.2,1773.6 602.6,1773.2 603.5,1772.8 604.0,1772.9 604.9,1773.3 606.9,1775.2 609.8,1779.1 611.2,1780.7 614.1,1782.8 616.1,1784.0 617.5,1784.4 619.4,1784.4 621.9,1784.2 624.3,1783.6 626.2,1782.7 628.1,1781.5 628.6,1776.9 629.1,1768.6 629.6,1764.1 630.1,1770.1 630.6,1781.3 631.0,1787.3 637.7,1787.3 638.9,1769.9 639.3,1773.2 640.2,1787.9 640.6,1791.7 642.1,1793.5 643.5,1794.6 645.0,1795.3 648.4,1796.6 652.3,1799.0 653.3,1800.0 654.2,1801.8 655.1,1822.1 655.6,1817.0 656.1,1807.4 656.5,1801.8 657.5,1800.9 660.5,1799.8 661.5,1798.9 662.0,1797.2 662.4,1793.6 664.9,1762.9 666.9,1726.6 667.9,1711.9 669.8,1691.3 670.3,1688.4 670.8,1687.3 671.2,1689.2 672.2,1701.7 674.1,1734.0 676.0,1769.8 677.0,1782.0 677.4,1784.4 678.9,1786.5 679.8,1787.2 680.3,1787.3 680.8,1786.1 681.8,1777.5 683.2,1755.4 684.2,1727.6 685.6,1669.2 687.6,1612.6 688.6,1590.5 689.1,1583.9 689.6,1581.5 690.1,1583.1 691.0,1594.5 692.9,1631.2 698.7,1731.0 699.7,1745.8 700.6,1755.4 701.6,1760.9 703.0,1766.9 707.3,1779.9 708.8,1783.1 709.7,1784.3 710.2,1784.4 710.7,1784.3 711.2,1783.9 712.2,1782.4 713.7,1778.6 714.1,1775.5 714.6,1769.7 716.1,1749.9 716.6,1746.7 717.1,1745.6 717.6,1744.8 719.0,1743.3 719.5,1742.4 720.0,1740.9 720.5,1726.8 723.0,1541.9 723.4,1522.4 723.8,1514.8 724.3,1519.0 724.8,1530.2 726.7,1596.0 728.6,1649.0 729.6,1668.5 730.6,1681.2 732.0,1696.1 736.4,1730.3 737.8,1738.8 739.3,1744.9 740.2,1748.3 740.7,1749.3 741.2,1749.6 741.6,1746.2 742.8,1717.7 743.2,1711.9 744.6,1703.8 745.1,1702.3 745.6,1701.8 746.0,1702.9 747.0,1710.4 748.9,1732.4 750.4,1754.8 750.9,1760.6 751.4,1764.1 752.3,1767.6 752.8,1768.9 753.8,1770.8 755.2,1772.2 758.1,1773.8 759.1,1775.0 760.1,1777.7 762.5,1786.1 764.9,1791.6 766.3,1794.0 766.8,1794.4 767.3,1794.6 767.8,1794.4 768.3,1793.7 769.2,1791.5 770.2,1788.1 771.7,1781.5 772.6,1774.0 773.6,1762.2 775.1,1740.9 777.5,1697.5 778.7,1680.7 779.1,1677.1 779.5,1675.7 780.0,1677.9 780.4,1683.9 782.3,1719.7 782.8,1725.7 783.2,1727.9 783.7,1726.4 784.2,1722.6 785.7,1705.3 787.5,1686.2 788.0,1682.8 788.5,1681.5 789.0,1683.6 789.5,1689.1 791.0,1713.4 791.5,1719.9 791.9,1723.5 792.9,1726.1 794.8,1728.8 795.8,1730.7 796.3,1732.2 796.8,1735.4 797.7,1747.6 801.1,1801.8 801.6,1807.1 802.1,1809.1 802.5,1804.6 803.3,1776.6 806.4,1625.0 807.9,1580.9 808.9,1562.5 809.3,1559.7 809.8,1560.6 810.3,1563.0 811.3,1571.2 812.2,1581.5 812.7,1589.3 814.2,1625.7 814.7,1634.6 815.1,1638.0 815.6,1634.8 816.1,1626.5 817.5,1587.5 818.4,1567.3 818.9,1564.1 819.4,1565.7 820.4,1576.8 822.4,1610.5 823.6,1636.0 824.0,1642.6 824.4,1645.3 824.9,1634.4 825.7,1583.5 826.2,1567.0 827.1,1553.3 827.6,1551.0 828.1,1551.6 828.6,1553.3 831.1,1567.0 834.0,1581.0 836.9,1593.2 838.3,1598.6 839.3,1601.0 839.8,1601.8 840.8,1602.6 843.7,1604.2 844.6,1605.2 846.1,1607.8 847.0,1610.5 847.5,1613.2 849.5,1633.3 849.9,1636.6 851.4,1642.1 854.3,1649.4 855.7,1654.0 857.2,1660.9 862.1,1688.6 863.1,1692.5 863.6,1693.1 864.0,1692.8 864.5,1692.1 865.4,1689.3 866.9,1682.7 867.8,1676.3 869.3,1656.0 870.2,1639.5 871.2,1616.2 871.7,1610.5 872.1,1614.6 873.3,1647.8 873.7,1654.0 875.1,1661.6 876.1,1665.0 876.5,1666.1 877.0,1666.8 877.5,1667.0 878.0,1666.9 878.4,1666.5 879.4,1665.1 881.8,1659.8 882.8,1657.0 883.8,1653.5 885.2,1647.1 886.6,1639.4 888.5,1622.8 889.5,1617.1 889.9,1616.3 890.4,1617.4 892.9,1635.4 893.4,1636.6 893.9,1634.9 894.9,1624.1 896.3,1601.8 898.2,1568.3 898.6,1565.5 899.1,1567.0 899.6,1571.0 901.6,1596.7 903.6,1614.9 904.5,1621.1 905.0,1622.1 906.0,1621.9 907.4,1621.0 907.9,1620.6 908.4,1619.4 909.4,1612.9 911.8,1590.2 912.8,1585.0 914.2,1579.0 914.7,1577.8 915.2,1577.1 917.6,1576.0 919.5,1575.7 920.0,1577.4 921.0,1588.4 924.7,1642.4 926.4,1690.3 926.8,1694.6 927.3,1691.8 929.2,1658.2 929.7,1654.0 931.1,1650.0 937.9,1638.8 938.8,1636.6 939.8,1633.7 940.3,1631.0 940.8,1626.8 942.7,1607.6 944.1,1598.6 944.6,1596.7 945.0,1596.0 945.4,1599.2 945.8,1607.6 948.3,1680.9 948.7,1690.7 949.1,1694.6 949.6,1692.1 951.5,1663.1 952.0,1659.8 952.5,1658.8 953.4,1657.6 955.8,1655.8 957.2,1654.0 957.7,1652.6 958.2,1650.3 960.1,1638.3 961.1,1634.3 961.6,1633.7 962.0,1633.8 963.0,1634.8 964.5,1636.9 965.4,1637.9 965.9,1638.0 966.4,1636.5 966.9,1632.7 968.3,1615.3 969.7,1601.6 970.7,1594.3 971.1,1593.1 971.6,1593.9 972.1,1596.1 972.6,1599.5 974.1,1613.9 975.0,1625.2 976.2,1648.4 976.6,1651.1 977.8,1575.7 978.2,1580.6 980.0,1637.4 980.4,1642.4 980.9,1641.6 981.4,1639.4 983.8,1622.1 984.3,1620.0 984.8,1619.2 985.2,1619.4 985.7,1620.0 986.7,1622.3 989.1,1630.8 990.1,1635.8 992.0,1649.1 993.0,1653.3 993.5,1654.0 993.9,1652.2 995.9,1632.5 996.4,1630.8 996.8,1632.5 997.3,1636.9 998.8,1655.4 999.3,1659.8 1000.2,1665.7 1001.7,1673.0 1003.1,1678.6 1005.1,1684.3 1006.1,1686.4 1006.6,1687.1 1007.1,1687.3 1007.5,1685.0 1008.9,1667.8 1009.4,1665.6 1011.3,1665.8 1015.2,1666.9 1016.6,1667.0 1017.1,1663.3 1018.3,1632.1 1018.7,1625.0 1019.6,1615.1 1020.6,1607.6 1021.1,1605.5 1021.6,1604.7 1022.0,1604.9 1022.5,1605.6 1023.0,1606.7 1023.9,1610.5 1024.4,1624.5 1026.3,1747.8 1026.8,1769.9 1027.8,1789.8 1028.2,1793.1 1028.6,1787.7 1029.9,1746.4 1030.3,1740.9 1030.8,1746.0 1032.2,1791.4 1032.7,1804.0 1033.2,1809.1 1033.6,1808.9 1034.1,1808.3 1035.1,1806.2 1036.0,1803.0 1036.9,1798.9 1037.4,1794.8 1039.4,1763.1 1039.8,1758.3 1040.3,1755.8 1042.3,1749.4 1042.7,1746.7 1043.1,1741.7 1044.4,1717.7 1044.8,1714.8 1045.2,1716.2 1045.7,1719.8 1047.6,1741.8 1048.1,1745.4 1048.5,1746.7 1048.9,1744.6 1050.2,1728.6 1050.6,1726.4 1051.0,1733.4 1052.4,1786.2 1052.9,1793.1 1053.4,1790.4 1053.9,1783.4 1055.4,1753.6 1055.9,1746.6 1056.4,1743.8 1056.8,1751.7 1058.7,1836.6 1059.7,1858.5 1060.1,1862.7 1060.5,1852.8 1061.8,1777.0 1062.2,1767.0 1062.6,1794.2 1063.0,1839.5" fill="none" stroke="#24405f" stroke-width="3.40" stroke-linejoin="round" stroke-linecap="round"/>
<path d="M69.2,1811.6 69.9,1811.8 70.8,1815.3 71.6,1812.0 72.4,1804.3 73.3,1810.5 74.1,1809.0 75.1,1809.7 76.0,1809.5 76.8,1808.6 77.8,1805.8 78.8,1807.7 79.7,1811.5 80.5,1807.5 81.2,1807.4 82.1,1811.5 82.9,1806.1 84.0,1807.3 85.1,1810.4 86.1,1808.4 87.0,1794.4 87.9,1806.2 88.6,1804.6 89.7,1801.6 90.6,1805.2 91.4,1804.8 92.1,1805.4 93.0,1803.6 93.7,1801.5 94.8,1806.1 95.6,1802.4 96.7,1806.1 97.5,1804.9 98.5,1806.7 99.2,1802.0 100.3,1805.8 101.2,1805.3 102.1,1801.3 103.0,1807.3 103.8,1812.0 104.5,1800.7 105.5,1802.5 106.3,1800.9 107.3,1806.7 108.0,1795.6 108.9,1804.2 109.9,1803.2 110.8,1800.0 111.9,1800.3 113.0,1806.5 113.9,1807.7 115.0,1805.9 115.8,1799.3 116.8,1801.7 117.8,1803.3 118.9,1804.5 119.8,1801.4 120.7,1793.6 121.7,1799.4 122.5,1806.8 123.3,1805.0 124.2,1804.4 125.2,1808.8 126.2,1802.5 126.9,1798.8 128.0,1805.4 129.0,1808.5 129.9,1806.1 130.6,1813.5 131.4,1810.2 132.5,1800.9 133.3,1795.3 134.4,1796.9 135.2,1804.8 136.0,1802.6 136.9,1806.3 138.0,1800.4 139.1,1804.9 140.2,1798.6 140.9,1802.2 141.7,1807.4 142.6,1802.1 143.6,1800.2 144.6,1804.8 145.6,1801.4 146.5,1803.5 147.5,1803.2 148.4,1795.0 149.4,1785.2 150.5,1759.9 151.6,1749.6 152.7,1773.1 153.5,1788.0 154.3,1789.1 155.3,1789.1 156.3,1782.3 157.1,1794.8 158.2,1784.8 159.1,1796.2 160.0,1791.0 160.9,1792.9 161.6,1794.9 162.5,1795.7 163.4,1787.1 164.2,1793.9 165.0,1795.2 165.9,1799.2 166.7,1791.8 167.6,1789.9 168.4,1793.5 169.4,1795.0 170.1,1793.3 171.0,1792.3 171.8,1797.3 172.8,1794.0 173.5,1795.0 174.4,1791.7 175.3,1797.7 176.2,1790.1 177.0,1792.6 178.0,1789.5 179.0,1788.1 179.9,1791.7 181.0,1792.8 181.7,1798.8 182.5,1789.6 183.5,1788.8 184.4,1789.8 185.5,1782.0 186.4,1785.8 187.5,1791.4 188.6,1786.4 189.5,1789.3 190.4,1785.4 191.4,1786.6 192.2,1779.4 193.2,1788.2 194.0,1784.5 195.0,1775.4 196.0,1775.8 196.9,1781.5 197.9,1782.2 198.9,1771.5 199.8,1777.8 200.5,1776.1 201.6,1773.6 202.4,1782.7 203.3,1780.0 204.0,1782.7 204.8,1779.7 205.6,1785.2 206.5,1777.0 207.4,1781.8 208.5,1774.6 209.4,1774.6 210.5,1781.7 211.3,1779.2 212.1,1779.2 213.1,1779.8 214.0,1780.1 214.8,1782.2 215.6,1785.2 216.7,1786.1 217.4,1782.7 218.3,1786.4 219.4,1785.7 220.5,1785.8 221.5,1784.9 222.4,1782.6 223.1,1783.9 224.0,1789.0 225.2,1785.4 226.0,1787.4 226.8,1785.1 227.7,1787.2 228.5,1791.7 229.2,1787.5 M230.0,1788.8 231.1,1788.9 232.0,1789.5 233.2,1787.6 234.2,1790.0 234.9,1789.5 235.9,1787.4 236.6,1791.4 237.4,1788.8 238.3,1791.8 239.2,1788.4 240.0,1789.6 240.8,1786.9 241.8,1792.1 242.8,1792.0 243.7,1788.4 244.6,1790.7 245.4,1791.5 246.3,1792.7 247.1,1794.5 248.1,1791.0 248.9,1790.6 249.8,1788.3 250.7,1791.7 251.8,1787.1 252.8,1789.4 253.9,1791.8 254.8,1791.5 255.7,1787.6 256.8,1793.6 257.7,1790.4 258.5,1794.7 259.6,1796.1 260.6,1792.6 261.4,1791.5 262.3,1795.3 263.3,1793.2 264.2,1792.7 265.3,1791.9 266.1,1793.1 267.2,1793.2 268.1,1794.3 269.0,1796.5 269.9,1796.2 270.8,1794.4 271.8,1799.7 272.6,1793.8 273.3,1793.5 274.3,1798.5 275.3,1795.6 276.4,1797.1 277.4,1791.8 278.4,1792.4 279.4,1792.8 280.4,1795.1 281.3,1795.0 282.1,1793.8 282.9,1794.2 283.7,1793.7 284.8,1797.9 285.5,1795.6 286.4,1797.8 287.3,1794.3 288.1,1796.4 288.9,1795.3 289.8,1794.8 290.8,1799.3 291.8,1794.9 292.8,1797.8 293.6,1799.3 294.5,1797.9 295.2,1796.9 296.1,1794.0 297.0,1798.9 298.1,1792.9 299.1,1794.2 300.2,1798.5 300.9,1797.6 301.8,1798.0 302.6,1798.4 303.6,1802.2 304.5,1797.4 305.5,1799.2 306.5,1799.7 307.2,1800.4 308.0,1793.4 308.8,1801.6 309.7,1799.9 310.7,1797.9 311.8,1798.5 312.6,1800.6 313.5,1799.8 314.6,1800.8 315.3,1799.9 316.3,1802.4 317.2,1802.3 318.0,1803.3 318.9,1805.5 319.9,1804.7 320.7,1808.6 321.6,1808.0 322.6,1809.8 323.5,1809.0 324.3,1806.2 325.1,1811.6 326.0,1808.1 326.7,1804.0 327.6,1801.2 328.4,1802.4 329.3,1802.3 330.1,1803.7 331.0,1797.9 331.8,1802.8 332.8,1800.0 333.7,1799.5 334.6,1800.2 335.4,1796.5 336.3,1798.1 337.2,1796.3 338.0,1795.7 338.7,1798.1 339.8,1796.3 340.9,1794.0 341.8,1798.0 342.9,1794.5 343.9,1794.2 344.8,1794.7 345.9,1791.6 346.8,1791.8 347.6,1790.1 348.3,1792.8 349.4,1792.7 350.3,1789.3 351.3,1787.0 352.2,1789.1 353.1,1786.0 354.0,1785.8 355.0,1784.9 355.9,1781.1 356.7,1781.3 357.6,1781.1 358.6,1782.3 359.5,1780.0 360.5,1773.7 361.5,1779.5 362.6,1775.7 363.5,1773.5 364.6,1776.2 365.3,1777.2 366.3,1776.2 367.4,1777.3 368.3,1774.7 369.2,1772.7 370.0,1773.8 371.0,1774.4 371.8,1774.3 372.7,1775.3 373.8,1776.5 374.6,1779.7 375.5,1780.1 376.7,1787.3 377.5,1786.0 378.5,1784.3 379.6,1787.0 380.6,1790.5 381.4,1788.5 382.4,1788.4 383.3,1789.6 384.3,1784.9 385.1,1786.9 386.0,1789.2 386.8,1786.3 387.7,1788.9 388.5,1789.2 389.6,1788.7 390.7,1792.2 391.6,1788.4 392.6,1790.1 393.3,1790.2 394.1,1790.9 395.1,1789.6 396.0,1787.2 396.8,1789.7 397.8,1792.5 398.8,1791.0 399.7,1788.3 400.5,1791.3 401.3,1791.3 402.0,1789.6 403.1,1791.1 404.1,1788.9 405.1,1794.1 406.2,1786.6 407.0,1788.0 408.0,1789.0 408.8,1790.1 409.8,1788.2 410.8,1793.8 411.8,1786.0 412.7,1789.0 413.5,1788.4 414.6,1786.0 415.3,1787.3 416.4,1784.4 417.4,1787.6 418.2,1790.1 419.0,1787.0 419.9,1783.2 420.9,1781.2 421.7,1784.5 422.8,1784.3 423.6,1783.5 424.4,1780.3 425.3,1782.3 426.2,1784.4 426.9,1782.8 427.9,1778.1 428.7,1779.5 429.7,1778.9 430.5,1783.1 431.3,1779.2 432.4,1784.3 433.4,1783.2 434.5,1778.4 435.4,1779.9 436.5,1784.1 437.6,1782.3 438.5,1785.5 439.4,1782.8 440.4,1785.6 441.4,1781.0 442.3,1780.9 443.4,1784.4 444.5,1785.2 445.5,1788.8 446.5,1781.1 447.4,1784.4 448.3,1783.8 449.3,1785.5 450.1,1783.8 451.1,1780.0 452.1,1782.4 453.2,1782.8 454.3,1785.1 455.1,1783.9 455.9,1783.4 456.7,1785.6 457.5,1789.7 458.4,1782.5 459.3,1785.7 460.4,1786.1 461.3,1781.0 462.1,1782.5 463.1,1784.4 464.1,1780.9 465.0,1782.8 465.9,1786.5 466.9,1782.8 467.8,1782.7 468.7,1781.7 469.7,1779.6 470.6,1776.0 471.6,1784.1 472.6,1785.8 473.6,1785.2 474.5,1784.7 475.7,1781.3 476.6,1780.8 477.8,1785.0 478.5,1785.5 479.5,1783.6 M480.0,1783.2 481.1,1783.8 482.2,1785.5 483.3,1776.2 484.3,1784.1 485.3,1790.7 486.3,1780.2 487.1,1783.2 487.9,1784.0 488.8,1780.5 489.6,1787.3 490.4,1782.3 491.3,1777.9 492.2,1783.5 493.2,1786.6 494.3,1782.6 495.3,1772.7 496.1,1779.2 496.9,1779.7 497.7,1784.1 498.7,1781.4 499.8,1783.3 500.9,1778.6 501.9,1771.1 502.9,1770.6 503.7,1778.8 504.5,1775.3 505.3,1776.3 506.2,1776.1 507.1,1774.7 508.2,1773.8 508.9,1778.4 509.9,1780.2 511.0,1776.8 512.1,1772.4 512.9,1775.7 513.8,1772.7 514.8,1781.1 515.8,1776.7 516.7,1779.1 517.6,1777.3 518.4,1773.0 519.5,1772.6 520.4,1771.2 521.3,1778.4 522.1,1771.6 522.8,1778.2 523.8,1782.0 524.9,1772.2 525.9,1772.7 526.9,1776.5 527.9,1779.8 528.7,1780.5 529.7,1776.5 530.7,1776.1 531.6,1771.2 532.4,1771.0 533.1,1776.9 533.9,1779.1 535.0,1778.6 535.7,1771.5 536.8,1777.1 537.7,1777.7 538.5,1773.3 539.5,1779.5 540.2,1772.5 541.1,1769.5 542.2,1770.6 543.2,1770.8 544.0,1769.3 545.0,1767.2 545.7,1760.9 546.7,1769.8 547.7,1767.4 548.8,1766.9 549.7,1767.5 550.7,1770.2 551.7,1770.5 552.6,1761.4 553.6,1768.3 554.5,1771.8 555.5,1766.3 556.5,1768.3 557.3,1761.2 558.4,1758.2 559.5,1764.6 560.3,1763.7 561.3,1761.6 562.4,1767.8 563.4,1764.6 564.3,1767.2 565.3,1760.6 566.1,1760.7 567.1,1765.2 567.9,1764.2 568.7,1765.7 569.8,1770.2 570.8,1766.5 571.6,1764.1 572.6,1766.7 573.5,1770.3 574.5,1770.9 575.5,1765.5 576.2,1770.2 577.1,1770.9 577.9,1769.7 578.7,1772.5 579.5,1766.0 580.4,1768.6 581.3,1767.5 582.4,1760.4 583.1,1782.7 584.0,1781.6 585.0,1765.2 585.9,1768.4 586.8,1770.3 587.9,1768.1 588.7,1771.5 589.8,1768.9 590.7,1771.4 591.7,1768.5 592.4,1770.1 593.5,1751.1 594.4,1767.5 595.3,1772.6 596.3,1777.4 597.4,1768.9 598.2,1777.3 598.9,1774.0 600.0,1775.1 601.0,1793.1 601.9,1774.5 602.7,1770.6 603.6,1777.3 604.5,1775.0 605.3,1776.2 606.1,1775.2 607.0,1773.1 607.8,1772.0 608.9,1777.5 609.9,1783.1 610.8,1783.9 611.7,1781.4 612.4,1784.8 613.6,1785.2 614.5,1786.6 615.4,1785.4 616.2,1781.3 617.2,1785.6 618.2,1785.9 619.0,1788.0 619.8,1786.6 620.8,1782.8 621.6,1786.8 622.7,1781.2 623.6,1783.4 624.4,1779.1 625.4,1786.0 626.3,1783.5 627.3,1782.0 628.1,1796.2 629.2,1764.3 630.0,1769.1 630.8,1781.3 631.9,1783.6 632.8,1783.0 633.6,1789.2 634.4,1788.7 635.4,1787.5 636.3,1787.9 637.3,1792.3 638.1,1787.0 639.0,1768.3 639.9,1782.7 640.8,1793.1 641.8,1791.9 642.9,1797.0 644.0,1793.7 644.8,1800.3 645.7,1793.6 646.6,1801.4 647.6,1795.6 648.3,1788.8 649.2,1796.1 650.1,1799.5 651.1,1801.1 652.0,1790.2 652.8,1805.9 653.9,1807.1 655.0,1820.7 655.9,1810.1 656.7,1792.1 657.5,1799.3 658.5,1804.6 659.4,1799.8 660.2,1803.4 661.0,1798.6 661.8,1800.8 662.7,1792.1 663.7,1776.8 664.7,1764.4 M665.0,1760.7 665.8,1746.2 666.8,1730.4 667.9,1711.0 669.0,1700.7 669.7,1694.2 670.6,1688.0 671.5,1692.7 672.4,1704.1 673.4,1724.3 674.2,1734.5 675.2,1753.4 676.2,1776.3 677.3,1783.8 678.4,1788.3 679.1,1784.9 680.0,1788.4 680.8,1787.0 681.5,1778.8 682.5,1766.1 683.5,1751.0 684.5,1719.5 685.3,1681.2 686.3,1650.5 687.1,1625.4 687.9,1606.9 688.8,1587.6 689.9,1582.8 691.0,1593.5 691.9,1610.1 692.9,1634.2 693.8,1646.6 694.7,1659.6 695.5,1673.9 696.5,1692.3 697.6,1708.0 698.7,1730.3 699.6,1745.5 700.7,1755.2 701.7,1764.1 702.7,1768.1 703.8,1768.5 704.7,1772.6 705.5,1775.5 706.4,1779.3 707.4,1781.6 708.2,1782.5 708.9,1782.3 709.9,1787.4 710.8,1782.9 711.8,1782.6 712.7,1780.4 713.8,1778.5 714.5,1772.1 715.5,1759.1 716.2,1751.8 717.2,1745.5 718.0,1744.3 719.0,1744.2 719.9,1741.0 720.8,1700.6 721.7,1627.1 722.8,1551.6 723.7,1519.7 724.7,1525.4 725.6,1558.4 726.6,1591.6 727.4,1617.2 728.2,1637.3 729.1,1661.3 730.1,1678.9 731.0,1684.6 731.8,1694.8 732.6,1701.3 733.4,1708.9 734.4,1715.2 735.2,1722.5 736.2,1730.6 737.3,1737.3 738.2,1740.0 739.0,1742.0 739.9,1747.4 740.9,1751.2 742.0,1737.3 742.9,1715.3 744.0,1708.3 744.8,1704.5 745.7,1701.0 746.6,1704.8 747.4,1715.4 748.2,1721.9 749.0,1732.2 749.9,1746.9 750.6,1757.5 751.7,1764.2 752.8,1769.5 753.5,1769.7 754.5,1770.6 755.5,1773.8 756.6,1771.5 757.4,1775.2 758.4,1773.9 759.2,1774.7 760.0,1777.2 761.0,1781.3 762.0,1782.3 762.9,1786.1 763.8,1792.5 764.6,1791.1 765.7,1792.7 766.5,1793.8 767.3,1797.0 768.3,1792.3 769.3,1791.9 770.4,1786.0 771.5,1781.3 772.5,1772.9 773.2,1767.1 774.3,1751.2 775.3,1740.0 776.2,1722.3 777.3,1698.9 778.0,1687.7 778.9,1679.0 779.9,1679.2 780.7,1689.4 781.8,1713.3 782.7,1725.0 783.5,1726.4 784.5,1719.9 785.4,1707.2 786.5,1697.7 787.3,1687.6 788.1,1682.4 789.0,1684.8 789.8,1693.1 790.6,1709.1 791.6,1723.1 792.5,1724.9 793.3,1726.5 794.3,1728.0 795.4,1729.0 796.2,1734.3 797.0,1738.7 798.1,1755.2 799.1,1770.3 799.9,1779.1 800.8,1794.8 801.8,1809.5 802.6,1800.6 803.6,1764.2 804.7,1712.8 805.5,1667.7 806.3,1631.7 807.4,1594.6 808.1,1574.9 808.8,1563.2 809.9,1561.4 810.9,1565.8 811.8,1575.5 812.8,1593.4 813.6,1611.3 814.5,1633.1 815.2,1636.5 816.3,1622.1 817.4,1591.5 818.2,1571.2 819.2,1564.2 820.1,1574.4 820.9,1581.0 821.9,1605.8 822.7,1614.4 823.6,1634.1 824.5,1643.9 825.3,1612.1 826.1,1571.2 827.1,1551.8 827.9,1549.3 828.9,1555.2 829.9,1561.5 830.6,1562.5 831.6,1571.4 832.7,1571.1 833.6,1578.2 834.4,1580.8 835.1,1584.3 835.9,1590.7 836.9,1594.9 837.6,1595.6 838.4,1599.9 839.4,1601.1 840.3,1603.9 841.0,1600.2 841.8,1601.1 842.7,1603.5 843.6,1603.3 844.3,1606.1 845.2,1606.1 845.9,1609.5 846.9,1611.0 847.9,1618.9 848.7,1627.0 849.8,1633.8 850.5,1638.4 851.6,1643.4 852.3,1645.9 853.2,1649.5 853.9,1649.5 854.9,1649.8 855.8,1654.9 856.5,1660.9 857.4,1659.8 858.2,1669.6 859.0,1666.3 859.7,1676.7 860.6,1679.5 861.5,1687.5 862.6,1691.6 863.7,1693.0 864.7,1689.9 865.5,1687.1 866.6,1686.4 867.6,1676.7 868.6,1665.9 869.4,1651.7 870.3,1635.5 871.2,1621.4 872.0,1615.5 872.9,1636.6 874.0,1654.7 874.8,1659.5 875.8,1664.7 876.9,1666.4 877.7,1665.8 878.7,1667.7 879.8,1665.2 880.9,1660.7 881.9,1656.2 882.7,1656.4 883.8,1652.8 884.9,1647.7 885.6,1646.3 886.4,1637.6 887.4,1635.1 888.2,1624.3 889.2,1617.5 890.0,1615.1 890.9,1622.6 891.9,1628.6 892.7,1633.7 893.6,1635.9 894.4,1628.6 895.1,1618.4 895.9,1608.1 896.8,1593.0 897.8,1572.3 898.6,1564.9 899.4,1568.7 900.3,1575.9 901.4,1592.4 902.5,1605.5 903.2,1609.3 904.1,1619.1 904.9,1620.1 905.8,1621.2 906.9,1621.3 908.0,1622.8 909.0,1616.0 910.0,1604.6 911.1,1596.9 912.0,1592.7 913.0,1589.4 913.9,1580.6 914.8,1579.1 915.8,1575.8 916.5,1576.0 917.4,1574.8 918.2,1577.3 919.3,1574.3 920.4,1581.4 921.2,1588.0 921.9,1604.5 922.9,1615.6 923.7,1629.5 924.7,1643.1 925.8,1671.4 926.9,1694.7 927.9,1683.7 928.7,1668.4 929.6,1654.5 930.5,1649.5 931.5,1648.1 932.4,1648.7 933.4,1647.2 934.4,1644.7 935.4,1646.3 936.2,1642.8 937.3,1639.9 938.2,1638.1 939.1,1637.9 940.3,1631.1 941.4,1623.3 942.1,1608.9 942.8,1606.2 943.6,1606.2 944.7,1596.4 945.6,1603.8 946.4,1620.2 947.3,1651.3 948.2,1677.9 949.3,1694.2 950.4,1680.0 951.5,1662.4 952.5,1661.9 953.3,1657.6 954.0,1656.7 955.0,1654.7 956.0,1653.4 957.0,1655.0 957.8,1650.4 958.9,1645.7 959.7,1644.9 960.7,1637.3 961.5,1634.5 962.5,1631.8 963.6,1636.6 964.5,1635.7 965.3,1637.8 966.0,1636.0 967.0,1632.3 968.1,1619.6 969.1,1608.8 970.2,1596.6 971.1,1592.7 972.1,1594.3 972.9,1601.3 973.8,1609.6 974.8,1621.7 975.5,1634.3 976.4,1648.4 977.5,1590.0 978.4,1587.3 979.3,1615.0 980.4,1641.7 981.3,1641.2 982.0,1637.9 983.1,1630.0 984.1,1620.4 985.2,1619.7 986.2,1620.9 986.9,1624.4 988.1,1628.3 988.9,1628.1 989.6,1631.5 990.7,1640.8 991.8,1649.2 992.8,1654.0 993.9,1652.7 994.7,1645.8 995.4,1637.0 996.5,1632.3 997.3,1635.5 998.4,1652.0 999.1,1655.2 1000.0,1664.5 1000.8,1667.2 1001.8,1676.7 1002.6,1676.4 1003.5,1680.0 1004.6,1683.7 1005.3,1686.8 1006.3,1686.2 1007.3,1687.7 1008.1,1676.4 1009.0,1668.8 1009.8,1663.3 1010.8,1662.5 1011.9,1664.9 1012.9,1667.8 1013.6,1670.3 1014.3,1668.4 1015.2,1667.2 1016.2,1668.1 1017.2,1659.8 1018.3,1632.8 1019.1,1623.1 1019.8,1611.6 1020.8,1607.3 1021.8,1605.8 1022.8,1607.8 1023.7,1612.1 1024.5,1632.3 1025.6,1697.3 1026.5,1751.6 1027.2,1781.9 1028.1,1792.6 1029.1,1768.1 1030.0,1744.7 1031.1,1756.8 1031.9,1782.6 1032.7,1804.3 1033.7,1809.1 1034.6,1808.3 1035.3,1803.8 1036.3,1803.7 1037.1,1797.5 1038.1,1783.5 1038.9,1769.3 1040.0,1757.7 M1040.0,1757.5 1041.0,1751.3 1041.9,1745.9 1042.6,1747.4 1043.6,1742.5 1044.6,1723.5 1045.6,1720.8 1046.3,1722.1 1047.3,1725.8 1048.3,1741.3 1049.4,1732.4 1050.3,1728.1 1051.1,1732.3 1052.0,1771.6 1052.8,1781.2 1053.7,1787.1 1054.5,1772.4 1055.5,1752.7 1056.5,1748.7 1057.6,1791.2 1058.6,1833.4 1059.6,1860.6 1060.6,1852.7 1061.7,1776.9 1062.6,1792.1" fill="none" stroke="#24405f" stroke-width="2.00" stroke-linejoin="round" stroke-linecap="round"/>
<path d="M67.7,2310.7 91.6,2310.7 99.0,2310.9 122.8,2312.3 136.7,2313.5 142.7,2313.7 143.2,2313.3 143.6,2312.2 144.9,2307.6 145.3,2306.5 145.8,2306.1 146.2,2306.5 146.7,2307.5 148.8,2315.3 150.6,2319.8 151.5,2321.2 151.9,2321.4 152.4,2321.1 152.8,2320.4 155.1,2314.2 156.0,2312.5 156.5,2312.2 157.4,2312.7 160.2,2316.3 161.1,2316.8 161.6,2316.6 162.0,2315.9 162.9,2313.6 165.7,2304.6 173.3,2286.2 177.0,2275.5 177.5,2274.6 178.4,2273.4 179.4,2272.6 182.2,2271.1 183.1,2270.4 184.1,2269.3 184.5,2268.3 185.4,2264.1 187.7,2249.9 188.7,2246.3 190.1,2243.7 193.8,2238.9 195.3,2236.0 196.7,2231.0 200.5,2213.3 202.0,2207.9 203.4,2204.4 206.6,2198.4 208.0,2194.8 209.9,2188.9 214.2,2174.3 217.1,2165.9 223.8,2147.4 239.8,2104.6 243.2,2097.0 246.1,2090.9 249.0,2085.6 251.4,2081.7 255.3,2076.4 259.6,2071.2 263.4,2066.2 265.3,2064.5 266.8,2064.1 267.7,2064.2 269.2,2064.6 274.0,2066.9 281.2,2069.6 284.6,2070.4 291.9,2071.5 293.3,2071.9 294.8,2072.6 297.7,2075.0 305.4,2083.0 310.2,2088.8 315.0,2095.4 317.3,2099.3 318.8,2102.2 326.5,2120.7 334.7,2137.1 339.1,2146.7 345.4,2161.8 352.2,2180.1 355.1,2187.5 359.9,2199.0 364.7,2209.6 371.5,2223.0 380.2,2239.3 385.0,2247.1 391.3,2256.2 394.6,2261.4 395.6,2262.5 396.5,2263.1 403.1,2263.2 404.0,2262.9 406.3,2260.8 407.2,2260.2 407.7,2260.1 408.2,2260.2 409.1,2260.9 411.4,2263.5 412.3,2264.1 415.2,2264.9 421.6,2265.8 423.0,2266.3 424.4,2266.9 426.2,2268.1 428.1,2269.8 429.5,2272.1 432.8,2278.7 433.7,2280.0 435.7,2282.1 438.1,2284.4 440.5,2286.2 442.9,2287.7 446.4,2289.3 450.3,2290.8 454.7,2292.2 459.7,2293.4 465.1,2294.5 485.4,2297.9 502.6,2300.5 510.9,2301.4 537.9,2302.1 546.7,2302.9 550.2,2303.0 552.6,2302.7 558.0,2300.9 560.5,2300.7 564.0,2301.2 571.5,2303.3 574.5,2303.6 576.4,2303.2 582.2,2299.8 583.7,2299.3 584.6,2299.2 585.1,2299.3 586.1,2300.0 587.1,2301.1 590.0,2305.2 590.9,2306.1 591.9,2306.5 592.4,2305.5 593.8,2296.8 594.3,2294.4 594.8,2293.4 595.3,2298.3 595.8,2307.4 596.2,2312.3 596.7,2310.8 598.2,2297.2 598.7,2293.5 599.1,2292.0 599.6,2292.5 600.1,2294.0 602.5,2305.9 603.0,2307.4 603.5,2307.9 604.0,2306.4 605.9,2289.1 606.4,2287.6 606.9,2296.6 607.4,2313.4 607.8,2322.4 608.3,2320.9 609.8,2307.4 610.3,2303.6 610.7,2302.1 612.2,2302.6 616.1,2305.7 617.5,2306.4 622.5,2306.4 627.5,2306.0 632.5,2305.0 633.0,2303.5 633.5,2300.7 633.9,2299.2 634.4,2299.6 634.9,2300.5 637.3,2308.0 637.8,2308.9 638.3,2309.4 641.8,2310.0 645.3,2310.5 652.8,2310.8 653.3,2310.5 654.7,2307.6 655.2,2306.8 655.7,2306.5 657.1,2306.9 660.0,2308.9 661.5,2309.4 662.0,2309.1 662.9,2307.3 664.9,2301.6 665.8,2299.2 667.3,2296.9 670.7,2292.2 672.1,2289.6 676.9,2277.1 677.9,2275.0 680.8,2269.6 681.8,2267.3 682.7,2264.2 686.1,2249.9 690.0,2234.7 692.4,2223.5 693.9,2215.7 695.3,2205.4 697.2,2184.9 699.1,2167.2 699.6,2164.1 700.0,2163.0 700.5,2164.3 700.9,2167.7 702.6,2186.1 704.5,2198.5 705.9,2205.1 706.9,2207.4 708.3,2209.6 710.8,2212.2 712.7,2213.7 713.7,2215.1 714.1,2221.6 714.6,2232.5 715.1,2238.3 715.6,2236.7 717.0,2222.2 717.5,2218.2 718.0,2216.6 722.4,2216.6 722.8,2217.1 723.8,2220.2 725.7,2228.9 729.6,2249.9 734.0,2267.3 736.9,2280.1 738.3,2284.7 740.2,2288.4 740.7,2288.9 741.2,2289.1 741.7,2288.4 742.2,2286.6 743.1,2280.5 744.5,2269.5 747.1,2236.9 747.6,2234.0 748.1,2241.6 749.9,2318.1 750.3,2316.3 751.5,2302.0 751.9,2299.2 753.4,2295.3 754.8,2292.4 756.2,2290.8 757.2,2290.5 757.6,2290.6 758.6,2291.2 761.0,2293.7 762.5,2294.8 763.4,2294.9 764.9,2294.7 766.3,2294.3 768.3,2293.6 768.8,2293.4 769.2,2293.0 770.2,2290.9 772.1,2285.7 772.6,2285.0 773.1,2284.7 773.6,2285.6 775.5,2295.5 776.0,2296.3 783.2,2296.3 783.7,2296.6 784.7,2298.6 787.1,2306.7 790.5,2314.5 792.4,2318.1 793.3,2319.1 794.3,2319.5 794.8,2319.3 795.3,2318.8 796.2,2316.9 799.2,2307.9 800.2,2303.5 802.1,2291.9 803.1,2288.2 803.5,2287.6 804.0,2289.2 805.5,2303.7 806.0,2307.8 806.4,2309.4 806.9,2307.2 808.9,2281.6 809.3,2278.9 810.3,2278.0 812.2,2277.1 813.2,2276.5 813.7,2276.0 814.2,2275.0 816.6,2264.4 819.5,2255.5 820.5,2252.0 821.4,2247.3 823.8,2229.6 826.7,2215.1 828.7,2198.9 829.2,2196.0 829.6,2194.8 830.1,2196.1 830.6,2199.6 831.0,2205.2 832.0,2220.9 833.1,2278.9 834.0,2306.3 834.4,2315.8 834.9,2319.5 835.4,2318.1 836.3,2308.3 838.8,2271.2 840.8,2234.4 841.3,2228.8 841.8,2226.7 842.3,2229.3 842.7,2235.4 845.3,2278.3 845.7,2283.0 846.2,2284.7 846.6,2282.4 847.1,2276.5 848.5,2249.9 850.3,2201.8 850.8,2197.7 851.2,2200.5 851.6,2208.2 852.8,2249.9 853.7,2313.7 854.1,2309.5 855.7,2264.4 856.7,2252.4 857.7,2243.3 859.6,2228.1 863.5,2203.4 866.8,2183.3 868.8,2168.8 869.7,2158.5 870.7,2145.8 875.5,2075.2 877.0,2061.4 878.0,2053.8 879.0,2049.1 879.5,2048.4 880.0,2048.8 880.9,2051.1 883.3,2061.5 884.2,2067.8 886.2,2084.4 887.1,2089.7 887.6,2090.5 888.1,2090.1 888.6,2089.1 889.6,2085.6 891.5,2076.5 892.5,2073.0 892.9,2072.0 893.4,2071.6 893.9,2072.1 894.4,2073.3 894.9,2075.3 895.8,2080.9 897.8,2096.3 899.4,2122.8 899.8,2125.3 900.3,2123.5 901.7,2108.3 902.1,2105.0 903.1,2101.2 904.1,2098.2 905.1,2096.5 905.6,2096.3 906.1,2096.6 907.0,2098.7 909.4,2107.9 910.3,2112.6 912.3,2124.1 913.2,2127.6 913.7,2128.2 915.2,2127.7 916.6,2126.7 918.1,2125.3 919.0,2123.6 921.5,2117.5 921.9,2116.8 922.4,2116.6 922.9,2118.7 923.8,2131.8 925.1,2156.9 926.4,2185.9 926.8,2189.0 927.2,2185.1 928.4,2153.8 928.8,2148.5 929.3,2146.6 930.2,2143.9 932.6,2139.8 934.9,2134.1 935.9,2132.7 936.3,2132.5 936.8,2132.7 937.8,2134.1 939.3,2138.3 941.7,2147.5 943.2,2155.3 944.2,2163.0 944.6,2169.1 945.8,2196.0 946.2,2199.2 946.7,2196.6 948.0,2174.1 948.5,2168.8 949.5,2162.3 950.4,2157.3 950.9,2155.5 951.9,2153.3 952.9,2151.5 954.3,2149.4 955.8,2147.8 957.2,2146.5 958.7,2145.6 960.1,2144.8 964.5,2143.3 965.9,2142.7 967.4,2141.6 971.2,2137.7 972.2,2137.1 973.2,2136.9 973.6,2137.5 974.0,2139.3 975.2,2148.5 976.2,2164.4 976.6,2168.8 977.1,2163.7 978.1,2145.6 979.5,2134.1 979.9,2131.9 980.4,2131.1 980.9,2131.1 981.9,2131.7 982.8,2132.7 985.7,2136.4 989.1,2139.2 992.0,2141.2 996.4,2143.2 998.3,2144.5 999.3,2145.7 1000.7,2148.2 1002.1,2151.4 1003.6,2155.1 1005.0,2160.4 1006.5,2168.8 1007.0,2175.7 1008.4,2210.8 1008.8,2215.1 1009.3,2203.1 1009.8,2180.8 1010.3,2168.8 1010.8,2168.9 1011.3,2169.3 1013.3,2171.5 1013.7,2171.7 1014.2,2171.5 1014.7,2170.9 1017.1,2166.6 1017.6,2166.1 1018.1,2165.9 1018.6,2166.2 1019.5,2168.4 1021.0,2174.6 1021.5,2179.2 1023.4,2212.5 1023.9,2215.1 1024.4,2213.8 1026.3,2197.0 1026.8,2194.8 1028.7,2191.9 1030.2,2190.7 1031.1,2190.5 1031.6,2190.6 1032.6,2191.1 1033.6,2192.0 1035.5,2194.8 1036.0,2196.0 1038.4,2206.4 1042.7,2220.9 1045.6,2233.6 1046.6,2237.1 1048.1,2240.2 1051.4,2244.6 1052.4,2246.1 1053.9,2249.2 1055.3,2253.6 1056.3,2258.3 1056.7,2261.8 1057.6,2271.9 1058.1,2278.9 1059.3,2319.5" fill="none" stroke="#9a5629" stroke-width="3.10" stroke-linejoin="round" stroke-linecap="round"/>
<path d="M67.7,2310.7 68.7,2311.9 69.5,2311.3 70.4,2310.7 71.3,2311.6 72.1,2315.2 73.0,2312.6 73.8,2309.5 74.7,2311.0 75.5,2310.1 76.6,2309.7 77.5,2310.6 78.3,2310.4 79.2,2309.9 80.1,2308.1 80.9,2309.7 81.8,2310.2 82.7,2311.9 83.6,2310.0 84.6,2311.6 85.7,2309.4 86.5,2310.3 87.3,2310.6 88.2,2311.9 88.9,2311.5 89.7,2309.6 90.5,2311.4 91.4,2312.0 92.3,2309.7 93.0,2310.1 94.0,2309.1 95.0,2312.7 95.7,2311.5 96.7,2310.9 97.5,2310.9 98.3,2310.8 99.1,2313.2 100.0,2310.4 101.1,2310.4 102.1,2311.2 102.9,2312.4 103.6,2312.4 104.6,2310.8 105.5,2309.7 106.3,2310.6 107.3,2311.5 108.0,2310.4 109.2,2312.5 110.1,2311.2 111.0,2310.6 112.0,2313.5 113.0,2311.8 114.1,2311.9 115.2,2313.0 116.3,2312.9 117.5,2310.6 118.3,2312.5 119.4,2311.3 120.2,2311.7 121.2,2314.1 122.3,2313.1 123.2,2310.6 124.1,2313.0 125.1,2311.6 126.0,2314.5 126.8,2314.4 127.8,2312.2 128.6,2315.7 129.7,2312.9 130.6,2311.9 131.5,2313.6 132.5,2310.7 133.6,2315.4 134.6,2312.2 135.3,2310.7 136.4,2314.2 137.4,2314.9 138.1,2312.1 139.2,2312.9 140.2,2312.6 141.2,2313.2 142.1,2314.8 142.8,2313.4 143.6,2310.8 144.5,2309.0 145.4,2305.8 146.4,2307.2 147.4,2310.5 148.4,2312.5 149.3,2318.9 150.4,2322.5 151.2,2320.8 152.0,2321.4 153.0,2319.6 153.9,2319.5 155.0,2313.9 156.1,2311.1 157.0,2312.5 158.0,2312.7 158.9,2314.8 159.9,2317.0 160.8,2316.3 161.9,2315.7 162.6,2314.1 163.7,2310.6 164.5,2308.7 M165.0,2306.6 166.1,2303.9 167.1,2301.4 167.8,2299.2 168.8,2297.9 169.8,2294.6 170.6,2293.0 171.5,2291.7 172.3,2288.5 173.3,2286.0 174.2,2284.5 175.0,2281.3 175.9,2277.6 176.9,2274.5 177.7,2274.6 178.6,2272.6 179.6,2272.0 180.6,2271.2 181.5,2270.5 182.5,2271.2 183.3,2271.3 184.3,2270.1 185.1,2265.4 185.9,2260.8 186.7,2256.4 187.8,2249.2 188.8,2243.5 189.9,2243.4 190.9,2245.1 191.9,2241.4 193.0,2239.6 193.9,2236.3 194.7,2236.8 195.5,2233.0 196.5,2231.7 197.2,2230.2 198.2,2224.3 199.2,2219.1 200.1,2214.6 201.1,2210.5 201.9,2208.7 202.9,2204.1 203.9,2202.8 204.8,2203.0 205.9,2199.0 207.0,2195.6 208.0,2194.3 208.9,2192.2 209.7,2189.7 210.5,2188.2 211.5,2183.4 212.3,2181.8 213.2,2178.7 214.3,2172.4 215.1,2172.4 216.1,2167.7 217.0,2167.9 218.1,2161.5 219.0,2159.6 220.0,2157.9 220.7,2156.5 221.5,2153.6 222.3,2151.1 223.2,2149.8 224.1,2146.9 225.2,2142.4 226.2,2141.3 227.1,2136.7 228.1,2135.2 229.0,2133.6 229.8,2133.2 230.8,2130.4 231.8,2124.2 232.7,2122.9 233.5,2122.2 234.4,2117.1 235.4,2116.0 236.4,2115.6 237.3,2110.9 238.3,2107.9 239.1,2106.5 239.9,2104.8 240.8,2101.9 241.6,2099.5 242.3,2097.6 243.2,2096.7 244.1,2095.4 245.0,2093.4 246.1,2091.3 247.0,2089.3 248.0,2086.0 249.0,2084.7 249.7,2084.8 250.6,2083.3 251.6,2082.0 252.3,2080.2 253.4,2077.8 254.3,2078.8 255.4,2075.9 256.4,2075.6 257.2,2074.3 258.0,2072.5 258.9,2071.2 259.8,2071.2 260.7,2069.7 261.8,2067.5 262.5,2066.1 263.4,2065.8 264.5,2065.1 265.5,2064.2 266.6,2064.3 267.4,2064.2 268.4,2063.1 269.4,2066.2 270.2,2066.9 271.1,2065.2 272.1,2065.5 273.0,2066.8 273.8,2069.0 274.7,2066.9 275.5,2065.7 276.6,2066.2 277.5,2069.0 278.4,2068.7 279.4,2068.8 280.4,2069.8 281.4,2069.3 282.2,2068.3 283.2,2068.7 284.3,2072.3 285.2,2071.9 286.3,2070.6 287.2,2071.3 288.3,2071.3 289.2,2071.0 290.1,2071.2 291.2,2072.2 291.9,2068.3 293.0,2070.5 293.9,2071.7 294.8,2072.7 295.8,2072.4 296.6,2074.9 297.6,2073.5 298.6,2074.7 299.6,2076.5 300.6,2078.2 301.5,2079.5 302.4,2079.8 303.3,2080.6 304.4,2081.3 305.3,2083.8 306.4,2084.5 307.5,2085.0 308.5,2086.0 309.2,2087.3 310.1,2089.3 310.8,2090.5 311.8,2091.1 312.8,2090.9 313.8,2093.1 314.6,2094.2 315.6,2096.7 316.6,2097.9 317.3,2100.1 318.1,2100.2 319.1,2102.1 319.9,2104.8 320.6,2106.5 321.4,2108.8 322.2,2110.0 322.9,2112.8 323.7,2114.4 324.7,2117.7 325.7,2120.4 326.7,2122.8 327.7,2122.6 328.6,2124.8 329.5,2126.5 330.3,2129.4 331.0,2131.2 332.1,2133.1 333.1,2134.8 334.1,2136.9 335.1,2136.9 336.2,2141.1 337.0,2140.7 337.8,2144.7 338.7,2144.2 339.6,2147.7 340.5,2150.4 341.5,2151.6 342.3,2156.0 343.0,2154.3 343.7,2159.1 344.7,2159.7 345.8,2162.3 346.7,2164.7 347.8,2168.1 348.8,2171.9 349.8,2173.8 350.6,2175.9 351.6,2179.2 352.4,2181.4 353.5,2183.8 354.4,2184.9 355.5,2189.2 356.5,2191.8 357.3,2190.9 358.4,2195.3 359.3,2197.6 360.0,2199.8 360.8,2201.0 361.7,2203.5 362.7,2206.5 363.4,2205.5 364.2,2210.4 365.2,2210.4 366.3,2213.3 367.0,2214.5 367.9,2216.4 369.0,2216.9 370.1,2221.1 370.9,2221.5 371.8,2223.6 372.9,2225.5 373.6,2227.6 374.7,2228.9 375.5,2231.0 376.3,2234.0 377.3,2234.2 378.4,2235.6 379.4,2237.8 380.3,2238.7 381.3,2240.1 382.4,2241.7 383.1,2244.8 384.0,2245.1 384.8,2246.9 385.8,2247.1 386.7,2248.3 387.4,2250.3 388.5,2252.0 389.6,2254.2 390.6,2255.6 391.4,2256.2 392.2,2255.0 393.3,2258.1 394.2,2261.4 395.3,2260.2 396.0,2261.0 396.9,2261.7 397.9,2262.6 399.0,2262.6 400.1,2263.9 400.9,2262.5 401.9,2261.9 402.8,2263.7 403.5,2264.1 404.2,2264.1 405.2,2262.4 406.2,2261.9 407.0,2260.8 408.0,2259.7 408.8,2260.9 409.9,2262.1 410.9,2263.3 411.7,2265.0 412.6,2264.3 413.6,2264.0 414.3,2263.3 415.4,2263.3 416.3,2264.7 417.2,2263.7 418.3,2265.6 419.1,2264.9 420.0,2264.5 421.0,2266.7 422.1,2266.4 423.0,2267.1 423.9,2268.5 424.7,2267.9 425.6,2265.2 426.4,2268.5 427.2,2268.7 428.1,2268.8 428.8,2271.1 429.7,2271.9 430.4,2272.9 431.5,2275.3 432.3,2277.5 433.2,2278.8 434.2,2281.1 435.0,2281.7 436.0,2280.8 437.0,2282.3 437.9,2284.6 438.7,2282.4 439.6,2284.4 440.4,2286.4 441.4,2287.1 442.4,2288.1 443.1,2287.5 444.2,2287.1 445.2,2290.1 446.1,2289.4 446.9,2288.9 447.9,2290.8 448.9,2289.0 449.7,2289.5 450.8,2292.0 451.7,2291.2 452.6,2290.7 453.4,2290.7 454.2,2292.2 455.2,2292.6 456.2,2292.8 457.0,2291.8 458.0,2292.4 459.1,2293.0 459.9,2294.2 460.8,2293.9 461.8,2293.3 462.8,2295.0 463.5,2295.7 464.3,2295.0 465.2,2295.9 466.2,2294.8 467.1,2296.0 467.9,2295.6 469.0,2294.8 470.1,2295.3 470.9,2296.0 472.0,2293.7 473.1,2297.6 473.9,2296.7 474.9,2297.6 475.6,2295.6 476.6,2295.0 477.6,2297.2 478.3,2297.4 479.4,2299.8 480.5,2297.6 481.6,2295.9 482.7,2297.9 483.6,2297.5 484.5,2298.4 485.4,2299.3 486.3,2297.9 487.2,2298.1 488.3,2298.5 489.1,2298.4 490.0,2297.6 490.7,2299.1 491.5,2298.0 492.6,2297.9 493.5,2299.2 494.6,2298.8 495.6,2298.6 496.7,2300.9 497.6,2299.9 498.5,2300.2 499.3,2298.8 500.1,2301.1 500.9,2300.5 501.9,2300.6 502.8,2300.3 503.8,2300.3 504.9,2300.9 505.9,2299.4 506.9,2300.2 507.8,2298.3 508.7,2301.2 509.8,2302.4 510.6,2301.6 511.4,2302.6 512.5,2302.2 513.4,2300.3 514.4,2302.1 515.3,2303.4 516.2,2301.0 517.3,2301.8 518.2,2301.9 519.1,2301.9 520.2,2301.4 521.2,2302.3 522.1,2301.9 523.1,2302.1 524.0,2302.5 524.8,2301.5 525.7,2301.3 526.7,2301.6 527.6,2301.9 528.7,2303.0 529.7,2301.5 530.4,2302.3 531.3,2302.4 532.1,2303.0 532.8,2301.2 533.6,2303.4 534.5,2301.8 535.5,2302.8 536.2,2302.6 537.3,2303.3 538.3,2302.7 539.1,2301.0 539.9,2302.0 540.9,2301.6 541.8,2301.5 542.6,2303.0 543.6,2302.4 544.5,2301.8 545.5,2305.5 546.5,2301.5 547.5,2303.7 548.4,2303.4 549.5,2301.6 550.3,2302.4 551.1,2302.3 552.0,2301.9 552.8,2302.7 553.7,2302.9 554.8,2303.6 555.6,2302.1 556.4,2302.6 557.2,2301.1 558.1,2299.8 558.9,2300.5 559.9,2300.7 M560.0,2300.7 561.0,2300.8 561.9,2301.1 562.9,2299.1 563.9,2299.1 564.7,2301.4 565.6,2302.0 566.4,2303.8 567.3,2303.0 568.1,2301.3 569.1,2302.0 570.1,2303.4 570.9,2302.6 571.7,2306.1 572.8,2301.2 573.7,2305.1 574.7,2303.5 575.6,2305.6 576.6,2301.7 577.6,2300.9 578.4,2297.7 579.5,2304.8 580.3,2299.6 581.3,2298.7 582.4,2298.7 583.4,2299.9 584.3,2296.8 585.0,2300.0 585.9,2298.2 586.7,2301.9 587.5,2300.7 588.6,2302.9 589.5,2301.7 590.5,2309.5 591.6,2308.0 592.6,2302.9 593.5,2297.2 594.3,2291.6 595.1,2300.5 596.2,2313.5 597.2,2305.2 598.2,2295.3 599.1,2292.8 600.2,2296.2 601.3,2300.8 602.3,2303.8 603.1,2308.0 604.1,2304.3 605.2,2296.3 606.2,2290.1 607.0,2305.5 608.1,2323.7 609.1,2315.1 610.0,2301.6 611.0,2304.0 612.1,2305.2 613.0,2300.4 614.0,2307.0 614.9,2306.4 615.8,2306.2 616.8,2304.2 617.7,2305.1 618.5,2306.5 619.4,2303.3 620.5,2302.4 621.6,2306.3 622.5,2304.5 623.4,2309.7 624.3,2308.1 625.1,2303.9 626.2,2305.8 627.0,2305.7 627.8,2303.3 628.9,2304.8 630.0,2304.5 630.8,2302.5 631.9,2305.2 632.9,2299.6 634.0,2301.5 635.1,2303.5 635.9,2304.5 636.8,2310.1 637.9,2311.9 638.9,2310.1 639.8,2311.0 640.7,2311.0 641.7,2306.5 642.4,2309.4 643.4,2310.1 644.5,2309.2 645.3,2310.9 646.1,2310.9 647.0,2308.0 647.9,2306.3 648.8,2309.9 649.6,2308.7 650.6,2311.4 651.7,2310.1 652.7,2309.7 653.7,2311.9 654.5,2310.8 655.3,2306.9 656.4,2309.2 657.3,2306.5 658.2,2309.0 659.3,2308.2 660.3,2309.5 661.3,2307.7 662.2,2309.8 663.0,2308.7 663.8,2303.7 664.6,2302.7 M665.0,2301.2 665.9,2298.9 666.7,2296.9 667.7,2296.9 668.7,2295.3 669.6,2293.8 670.7,2293.6 671.6,2290.9 672.4,2289.8 673.3,2289.5 674.2,2282.9 674.9,2282.0 676.0,2281.0 676.8,2278.1 677.9,2275.9 679.0,2273.1 679.7,2271.1 680.4,2270.4 681.2,2269.8 682.1,2266.5 682.9,2263.2 684.0,2259.6 685.1,2253.6 686.1,2248.8 687.1,2247.9 688.2,2241.9 689.2,2238.4 690.0,2232.6 691.0,2228.9 691.8,2225.6 692.8,2222.1 693.6,2217.7 694.5,2213.9 695.2,2203.5 696.1,2196.2 697.1,2186.5 698.2,2177.0 699.2,2167.6 700.0,2162.3 700.7,2167.4 701.6,2173.8 702.6,2183.7 703.6,2192.8 704.4,2197.9 705.4,2203.3 706.4,2207.1 707.2,2209.2 708.1,2209.8 709.0,2210.2 709.7,2209.2 710.6,2212.2 711.4,2212.7 712.5,2214.1 713.4,2213.5 714.5,2229.0 715.2,2237.1 716.1,2234.1 716.8,2224.2 717.8,2219.7 718.9,2215.0 719.7,2215.9 720.5,2217.1 721.4,2217.1 722.2,2215.8 723.3,2217.2 724.1,2222.5 725.1,2226.2 725.9,2230.0 726.8,2234.7 727.7,2241.1 728.8,2246.9 729.8,2250.7 730.8,2255.7 731.8,2258.8 732.9,2261.9 733.9,2265.8 734.7,2272.8 735.6,2276.1 736.4,2278.1 737.4,2283.4 738.2,2284.2 739.3,2287.6 740.1,2287.3 740.9,2289.1 742.0,2287.2 742.9,2283.0 743.9,2273.7 744.7,2266.8 745.6,2255.8 746.5,2242.8 747.6,2233.3 748.6,2260.9 749.6,2303.6 750.3,2316.4 751.2,2305.2 752.0,2298.9 753.0,2296.0 753.7,2295.0 754.8,2289.9 755.7,2289.9 756.6,2291.0 757.4,2290.5 758.3,2292.0 759.1,2293.0 760.2,2292.9 761.0,2295.4 762.1,2295.6 762.8,2293.8 763.7,2295.8 764.6,2294.8 765.4,2294.0 766.2,2295.3 767.3,2294.2 768.1,2292.8 769.0,2292.7 770.0,2293.1 770.7,2288.9 771.8,2284.9 772.8,2285.0 773.7,2286.8 774.6,2291.2 775.5,2295.1 776.6,2295.8 777.4,2296.3 778.4,2297.9 779.4,2296.9 780.2,2296.1 781.0,2294.3 782.0,2297.1 782.9,2295.5 783.8,2296.7 784.7,2298.2 785.8,2302.0 786.6,2304.1 787.6,2307.8 788.5,2308.1 789.2,2311.3 790.3,2313.9 791.4,2319.1 792.5,2318.4 793.4,2320.6 794.5,2318.3 795.4,2318.7 796.5,2315.5 797.5,2313.9 798.5,2310.4 799.4,2306.7 800.5,2302.0 801.3,2297.4 802.2,2292.2 803.3,2287.6 804.2,2290.9 805.0,2298.7 806.0,2308.3 807.0,2307.4 807.9,2295.9 808.9,2280.5 809.9,2278.4 810.9,2278.7 811.7,2276.1 812.6,2279.2 813.6,2273.9 814.7,2272.7 815.6,2268.7 816.5,2263.8 817.2,2264.4 818.0,2259.1 818.9,2258.8 819.8,2253.1 820.7,2251.8 821.8,2244.3 822.5,2240.3 823.3,2232.5 824.4,2226.9 825.4,2222.9 826.5,2217.8 827.3,2211.6 828.1,2202.0 828.9,2196.6 829.7,2195.3 830.8,2202.8 831.9,2220.1 832.9,2269.5 833.7,2297.8 834.4,2313.8 835.1,2317.9 836.1,2311.6 836.8,2302.5 837.8,2284.8 838.9,2269.4 839.9,2250.8 840.7,2236.5 841.6,2228.1 842.7,2236.0 843.6,2249.6 844.6,2267.2 845.6,2279.5 846.6,2283.2 847.5,2270.5 848.6,2248.2 849.7,2215.6 850.5,2200.5 851.3,2201.6 852.2,2227.5 853.4,2293.8 854.4,2301.4 855.4,2271.1 856.4,2256.1 857.3,2247.0 858.0,2241.9 858.9,2233.2 859.9,2225.7 861.0,2218.0 862.0,2212.2 862.9,2206.8 863.8,2199.8 864.8,2196.2 865.8,2188.9 866.8,2182.5 867.8,2176.6 868.7,2169.4 869.8,2158.4 870.7,2146.9 871.7,2129.9 872.5,2120.5 873.3,2107.5 874.4,2091.1 875.1,2080.4 875.9,2071.8 876.7,2064.1 877.8,2055.6 878.6,2051.1 879.5,2047.8 880.5,2049.1 881.6,2052.7 882.4,2057.9 883.3,2061.1 884.1,2065.9 885.0,2073.4 885.8,2082.1 886.5,2085.0 887.4,2090.2 888.2,2090.1 889.3,2085.5 890.3,2080.7 891.4,2077.0 892.5,2071.7 893.2,2070.8 894.1,2073.0 895.1,2076.5 896.2,2084.2 897.3,2091.7 898.0,2099.5 899.1,2119.0 900.0,2123.8 901.1,2112.3 902.1,2108.3 903.1,2100.2 904.1,2097.8 905.0,2096.6 906.0,2096.6 907.0,2098.3 907.9,2101.8 908.6,2105.8 909.6,2108.5 910.5,2112.6 911.6,2120.5 912.6,2125.8 913.5,2129.9 914.3,2128.5 915.2,2126.7 916.3,2128.1 917.4,2126.2 918.2,2124.7 919.3,2124.3 920.0,2120.2 921.1,2118.8 922.1,2116.8 922.9,2120.2 923.8,2132.3 924.9,2151.2 925.9,2176.6 926.7,2187.8 927.8,2167.8 928.8,2147.9 929.7,2145.4 930.7,2142.3 931.5,2140.5 932.4,2140.7 933.3,2137.6 934.1,2135.0 934.8,2134.7 935.6,2134.3 936.5,2131.9 937.5,2133.9 938.5,2135.3 939.4,2139.6 940.4,2144.8 941.5,2146.2 942.2,2148.9 943.3,2156.1 944.1,2161.1 944.9,2175.6 945.6,2193.3 946.6,2197.1 947.6,2182.1 948.5,2169.4 949.6,2161.7 950.7,2154.3 951.8,2153.4 952.8,2152.6 953.6,2147.6 954.5,2148.8 955.4,2147.0 956.5,2148.2 957.5,2145.4 958.5,2146.7 959.5,2143.6 960.5,2142.9 961.5,2144.4 962.6,2143.7 963.4,2144.6 964.3,2144.0 965.2,2141.8 966.0,2141.2 966.8,2142.6 967.5,2140.9 968.4,2140.5 969.3,2137.8 970.1,2139.5 971.1,2138.1 972.2,2139.5 973.3,2136.7 974.1,2140.9 974.8,2146.1 975.6,2153.0 976.4,2167.4 977.4,2158.6 978.3,2142.8 979.0,2140.5 979.8,2131.7 980.8,2131.8 981.8,2131.2 982.8,2132.9 983.8,2133.6 984.9,2135.5 986.0,2136.6 987.1,2137.2 988.1,2137.0 989.2,2138.0 990.2,2140.5 991.2,2140.8 992.0,2140.8 992.9,2143.0 993.7,2143.1 994.5,2140.2 995.6,2143.9 996.4,2142.7 997.2,2144.6 998.2,2144.0 999.1,2146.7 1000.1,2148.8 1001.0,2148.5 1001.7,2149.1 1002.5,2151.9 1003.4,2154.3 1004.3,2157.2 1005.1,2160.1 1005.8,2163.9 1006.7,2173.4 1007.7,2196.9 1008.8,2215.7 1009.8,2179.6 1010.8,2171.3 1011.8,2170.0 1012.6,2170.5 1013.6,2172.3 1014.6,2170.5 1015.8,2169.3 1016.6,2168.0 1017.5,2168.6 1018.5,2165.3 1019.2,2166.5 1020.1,2170.7 1021.1,2174.9 1022.1,2190.5 1023.1,2207.8 1024.1,2212.9 1024.8,2209.4 1025.9,2199.8 1026.9,2194.7 1027.8,2194.6 1028.8,2191.7 1029.8,2191.5 1030.8,2191.4 1031.9,2190.0 1032.7,2191.1 1033.4,2191.8 1034.4,2194.0 1035.2,2191.8 1036.2,2198.5 1037.0,2201.5 1037.9,2203.9 1038.7,2207.9 1039.6,2209.4 1040.4,2214.1 1041.2,2216.4 1042.4,2221.5 1043.1,2222.3 1044.0,2226.8 1044.7,2230.0 1045.8,2233.0 1046.6,2236.7 1047.3,2238.0 1048.1,2241.2 1049.1,2239.5 1050.0,2244.2 1050.9,2244.3 1051.8,2245.7 1052.7,2245.1 1053.8,2248.6 1054.8,2251.1 1055.8,2256.0 1056.8,2262.3 1057.6,2271.3 1058.4,2288.9 1059.2,2316.0" fill="none" stroke="#9a5629" stroke-width="2.00" stroke-linejoin="round" stroke-linecap="round"/>
<path d="M1166.8,1775.6 1187.3,1774.1 1234.8,1771.1 1249.7,1769.8 1256.2,1769.5 1258.7,1769.6 1261.2,1769.9 1269.6,1772.0 1272.5,1772.6 1282.4,1773.8 1285.9,1774.1 1288.8,1774.1 1290.8,1773.8 1292.8,1773.2 1300.7,1770.2 1303.7,1769.4 1334.3,1763.3 1346.2,1760.7 1349.1,1760.3 1356.6,1759.9 1382.3,1759.0 1393.6,1758.8 1420.0,1758.8 1430.7,1759.0 1442.0,1759.4 1446.5,1760.0 1455.4,1761.7 1470.2,1764.1 1487.5,1765.6 1502.3,1768.0 1514.3,1769.1 1522.7,1769.5 1530.1,1769.4 1546.3,1768.6 1564.9,1768.1 1594.7,1768.0 1599.6,1767.7 1604.6,1767.2 1610.0,1766.3 1611.9,1765.4 1615.3,1763.1 1616.8,1762.3 1618.2,1761.9 1619.2,1761.8 1621.6,1762.1 1624.0,1762.5 1628.9,1763.6 1631.4,1764.4 1636.3,1766.5 1646.2,1771.6 1650.1,1773.4 1654.1,1774.8 1658.0,1775.6 1660.5,1775.7 1662.4,1775.5 1664.8,1774.9 1670.6,1773.1 1679.6,1770.8 1683.6,1770.1 1686.6,1770.0 1687.5,1770.4 1689.0,1771.7 1690.4,1773.6 1693.8,1778.5 1695.3,1780.2 1696.7,1781.3 1697.7,1781.5 1698.7,1781.2 1699.6,1780.4 1701.1,1778.5 1704.0,1773.7 1705.4,1771.6 1706.9,1770.2 1707.8,1769.9 1708.3,1770.2 1709.3,1771.7 1710.3,1774.4 1713.2,1784.3 1714.1,1786.5 1714.6,1787.1 1715.1,1787.3 1715.6,1787.2 1716.5,1786.6 1720.4,1782.0 1724.3,1778.6 1726.2,1777.0 1728.1,1776.0 1729.1,1775.8 1730.6,1775.8 1739.2,1777.1 1741.2,1777.2 1743.1,1777.0 1746.0,1776.0 1752.3,1773.0 1761.5,1769.9 1765.3,1767.6 1766.3,1767.2 1767.3,1767.0 1767.8,1767.7 1768.2,1769.6 1769.2,1775.8 1771.1,1790.5 1773.1,1800.1 1774.1,1804.6 1775.1,1808.2 1776.1,1810.2 1776.6,1810.5 1777.0,1809.2 1777.5,1805.7 1779.4,1782.9 1779.9,1778.4 1780.3,1775.7 1781.8,1771.3 1782.7,1769.1 1783.7,1767.6 1784.2,1767.2 1784.7,1767.0 1785.2,1767.2 1785.6,1767.6 1786.6,1769.0 1787.6,1771.3 1789.0,1775.7 1789.5,1778.7 1790.0,1783.9 1791.8,1810.6 1792.3,1814.8 1792.8,1816.3 1793.3,1816.2 1794.3,1815.7 1795.3,1814.7 1796.3,1813.4 1796.8,1812.2 1797.2,1810.1 1800.6,1787.3 1801.6,1783.5 1803.5,1777.3 1804.5,1772.9 1805.0,1769.9 1805.9,1754.2 1806.4,1749.6 1806.9,1750.5 1808.8,1760.4 1809.3,1761.2 1809.8,1761.1 1810.8,1760.2 1813.7,1755.4 1816.1,1752.4 1817.0,1750.3 1817.5,1748.8 1818.0,1746.7 1818.9,1717.7 1820.0,1746.7 1820.5,1746.1 1821.9,1741.5 1822.4,1740.9 1822.8,1741.7 1823.3,1743.6 1824.3,1750.2 1825.7,1763.4 1827.7,1792.5 1829.6,1818.5 1830.6,1827.9 1831.1,1829.4 1831.5,1826.9 1833.4,1798.9 1834.9,1785.5 1836.4,1775.3 1837.3,1770.8 1838.3,1767.3 1842.7,1755.4 1846.0,1742.8 1847.0,1739.9 1848.0,1738.3 1848.5,1738.0 1848.9,1738.3 1849.9,1740.3 1851.8,1745.6 1852.3,1746.4 1852.8,1746.7 1853.3,1746.6 1854.3,1745.8 1857.2,1741.8 1858.1,1741.1 1858.6,1740.9 1859.1,1741.1 1859.6,1741.7 1862.0,1746.0 1862.5,1746.5 1863.0,1746.7 1863.9,1746.6 1864.9,1746.2 1868.8,1744.1 1870.2,1743.8 1870.7,1744.3 1871.2,1745.5 1873.6,1755.9 1874.1,1757.4 1874.6,1758.3 1875.0,1758.8 1878.4,1760.8 1879.9,1762.5 1881.8,1766.3 1883.7,1771.3 1885.7,1778.3 1887.6,1787.3 1889.5,1803.5 1890.0,1806.5 1890.5,1807.6 1891.0,1807.2 1891.5,1806.2 1893.9,1797.5 1894.4,1796.4 1894.8,1796.0 1895.3,1796.7 1895.8,1798.6 1898.2,1813.8 1898.7,1815.6 1899.2,1816.3 1899.7,1816.0 1900.6,1814.1 1903.5,1804.1 1904.5,1802.1 1905.0,1801.8 1905.5,1801.9 1906.0,1802.1 1906.9,1803.0 1908.4,1805.1 1910.3,1809.3 1911.3,1812.2 1912.2,1817.7 1914.2,1831.5 1916.1,1847.8 1918.5,1863.5 1919.4,1868.1 1919.9,1869.5 1920.4,1870.0 1920.9,1868.9 1921.9,1862.0 1926.3,1818.7 1926.8,1815.9 1927.3,1814.9 1927.8,1816.7 1928.3,1821.4 1930.1,1850.3 1930.6,1855.1 1931.1,1856.9 1931.6,1855.4 1932.1,1851.3 1933.5,1833.1 1935.4,1813.1 1936.4,1805.8 1936.9,1804.7 1937.4,1806.7 1937.8,1811.7 1939.7,1842.6 1940.2,1847.7 1940.7,1849.7 1941.2,1849.1 1942.1,1845.1 1944.1,1833.7 1947.0,1821.4 1948.5,1813.4 1949.5,1805.1 1951.4,1784.4 1953.8,1761.5 1954.3,1758.3 1955.2,1753.7 1957.7,1745.1 1958.6,1740.9 1960.6,1729.4 1962.1,1717.7 1964.4,1688.8 1965.4,1681.2 1967.3,1668.5 1969.7,1648.5 1971.2,1640.1 1973.6,1629.7 1975.1,1622.2 1979.4,1592.6 1981.8,1573.9 1982.8,1569.3 1983.3,1568.4 1984.2,1567.8 1985.6,1567.2 1987.0,1567.0 1987.5,1568.6 1989.0,1583.1 1989.5,1587.1 1989.9,1588.7 1990.4,1587.7 1990.9,1585.0 1992.4,1573.6 1992.9,1570.9 1993.4,1569.9 1993.9,1569.9 1994.9,1570.1 1996.3,1570.6 1997.8,1571.3 1998.2,1571.8 1999.2,1574.0 2003.5,1587.7 2004.5,1589.9 2005.0,1590.2 2009.4,1590.2 2009.8,1588.9 2010.2,1585.6 2012.8,1559.7 2013.3,1556.6 2013.7,1555.4 2014.2,1557.0 2015.1,1567.5 2016.4,1589.3 2017.7,1617.5 2018.1,1620.6 2018.5,1617.6 2019.7,1589.7 2020.6,1573.9 2021.5,1559.4 2022.4,1549.6 2023.4,1544.1 2025.9,1535.1 2028.3,1524.9 2029.2,1522.4 2029.7,1522.0 2030.1,1522.2 2030.6,1522.7 2031.1,1523.4 2032.1,1525.6 2034.0,1532.2 2034.5,1535.0 2036.9,1561.2 2037.9,1570.0 2041.3,1598.9 2044.2,1621.0 2045.6,1633.7 2048.1,1668.1 2048.6,1673.6 2049.1,1677.2 2050.5,1682.4 2053.4,1688.8 2054.3,1691.7 2055.3,1696.3 2057.2,1707.8 2058.2,1711.4 2058.7,1711.9 2059.6,1711.5 2060.6,1710.4 2063.0,1707.1 2064.0,1706.3 2064.5,1706.1 2064.9,1706.6 2065.9,1709.9 2067.4,1717.7 2068.3,1725.3 2070.3,1746.7 2071.5,1764.9 2071.9,1769.5 2072.3,1771.4 2072.8,1769.5 2073.3,1764.7 2074.7,1745.1 2075.2,1740.9 2076.6,1733.7 2078.0,1728.6 2079.0,1726.4 2081.4,1722.9 2082.3,1721.9 2083.3,1721.1 2084.8,1720.6 2085.2,1720.9 2085.7,1721.7 2088.1,1728.2 2088.6,1729.0 2089.1,1729.3 2089.6,1728.6 2090.1,1726.8 2092.5,1711.6 2093.0,1709.7 2093.5,1709.0 2093.9,1709.8 2094.9,1715.0 2096.8,1730.8 2098.8,1752.5 2099.3,1755.4 2100.2,1759.0 2101.2,1761.7 2101.7,1762.4 2102.1,1762.7 2102.6,1761.4 2104.6,1745.8 2105.0,1743.8 2106.0,1742.3 2107.0,1741.3 2107.9,1740.9 2108.4,1741.3 2109.4,1744.0 2110.4,1748.4 2113.7,1765.5 2116.6,1781.5 2118.6,1794.5 2119.1,1796.7 2119.5,1797.5 2120.0,1797.1 2120.5,1795.9 2123.4,1783.1 2125.3,1777.6 2126.8,1773.8 2127.8,1771.8 2128.7,1770.4 2129.2,1770.1 2129.7,1769.9 2130.2,1770.7 2130.7,1772.7 2133.1,1788.9 2133.6,1790.9 2134.0,1791.7 2134.5,1790.9 2135.0,1788.9 2137.4,1772.7 2137.9,1770.7 2138.4,1769.9 2138.9,1775.9 2139.4,1787.1 2139.8,1793.1 2140.3,1792.4 2141.3,1787.7 2143.2,1772.8 2144.2,1767.0 2145.2,1763.3 2148.5,1752.5 2149.8,1746.2 2150.2,1744.5 2150.6,1743.8 2151.0,1745.0 2151.5,1747.9 2153.4,1765.9 2153.9,1768.8 2154.3,1769.9 2154.7,1768.4 2156.0,1756.9 2156.4,1755.4 2156.9,1760.3 2157.3,1772.4 2158.8,1815.8 2159.3,1820.7 2159.7,1815.1 2161.0,1769.9" fill="none" stroke="#966a2c" stroke-width="3.40" stroke-linejoin="round" stroke-linecap="round"/>
<path d="M1166.8,1775.6 1167.9,1779.1 1168.7,1775.8 1169.8,1774.0 1170.7,1775.8 1171.7,1776.1 1172.5,1773.1 1173.6,1770.0 1174.4,1776.8 1175.5,1768.7 1176.3,1783.4 1177.2,1776.1 1177.9,1768.7 1178.9,1777.7 1179.9,1771.9 1180.9,1773.2 1181.9,1772.4 1182.7,1773.9 1183.7,1778.8 1184.4,1780.1 1185.4,1777.2 1186.4,1779.7 1187.2,1773.4 1188.2,1773.4 1189.2,1776.4 1190.2,1775.3 1191.1,1781.3 1191.8,1773.4 1192.7,1774.8 1193.6,1771.2 1194.5,1770.5 1195.5,1772.3 1196.2,1772.6 1197.2,1772.3 1198.1,1775.0 1199.2,1770.1 1200.0,1779.4 1200.9,1774.4 1202.0,1772.1 1202.7,1774.4 1203.7,1772.6 1204.7,1771.9 1205.6,1774.3 1206.6,1771.6 1207.5,1773.6 1208.3,1773.3 1209.1,1766.5 1210.0,1770.5 1210.8,1768.6 1211.5,1771.3 1212.5,1769.6 1213.4,1770.7 1214.5,1775.3 1215.2,1769.5 1216.0,1775.2 1217.1,1774.3 1218.1,1774.4 1218.9,1772.5 1219.9,1769.7 1220.6,1778.2 1221.4,1773.5 1222.1,1775.8 1223.0,1771.1 1223.9,1771.6 1224.6,1775.7 1225.7,1770.5 1226.5,1770.3 1227.3,1773.4 1228.1,1776.9 1228.9,1776.5 1229.8,1768.5 1230.7,1771.0 1231.6,1772.4 1232.3,1774.4 1233.4,1773.4 1234.3,1772.0 1235.1,1770.7 1236.2,1773.6 1237.3,1776.7 1238.4,1768.2 1239.2,1770.8 1240.1,1774.9 1241.0,1771.2 1241.9,1772.9 1242.8,1771.7 1243.6,1773.2 1244.4,1769.2 1245.4,1765.8 1246.3,1766.0 1247.3,1766.8 1248.3,1769.6 1249.2,1770.4 1250.0,1771.7 1251.0,1766.5 1252.0,1770.1 1252.7,1769.8 1253.5,1774.3 1254.5,1772.8 1255.6,1767.8 1256.4,1769.4 1257.3,1768.0 1258.3,1770.8 1259.1,1769.3 1260.1,1769.2 1261.2,1770.0 1262.1,1767.6 1262.9,1767.8 1263.9,1775.0 1265.0,1772.8 1266.0,1771.4 1266.8,1772.2 1267.6,1775.3 1268.6,1766.4 1269.7,1774.8 1270.6,1777.5 1271.5,1774.5 1272.6,1766.1 1273.4,1770.3 1274.4,1773.7 1275.4,1764.8 1276.3,1769.0 1277.1,1765.8 1278.0,1775.1 1278.8,1779.0 1279.5,1769.0 1280.6,1767.7 1281.7,1772.7 1282.8,1769.6 1283.8,1776.7 1284.6,1771.6 1285.3,1769.6 1286.3,1776.7 1287.3,1771.7 1288.3,1774.1 1289.2,1779.1 1290.1,1773.8 1290.9,1775.1 1291.7,1772.0 1292.4,1771.8 1293.5,1770.2 1294.5,1775.1 1295.6,1776.2 1296.4,1771.6 1297.3,1778.0 1298.4,1773.8 1299.2,1772.6 1299.9,1767.6 1300.7,1768.8 1301.7,1766.7 1302.7,1769.3 1303.5,1761.5 1304.6,1772.5 1305.4,1768.4 1306.3,1764.3 1307.4,1769.9 1308.2,1764.9 1309.2,1766.6 1309.9,1771.3 1310.7,1760.4 1311.7,1763.3 1312.7,1770.9 1313.6,1766.9 1314.7,1769.7 1315.7,1772.9 1316.7,1768.4 1317.7,1765.3 1318.7,1764.7 1319.7,1764.1 1320.7,1763.7 1321.6,1763.2 1322.6,1768.8 1323.5,1767.0 1324.5,1764.0 1325.5,1767.8 1326.4,1767.4 1327.4,1761.6 1328.4,1762.0 1329.5,1768.7 1330.4,1766.2 1331.4,1768.1 1332.1,1765.2 1332.9,1756.6 1333.7,1766.3 1334.6,1764.4 1335.4,1760.4 1336.2,1765.4 1337.0,1763.9 1338.1,1771.5 1339.0,1765.0 1340.1,1767.1 1341.2,1764.0 1342.0,1765.2 1343.0,1762.6 1344.1,1764.8 1345.0,1759.8 1345.8,1761.5 1346.8,1758.2 1347.6,1758.6 1348.5,1755.1 1349.3,1764.4 1350.1,1756.1 1350.9,1758.9 1352.0,1757.3 1353.0,1761.5 1353.9,1760.6 1354.7,1760.9 1355.8,1761.5 1356.9,1761.4 1357.7,1765.9 1358.7,1762.7 1359.6,1756.6 1360.6,1760.1 1361.5,1759.5 1362.5,1762.6 1363.5,1765.0 1364.5,1759.6 1365.5,1761.9 1366.4,1749.6 1367.2,1759.8 1367.9,1754.6 1368.9,1759.2 1370.0,1753.5 1370.7,1754.1 1371.7,1757.6 1372.4,1757.9 1373.4,1762.4 1374.4,1764.7 1375.4,1763.1 1376.2,1758.4 1377.0,1769.6 1378.0,1760.9 1379.0,1762.8 1379.7,1759.7 1380.7,1760.7 1381.6,1758.6 1382.4,1755.6 1383.3,1756.9 1384.2,1759.3 1385.2,1756.7 1386.0,1762.6 1386.7,1758.6 1387.6,1764.7 1388.7,1761.0 1389.7,1758.4 1390.6,1753.8 1391.6,1759.8 1392.7,1753.3 1393.7,1760.4 1394.4,1756.1 1395.2,1763.3 1396.3,1758.1 1397.4,1759.0 1398.3,1756.7 1399.2,1762.8 1400.1,1758.8 1401.0,1769.9 1401.8,1754.0 1402.9,1757.1 1403.8,1759.3 1404.6,1758.6 1405.4,1755.4 1406.3,1761.6 1407.4,1761.6 1408.6,1758.0 1409.6,1760.7 1410.5,1760.5 1411.6,1756.0 1412.5,1761.2 1413.3,1763.6 1414.2,1760.7 1415.0,1755.9 1415.9,1755.9 1416.9,1764.6 1417.7,1755.0 1418.4,1763.5 1419.4,1752.4 1420.4,1752.7 1421.2,1763.7 1422.2,1760.0 1423.0,1752.9 1423.9,1759.0 1424.8,1758.7 1425.6,1760.3 1426.5,1768.4 1427.5,1750.8 1428.3,1761.2 1429.4,1758.7 1430.4,1759.5 1431.4,1760.0 1432.3,1759.1 1433.0,1763.2 1434.0,1757.4 1435.0,1757.1 1436.1,1757.9 1437.1,1759.3 1437.9,1761.1 1439.0,1762.1 1439.7,1757.0 1440.8,1761.4 1441.7,1760.7 1442.4,1763.8 1443.3,1759.1 1444.0,1763.3 1444.9,1757.9 1446.0,1762.6 1447.1,1760.9 1447.9,1758.7 1448.8,1762.5 1449.6,1759.6 1450.6,1758.1 1451.5,1760.3 1452.4,1759.6 1453.2,1762.3 1454.0,1760.8 1455.0,1761.1 1456.1,1762.3 1457.0,1763.0 1457.9,1768.5 1458.9,1767.0 1459.6,1768.7 1460.6,1758.8 1461.6,1764.4 1462.7,1759.5 1463.7,1759.0 1464.7,1761.3 1465.7,1763.9 1466.4,1762.3 1467.2,1759.4 1468.2,1764.4 1469.1,1766.9 1469.9,1764.7 1470.9,1762.0 1471.7,1762.5 1472.4,1758.3 1473.3,1770.8 1474.4,1765.9 1475.5,1763.3 1476.2,1769.0 1477.3,1770.5 1478.2,1768.5 1479.2,1763.9 1480.1,1763.7 1481.0,1767.5 1482.1,1762.1 1483.1,1761.0 1483.9,1764.6 1484.8,1769.4 1485.9,1765.3 1486.6,1761.9 1487.5,1763.6 1488.2,1762.0 1489.3,1766.8 1490.3,1766.1 1491.1,1762.4 1492.2,1771.8 1493.2,1765.5 1494.3,1766.1 1495.3,1765.8 1496.1,1764.2 1497.2,1764.1 1498.2,1768.6 1499.2,1767.1 1499.9,1765.8 1500.9,1767.9 1502.0,1764.3 1502.7,1764.1 1503.5,1766.0 1504.3,1757.5 1505.1,1772.8 1506.0,1765.9 1506.9,1770.4 1507.9,1767.7 1508.8,1772.7 1509.6,1772.2 1510.4,1772.6 1511.2,1768.8 1512.1,1771.6 1513.0,1769.7 1513.9,1775.8 1514.9,1779.5 1515.9,1773.0 1516.7,1772.6 1517.7,1772.2 1518.6,1770.6 1519.3,1767.8 1520.4,1767.8 1521.2,1769.4 1522.1,1765.8 1523.1,1766.4 1524.0,1763.5 1524.9,1772.2 1525.8,1773.7 1526.7,1763.4 1527.6,1765.8 1528.5,1768.1 1529.6,1769.3 1530.6,1770.1 1531.4,1770.0 1532.2,1764.5 1532.9,1766.7 1533.6,1771.2 1534.8,1768.1 1535.9,1768.9 1536.6,1771.6 1537.7,1764.3 1538.8,1767.2 1539.6,1775.8 1540.7,1765.4 1541.7,1764.3 1542.6,1765.1 1543.6,1767.9 1544.5,1767.7 1545.3,1771.3 1546.3,1770.5 1547.1,1765.6 1547.9,1767.1 1548.6,1769.9 1549.6,1760.9 1550.5,1765.4 1551.6,1768.9 1552.4,1767.6 1553.5,1761.5 1554.6,1763.7 1555.7,1769.2 1556.7,1769.7 1557.6,1754.8 1558.4,1766.6 1559.3,1770.8 1560.2,1768.3 1561.1,1764.7 1562.1,1767.7 1563.0,1767.1 1563.9,1771.5 1564.7,1770.0 1565.5,1769.0 1566.3,1768.1 1567.2,1768.8 1568.3,1764.4 1569.4,1765.8 1570.1,1763.5 1571.1,1759.1 1571.9,1766.2 1573.0,1767.5 1573.9,1768.9 1574.9,1762.8 1575.8,1772.2 1576.8,1764.2 1577.6,1766.3 1578.4,1769.7 1579.4,1764.6 1580.4,1763.9 1581.1,1772.2 1582.1,1770.2 1582.8,1768.1 1583.8,1766.0 1584.7,1770.2 1585.8,1772.0 1586.6,1763.3 1587.6,1767.0 1588.7,1775.0 1589.6,1768.2 1590.6,1762.9 1591.5,1766.4 1592.3,1768.6 1593.3,1764.0 1594.3,1767.2 1595.1,1764.9 1596.1,1770.0 1597.2,1767.4 1598.0,1767.2 1599.0,1772.0 1600.0,1774.1 1600.8,1765.4 1601.8,1764.3 1602.8,1770.6 1603.8,1766.4 1604.8,1764.9 1605.9,1766.5 1607.0,1770.7 1608.0,1759.8 1609.0,1767.9 1609.8,1768.2 1610.5,1769.2 1611.5,1767.4 1612.3,1762.0 1613.0,1764.2 1614.0,1757.8 1614.8,1761.5 1615.7,1768.7 1616.7,1766.1 1617.5,1759.5 1618.3,1762.0 1619.2,1762.4 1620.2,1760.1 1621.1,1761.6 1622.1,1755.2 1623.0,1764.5 1623.9,1764.4 1624.6,1759.6 1625.6,1763.5 1626.6,1762.6 1627.4,1758.7 1628.3,1761.3 1629.2,1764.9 1630.3,1766.9 1631.3,1770.1 1632.2,1760.2 1633.0,1762.2 1634.0,1767.3 1635.1,1764.0 1636.0,1764.1 1636.7,1767.8 1637.5,1763.6 1638.4,1765.8 1639.3,1768.3 M1640.0,1768.3 1640.8,1769.2 1641.8,1770.9 1642.6,1767.0 1643.4,1774.3 1644.2,1770.7 1645.1,1776.6 1646.0,1772.4 1647.0,1779.5 1647.8,1775.5 1648.8,1774.8 1649.7,1770.8 1650.4,1764.0 1651.5,1768.7 1652.2,1772.2 1653.2,1770.4 1654.2,1775.8 1655.2,1770.5 1656.2,1781.6 1657.2,1770.2 1658.0,1777.3 1658.8,1776.8 1659.6,1776.3 1660.3,1777.7 1661.3,1779.0 1662.2,1774.8 1663.2,1764.0 1663.9,1777.3 1664.7,1770.3 1665.6,1784.3 1666.6,1774.0 1667.6,1763.5 1668.5,1775.9 1669.4,1784.3 1670.3,1771.9 1671.2,1769.3 1672.0,1774.8 1672.8,1774.6 1673.7,1774.7 1674.8,1776.6 1676.0,1772.8 1676.8,1761.7 1677.7,1767.3 1678.8,1767.5 1679.8,1776.9 1680.8,1772.9 1681.5,1770.4 1682.5,1777.9 1683.4,1771.7 1684.3,1763.3 1685.3,1767.0 1686.2,1770.3 1687.2,1765.9 1688.2,1769.6 1689.1,1772.5 1690.2,1770.8 1690.9,1786.1 1691.7,1775.5 1692.7,1768.9 1693.5,1775.0 1694.3,1783.0 1695.1,1780.8 1695.9,1775.1 1696.9,1779.7 1697.8,1767.8 1698.5,1786.6 1699.6,1782.8 1700.7,1780.8 1701.4,1775.5 1702.4,1772.1 1703.5,1772.8 1704.2,1779.9 1705.3,1777.6 1706.1,1768.5 1706.9,1770.5 1707.7,1778.4 1708.6,1773.4 1709.5,1773.6 1710.6,1768.1 1711.5,1780.5 1712.2,1783.2 1713.3,1778.5 1714.4,1787.3 1715.4,1783.9 1716.4,1779.6 1717.5,1786.5 1718.3,1783.0 1719.4,1787.8 1720.3,1784.0 1721.3,1777.2 1722.4,1782.0 1723.5,1776.3 1724.4,1773.4 1725.5,1776.5 1726.4,1776.9 1727.4,1773.8 1728.3,1780.9 1729.2,1779.0 1730.3,1772.6 1731.2,1771.8 1732.4,1770.2 1733.4,1779.7 1734.5,1782.7 1735.2,1777.8 1736.1,1771.0 1737.1,1777.9 1737.9,1775.0 1738.9,1773.2 1739.9,1774.9 1740.8,1776.0 1741.6,1778.8 1742.7,1781.7 1743.8,1778.3 1744.7,1777.6 1745.5,1781.0 1746.5,1783.3 1747.3,1772.5 1748.4,1778.1 1749.2,1776.3 1750.0,1774.7 1750.9,1772.9 1751.8,1774.2 1752.7,1780.5 1753.6,1770.7 1754.6,1767.7 1755.5,1770.0 1756.2,1775.0 1757.0,1771.1 1757.8,1767.9 1758.6,1769.2 1759.5,1773.0 1760.5,1771.4 1761.4,1770.8 1762.5,1765.9 1763.5,1770.5 1764.6,1760.2 1765.5,1764.4 1766.4,1771.1 1767.1,1768.6 1768.1,1767.3 1769.2,1778.7 1770.2,1787.1 1771.2,1794.1 1772.2,1798.2 1773.2,1805.9 1774.2,1802.5 1775.3,1808.9 1776.2,1816.1 1777.2,1810.5 1778.1,1801.2 1779.1,1782.0 1780.1,1774.7 1781.0,1777.2 1781.8,1769.8 1782.6,1771.0 1783.3,1771.3 1784.0,1775.2 1785.1,1759.2 1786.2,1773.3 1787.1,1768.1 1787.8,1770.5 1788.7,1775.3 1789.7,1780.8 M1790.0,1784.4 1790.9,1797.4 1791.9,1813.2 1792.8,1815.9 1793.6,1817.7 1794.6,1816.3 1795.7,1815.8 1796.4,1812.0 1797.2,1814.5 1797.9,1803.6 1799.1,1803.5 1799.8,1790.5 1800.9,1786.9 1801.9,1785.1 1802.8,1779.2 1803.8,1777.7 1804.7,1769.5 1805.7,1757.4 1806.7,1752.6 1807.6,1755.4 1808.6,1760.8 1809.4,1758.9 1810.1,1759.1 1811.1,1759.9 1812.1,1761.7 1813.0,1755.0 1814.0,1757.0 1814.9,1752.4 1815.8,1754.6 1816.8,1752.6 1817.6,1748.2 1818.5,1729.9 1819.3,1725.3 1820.0,1749.9 1821.1,1742.0 1822.1,1740.3 1822.9,1742.0 1824.1,1749.6 1825.0,1754.4 1826.0,1761.9 1827.1,1785.3 1828.0,1797.4 1828.8,1807.3 1829.6,1820.9 1830.6,1831.7 1831.7,1826.3 1832.6,1806.5 1833.4,1797.7 1834.2,1797.3 1835.1,1783.2 1835.9,1777.7 1836.8,1775.3 1837.5,1770.6 1838.3,1764.7 1839.2,1764.2 1840.2,1761.4 1841.0,1760.8 1842.0,1757.1 1842.8,1753.1 1843.5,1757.2 1844.7,1751.7 1845.4,1748.9 1846.4,1742.8 1847.2,1740.6 1848.3,1738.8 1849.2,1738.4 1849.9,1739.2 1850.9,1743.0 1851.8,1747.3 1852.7,1750.7 1853.6,1746.0 1854.5,1752.2 1855.4,1748.9 1856.1,1742.5 1856.9,1743.2 1858.0,1743.3 1859.0,1742.6 1860.0,1739.7 1860.9,1751.6 1861.9,1743.4 1862.7,1748.6 1863.8,1746.4 1864.8,1745.1 1865.5,1746.5 1866.5,1743.1 1867.5,1741.0 1868.5,1740.7 1869.4,1742.6 1870.1,1743.6 1871.1,1743.7 1872.0,1749.2 1872.7,1752.8 1873.8,1753.6 1874.8,1759.8 1875.5,1759.5 1876.6,1762.8 1877.6,1760.8 1878.4,1759.1 1879.2,1762.3 1879.9,1764.4 1880.8,1763.3 1881.6,1765.7 1882.5,1766.7 1883.3,1771.1 1884.2,1774.3 1885.1,1776.7 1885.9,1778.4 1886.6,1783.5 1887.6,1787.2 1888.6,1793.4 1889.4,1803.2 1890.4,1807.7 1891.2,1800.2 1891.9,1807.2 1892.7,1806.6 1893.8,1798.3 1894.7,1795.8 1895.8,1796.6 1896.5,1801.8 1897.4,1810.6 1898.5,1813.4 1899.6,1816.1 1900.7,1814.2 1901.4,1815.9 1902.2,1810.3 1903.3,1802.4 1904.2,1799.6 1905.2,1799.1 1906.0,1798.1 1906.9,1804.1 1907.8,1806.0 1908.6,1804.4 1909.4,1807.1 1910.3,1808.2 1911.4,1814.4 1912.4,1820.8 1913.3,1824.8 1914.2,1831.2 1915.3,1840.4 1916.4,1848.9 1917.5,1857.8 1918.3,1862.5 1919.4,1868.2 1920.5,1871.0 1921.4,1865.4 1922.4,1854.0 1923.4,1848.0 1924.5,1837.6 1925.5,1826.6 1926.4,1815.9 1927.5,1813.9 1928.3,1823.9 1929.4,1838.0 1930.4,1851.1 1931.4,1852.9 1932.5,1843.2 1933.6,1830.8 1934.5,1822.2 1935.4,1815.5 1936.5,1807.4 1937.2,1807.0 1938.2,1813.6 1939.0,1831.5 1940.0,1844.4 1941.0,1848.7 1941.8,1845.4 1942.5,1847.1 1943.4,1836.1 1944.5,1833.1 1945.5,1827.1 1946.7,1823.5 1947.4,1819.1 1948.2,1815.5 1949.2,1809.5 1950.3,1797.5 1951.2,1786.3 1952.0,1777.7 1952.9,1765.4 1954.0,1760.0 1955.1,1753.2 1955.9,1750.2 1957.0,1748.8 1958.1,1740.6 1958.8,1742.1 1959.6,1736.1 1960.6,1731.8 1961.4,1722.6 1962.2,1717.4 1963.0,1707.2 1964.1,1694.4 1965.0,1680.8 1965.9,1674.9 1967.0,1673.3 1968.1,1658.8 1968.8,1658.5 1969.9,1646.6 1970.9,1643.2 1971.8,1644.4 1972.9,1633.9 1973.8,1629.1 1974.7,1623.4 1975.6,1616.5 1976.6,1614.0 1977.6,1599.9 1978.6,1598.7 1979.7,1592.4 1980.8,1581.4 1981.7,1575.6 1982.7,1568.8 1983.7,1568.5 1984.7,1567.8 1985.7,1567.8 1986.4,1565.8 1987.5,1571.3 1988.5,1580.2 1989.2,1584.6 1990.0,1589.2 1990.9,1584.2 1991.8,1581.0 1992.7,1572.1 1993.5,1571.9 1994.3,1569.1 1995.1,1572.4 1995.9,1570.2 1996.7,1572.1 1997.6,1571.1 1998.6,1575.1 1999.4,1573.8 2000.2,1575.3 2000.9,1583.5 2002.0,1585.2 2003.0,1586.8 2003.9,1591.8 2004.7,1594.2 2005.7,1589.5 2006.7,1588.7 2007.7,1588.2 2008.7,1589.2 2009.6,1589.0 2010.6,1578.2 2011.5,1572.1 2012.6,1560.0 2013.6,1554.0 2014.4,1556.9 2015.5,1572.6 2016.3,1585.3 2017.4,1608.2 2018.2,1619.9 2019.3,1595.5 2020.3,1581.0 2021.1,1566.9 2022.0,1556.4 2023.1,1545.6 2024.1,1540.4 2024.9,1541.5 2025.7,1536.5 2026.5,1530.4 2027.6,1527.8 2028.7,1522.8 2029.7,1523.9 2030.5,1523.3 2031.3,1522.8 2032.2,1527.9 2033.0,1529.0 2034.0,1533.4 2034.8,1538.3 2035.7,1542.4 2036.8,1564.9 2037.7,1566.5 2038.7,1576.8 2039.5,1583.5 2040.4,1593.4 2041.1,1597.6 2042.1,1605.0 2043.2,1613.8 2044.1,1621.7 2044.8,1626.4 2045.9,1639.6 2046.8,1648.2 2047.9,1666.0 2048.9,1675.7 2049.9,1682.3 2050.7,1680.7 2051.5,1683.6 2052.3,1685.1 2053.1,1690.4 2054.2,1688.8 2055.1,1698.2 2055.9,1697.0 2056.7,1703.9 2057.5,1704.9 2058.4,1709.8 2059.4,1711.4 2060.5,1712.3 2061.3,1707.0 2062.1,1708.4 2063.1,1706.0 2063.8,1704.1 2064.8,1709.6 2065.6,1709.4 2066.7,1715.6 2067.6,1719.7 2068.5,1726.0 2069.3,1736.4 2070.1,1747.8 2070.9,1757.7 2072.0,1767.7 2073.0,1766.5 2074.1,1750.4 2074.9,1745.5 2075.9,1732.8 2076.8,1734.1 2077.6,1731.3 2078.4,1733.2 2079.5,1729.5 2080.5,1723.3 2081.4,1723.7 2082.4,1718.9 2083.2,1720.8 2084.2,1719.9 2085.0,1717.4 2086.0,1721.1 2087.0,1725.7 2087.9,1727.4 2088.8,1729.3 2089.5,1729.2 2090.5,1724.5 2091.5,1717.2 2092.4,1713.4 2093.5,1709.1 2094.4,1711.5 2095.3,1716.2 2096.4,1726.8 2097.2,1733.4 2098.3,1749.5 2099.1,1753.6 2099.9,1758.1 2100.7,1763.0 2101.4,1765.4 2102.4,1760.4 2103.3,1754.9 2104.2,1750.6 2105.3,1743.4 2106.1,1741.2 2107.0,1741.3 2107.8,1740.0 2108.7,1739.4 2109.6,1745.2 2110.4,1748.1 2111.4,1757.5 2112.3,1759.6 2113.2,1762.6 2113.9,1768.3 2114.9,1772.0 2115.8,1776.8 2116.6,1781.2 2117.7,1787.9 2118.6,1796.7 2119.5,1796.3 2120.5,1796.0 2121.3,1793.9 2122.3,1788.1 2123.4,1784.4 2124.3,1773.6 2125.2,1776.7 2126.3,1776.4 2127.4,1771.7 2128.4,1770.7 2129.2,1768.8 2130.2,1771.2 2131.2,1776.9 2132.3,1783.7 2133.1,1786.7 2134.0,1793.7 2134.8,1788.8 2135.9,1780.5 2136.8,1774.0 2137.7,1771.7 2138.6,1770.8 2139.6,1794.0 2140.5,1789.6 2141.6,1782.4 2142.4,1780.0 2143.4,1776.3 2144.5,1764.8 2145.6,1757.0 2146.6,1755.8 2147.5,1754.3 2148.3,1752.1 2149.3,1747.7 2150.4,1743.2 2151.2,1745.4 2152.0,1750.3 2152.8,1760.8 2153.8,1770.5 2154.6,1769.4 2155.7,1758.9 2156.5,1760.2 2157.5,1779.2 2158.6,1812.4 2159.4,1820.0 2160.5,1789.1" fill="none" stroke="#966a2c" stroke-width="2.00" stroke-linejoin="round" stroke-linecap="round"/>
<path d="M1166.8,2307.6 1194.5,2306.1 1220.2,2305.4 1231.5,2304.9 1239.8,2304.4 1246.2,2303.8 1251.1,2303.0 1252.1,2302.6 1253.5,2301.5 1257.9,2296.6 1259.3,2295.6 1260.3,2295.4 1261.8,2295.7 1263.2,2296.7 1264.7,2298.1 1268.6,2302.3 1270.1,2303.6 1271.1,2304.2 1272.0,2304.5 1273.5,2304.5 1275.5,2304.3 1277.9,2303.8 1282.8,2302.2 1286.3,2300.8 1288.7,2299.0 1294.1,2294.2 1295.6,2293.1 1297.0,2292.3 1301.0,2290.9 1310.9,2288.3 1313.4,2287.3 1316.3,2285.8 1320.3,2283.4 1328.7,2277.9 1341.5,2268.7 1347.9,2265.0 1353.4,2262.2 1359.8,2259.6 1367.7,2257.1 1380.5,2253.8 1383.4,2253.2 1385.9,2253.1 1410.4,2253.1 1412.4,2253.3 1415.3,2254.2 1422.3,2257.5 1425.2,2258.5 1429.2,2259.2 1439.6,2260.4 1444.6,2261.2 1448.0,2262.1 1456.0,2265.2 1459.4,2266.3 1474.7,2269.3 1483.7,2271.4 1490.1,2273.0 1495.1,2274.7 1504.0,2279.1 1506.0,2279.7 1507.4,2280.0 1509.4,2280.0 1511.8,2279.8 1518.6,2278.3 1522.1,2277.0 1529.5,2273.5 1532.4,2272.5 1541.3,2270.7 1544.7,2270.3 1547.2,2270.3 1548.7,2270.7 1550.1,2271.6 1555.0,2275.6 1557.0,2276.8 1562.4,2278.5 1568.8,2280.0 1575.2,2281.0 1587.2,2282.0 1591.6,2282.6 1595.1,2283.4 1604.1,2286.0 1606.5,2286.5 1609.0,2286.8 1610.0,2286.7 1611.5,2286.1 1612.9,2284.9 1615.8,2282.1 1617.7,2280.8 1618.7,2280.7 1620.2,2280.7 1625.6,2281.2 1635.0,2282.7 1640.0,2283.8 1652.4,2287.7 1658.6,2290.1 1665.8,2292.4 1668.7,2293.1 1671.6,2293.4 1674.5,2293.3 1677.4,2292.7 1679.8,2291.7 1681.7,2290.5 1682.2,2287.4 1682.7,2281.9 1683.2,2278.9 1683.7,2281.7 1684.2,2287.1 1684.6,2290.5 1685.1,2291.3 1686.6,2293.2 1688.0,2294.4 1689.5,2295.2 1695.3,2297.9 1710.3,2303.0 1715.6,2304.6 1718.0,2305.0 1718.5,2302.0 1719.0,2296.4 1719.4,2293.4 1719.9,2296.8 1720.9,2307.9 1722.3,2311.9 1723.3,2313.7 1724.3,2314.8 1725.2,2315.2 1725.7,2315.0 1726.7,2314.1 1728.1,2311.6 1731.5,2303.9 1734.5,2295.3 1735.5,2293.7 1736.0,2293.4 1736.4,2294.2 1736.9,2296.1 1738.8,2308.1 1739.3,2310.1 1739.7,2310.8 1740.2,2310.8 1741.7,2309.9 1745.0,2306.3 1746.5,2305.2 1748.9,2304.7 1756.2,2304.0 1759.1,2303.5 1760.5,2302.9 1762.0,2302.2 1763.4,2301.2 1765.3,2299.7 1766.3,2298.7 1767.8,2296.3 1772.1,2286.6 1774.5,2280.5 1775.5,2279.1 1776.0,2278.9 1776.5,2279.3 1776.9,2280.4 1779.4,2289.1 1779.8,2290.1 1780.3,2290.5 1781.3,2290.2 1782.3,2289.3 1785.2,2285.2 1786.1,2284.0 1787.1,2283.4 1788.1,2283.3 1791.4,2283.7 1794.8,2284.7 1795.3,2285.0 1796.3,2286.1 1798.7,2290.2 1799.7,2291.5 1800.1,2291.8 1800.6,2292.0 1801.6,2291.9 1802.6,2291.5 1804.5,2290.0 1806.4,2287.6 1806.9,2285.7 1808.8,2270.1 1809.3,2268.8 1809.8,2270.6 1810.3,2275.2 1811.7,2291.6 1812.2,2293.4 1812.7,2292.0 1813.2,2288.5 1814.6,2276.0 1815.1,2274.6 1817.0,2274.8 1820.9,2275.9 1822.4,2276.0 1823.3,2276.0 1824.8,2275.6 1825.7,2275.1 1827.2,2274.1 1828.2,2273.1 1828.6,2271.0 1830.0,2257.5 1830.5,2255.7 1830.9,2258.3 1832.1,2280.1 1832.5,2284.7 1834.4,2295.1 1835.4,2298.6 1836.4,2300.4 1836.9,2300.7 1837.3,2300.3 1837.8,2299.4 1840.7,2288.8 1841.7,2286.7 1843.6,2283.5 1850.4,2274.1 1852.3,2272.0 1854.7,2270.5 1857.6,2269.2 1860.1,2268.8 1860.5,2268.8 1861.5,2269.3 1864.9,2272.5 1865.9,2273.1 1867.8,2273.9 1872.6,2275.2 1874.1,2275.8 1875.0,2276.4 1876.5,2278.0 1878.9,2281.8 1879.9,2283.9 1881.8,2288.8 1882.8,2290.3 1883.2,2290.5 1883.7,2286.4 1884.2,2278.7 1884.7,2274.6 1885.2,2275.0 1886.1,2278.1 1888.6,2289.2 1889.0,2290.5 1890.5,2292.9 1891.9,2294.7 1897.7,2301.0 1900.2,2303.2 1903.1,2305.2 1904.5,2306.0 1906.0,2306.4 1906.9,2306.4 1907.4,2306.2 1908.4,2305.5 1909.8,2303.6 1911.8,2300.2 1912.7,2297.9 1913.7,2293.4 1916.1,2280.5 1916.6,2278.9 1917.6,2276.8 1919.0,2274.3 1920.9,2271.7 1922.4,2270.2 1925.3,2267.8 1926.7,2265.9 1927.2,2264.9 1928.2,2261.7 1930.6,2251.5 1933.0,2243.9 1933.5,2243.0 1934.0,2242.7 1934.9,2243.1 1937.3,2245.5 1937.8,2245.6 1938.2,2244.7 1938.7,2242.3 1940.7,2229.6 1943.1,2220.8 1944.1,2218.0 1945.6,2214.7 1953.3,2200.1 1954.2,2197.8 1955.2,2194.8 1955.7,2192.6 1956.6,2185.7 1958.6,2168.8 1962.5,2138.5 1963.5,2128.9 1965.9,2099.2 1968.8,2067.3 1971.1,2046.6 1975.7,2011.4 1976.6,2006.4 1978.0,2000.6 1984.7,1979.9 1988.6,1969.7 1989.6,1967.9 1990.0,1967.4 1990.5,1967.2 1991.0,1968.3 1991.5,1971.2 1993.4,1989.0 1996.8,2015.7 2005.0,2070.2 2007.9,2091.8 2008.9,2097.3 2009.4,2099.2 2010.8,2103.4 2011.8,2105.7 2012.8,2107.3 2013.2,2107.7 2013.7,2107.9 2014.7,2107.8 2019.6,2106.4 2020.1,2106.4 2020.6,2107.1 2021.0,2108.9 2022.4,2116.6 2023.8,2125.1 2024.3,2127.3 2024.7,2128.2 2025.2,2128.0 2025.7,2127.5 2028.7,2121.9 2029.7,2120.9 2032.6,2119.9 2035.5,2119.5 2035.9,2119.7 2036.9,2121.4 2037.9,2124.3 2040.8,2134.4 2043.2,2144.1 2045.1,2153.2 2048.0,2169.2 2050.4,2181.2 2054.7,2200.3 2055.7,2203.7 2056.2,2204.6 2056.6,2205.0 2057.1,2204.9 2058.1,2204.4 2060.6,2202.4 2061.6,2202.1 2062.5,2202.6 2064.5,2204.9 2065.4,2205.7 2065.9,2205.9 2071.7,2205.9 2072.2,2206.4 2072.7,2207.8 2073.7,2212.4 2075.7,2224.1 2078.1,2246.3 2079.1,2252.0 2079.5,2252.8 2080.0,2252.8 2082.4,2251.6 2083.3,2251.4 2084.3,2251.6 2085.2,2252.3 2086.7,2254.0 2089.6,2257.9 2093.0,2265.2 2093.9,2266.7 2094.4,2267.2 2095.4,2267.3 2099.7,2266.0 2100.7,2265.9 2101.2,2266.1 2102.1,2267.5 2104.6,2273.4 2105.5,2275.3 2106.0,2275.8 2106.5,2276.0 2107.0,2276.0 2107.9,2275.7 2108.9,2274.9 2109.9,2273.6 2110.8,2271.7 2111.7,2248.5 2112.9,2273.1 2116.6,2273.1 2117.1,2273.5 2117.6,2274.5 2118.6,2278.0 2120.0,2284.3 2121.0,2287.6 2122.0,2289.7 2124.4,2293.8 2125.3,2296.3 2126.3,2302.0 2126.8,2303.6 2127.3,2303.3 2128.2,2301.5 2130.2,2295.7 2131.1,2293.4 2133.6,2289.2 2134.5,2288.1 2135.0,2287.7 2135.5,2287.6 2136.0,2287.9 2136.5,2288.5 2138.9,2294.0 2139.4,2294.6 2139.8,2294.9 2140.3,2294.1 2140.8,2292.2 2142.3,2285.5 2142.7,2284.7 2143.2,2285.2 2143.7,2286.4 2146.1,2296.1 2146.6,2297.3 2147.1,2297.8 2147.6,2297.7 2148.5,2297.1 2151.4,2294.1 2152.4,2293.5 2152.9,2293.4 2153.9,2293.6 2154.8,2294.2 2158.7,2297.8" fill="none" stroke="#652c78" stroke-width="3.30" stroke-linejoin="round" stroke-linecap="round"/>
<path d="M1166.8,2307.6 1167.7,2307.3 1168.7,2307.0 1169.6,2306.4 1170.7,2308.1 1171.6,2307.3 1172.5,2306.1 1173.5,2305.0 1174.5,2313.3 1175.2,2303.1 1176.3,2303.2 1177.3,2306.1 1178.2,2305.8 1179.3,2305.2 1180.1,2308.8 1180.8,2307.2 1181.6,2302.6 1182.4,2310.5 1183.4,2300.5 1184.3,2309.0 1185.2,2306.0 1186.2,2305.4 1187.1,2303.5 1187.9,2301.7 1188.7,2310.4 1189.5,2309.2 1190.3,2308.7 1191.3,2305.0 1192.2,2303.5 1193.2,2306.5 1193.9,2304.1 1195.0,2305.6 1195.7,2310.4 1196.6,2305.3 1197.5,2307.9 1198.5,2308.6 1199.6,2306.8 1200.4,2300.7 1201.3,2304.6 1202.3,2308.4 1203.1,2307.5 1204.0,2303.7 1204.9,2308.1 1205.7,2302.9 1206.7,2312.1 1207.7,2304.2 1208.7,2307.0 1209.4,2305.0 1210.2,2313.4 1211.1,2311.0 1212.1,2303.2 1213.1,2305.3 1213.9,2303.3 1214.9,2303.2 1216.0,2305.0 1216.7,2304.8 1217.6,2301.7 1218.4,2306.5 1219.3,2303.6 1220.2,2305.3 1221.1,2302.9 1222.1,2306.2 1223.1,2301.9 1224.3,2307.6 1225.0,2313.2 1225.8,2301.6 1226.6,2303.8 1227.6,2304.1 1228.3,2304.3 1229.3,2304.7 1230.4,2306.0 1231.2,2302.0 1232.0,2307.6 1233.1,2303.6 1234.1,2304.3 1235.2,2304.4 1236.1,2304.9 1237.0,2303.5 1238.0,2300.5 1238.9,2303.5 1239.6,2306.7 1240.5,2303.2 1241.5,2302.8 1242.6,2306.1 1243.5,2301.5 1244.3,2305.9 1245.4,2306.3 1246.3,2302.0 1247.5,2304.1 1248.4,2306.5 1249.2,2304.7 1250.0,2301.3 1250.9,2305.1 1252.0,2306.4 1252.8,2302.9 1253.5,2300.2 1254.5,2302.7 1255.4,2298.9 1256.3,2297.7 1257.1,2294.5 1258.0,2294.7 1259.0,2296.0 1259.9,2295.8 1260.6,2298.1 1261.6,2295.5 1262.6,2297.1 1263.3,2296.3 1264.2,2297.9 1265.0,2300.4 1266.0,2296.4 1267.1,2300.7 1268.0,2303.5 1269.0,2297.3 1270.0,2303.6 1271.0,2307.3 1271.8,2305.9 1272.5,2306.3 1273.5,2307.7 1274.3,2298.9 1275.3,2305.8 1276.1,2304.5 1277.2,2304.2 1278.3,2301.8 1279.1,2308.4 1280.1,2300.7 1281.1,2304.0 1282.1,2300.9 1283.1,2301.8 1284.2,2299.3 1285.0,2303.9 1285.8,2300.6 1286.7,2300.1 1287.8,2300.0 1288.5,2297.0 1289.4,2296.5 1290.4,2297.9 1291.3,2299.5 1292.3,2294.9 1293.4,2296.5 1294.5,2295.7 1295.4,2293.9 1296.4,2288.6 1297.5,2294.4 1298.6,2290.6 1299.6,2292.1 1300.5,2291.5 1301.5,2291.0 1302.3,2288.2 1303.1,2291.6 1304.1,2292.0 1305.1,2285.4 1306.1,2293.5 1307.1,2288.3 1308.0,2288.4 1308.8,2290.3 1309.7,2288.7 1310.6,2287.2 1311.4,2292.1 1312.5,2288.2 1313.4,2286.8 1314.1,2288.2 1315.1,2284.4 1315.8,2290.4 1316.9,2286.1 1318.0,2284.9 1318.9,2285.1 1319.9,2283.0 1320.8,2281.2 1321.7,2280.6 1322.8,2282.2 1323.5,2278.1 1324.4,2279.8 1325.2,2279.6 1326.1,2283.0 1326.9,2279.5 1327.8,2274.2 1328.7,2276.4 1329.6,2279.2 1330.3,2274.8 1331.2,2273.2 1332.1,2275.6 1333.2,2272.5 1334.1,2273.7 1335.1,2273.9 1336.2,2271.6 1337.1,2271.9 1337.9,2274.2 1338.6,2270.3 1339.4,2267.8 1340.5,2269.6 1341.6,2270.2 1342.5,2265.9 1343.4,2271.3 1344.6,2266.4 1345.4,2265.6 1346.4,2264.7 1347.3,2265.7 1348.3,2267.2 1349.2,2263.4 1350.2,2260.0 1351.3,2262.9 1352.1,2260.1 1353.0,2259.3 1354.1,2261.1 1355.2,2262.9 1356.2,2259.5 1357.3,2262.4 1358.2,2263.9 1359.1,2258.8 1360.1,2259.4 1360.9,2258.0 1362.0,2255.1 1363.1,2255.6 1364.1,2254.7 1365.1,2256.7 1366.1,2253.6 1367.0,2258.1 1367.8,2257.4 1368.9,2260.1 1370.0,2257.7 1370.7,2251.9 1371.6,2257.8 1372.6,2253.8 1373.5,2258.0 1374.3,2257.3 1375.4,2255.0 1376.2,2253.0 1377.1,2256.5 1378.0,2254.5 1379.0,2254.3 1380.1,2256.6 1381.1,2257.9 1382.1,2254.8 1382.9,2255.8 1384.0,2253.3 1384.7,2251.1 1385.8,2255.0 1386.6,2250.3 1387.6,2251.4 1388.3,2252.3 1389.3,2251.4 1390.2,2255.8 1391.2,2247.9 1392.3,2251.9 1393.2,2254.9 1394.1,2257.1 1394.9,2252.5 1395.8,2253.9 1396.8,2260.6 1397.7,2257.4 1398.7,2250.1 1399.5,2251.1 1400.3,2256.9 1401.0,2254.4 1401.9,2255.8 1402.9,2251.6 1404.0,2248.8 1405.0,2255.9 1405.9,2255.4 1407.0,2245.9 1408.0,2250.5 1408.9,2254.8 1409.9,2244.1 1410.6,2256.6 1411.4,2255.3 1412.3,2254.4 1413.3,2256.3 1414.3,2259.5 1415.1,2257.0 1416.0,2251.6 1416.8,2257.9 1417.8,2257.0 1418.9,2257.7 1419.6,2256.9 1420.4,2259.9 1421.4,2256.0 1422.5,2260.4 1423.6,2261.0 1424.7,2262.1 1425.6,2254.6 1426.5,2263.6 1427.6,2250.7 1428.6,2257.0 1429.4,2261.2 1430.1,2256.3 1430.9,2257.7 1431.9,2259.4 1432.7,2258.0 1433.4,2258.5 1434.3,2259.7 1435.4,2261.1 1436.1,2258.6 1437.2,2257.8 1438.2,2255.3 1439.2,2254.6 1440.3,2261.1 1441.2,2258.6 1442.0,2258.7 1442.9,2261.3 1443.8,2263.8 1444.7,2262.0 1445.7,2261.5 1446.8,2261.0 1447.9,2262.9 1448.9,2259.9 1449.8,2264.0 1450.7,2263.5 1451.8,2263.8 1452.8,2266.6 1453.9,2260.9 1455.0,2264.3 1455.8,2266.1 1456.7,2266.2 1457.5,2261.9 1458.6,2267.4 1459.7,2268.1 1460.7,2263.4 1461.7,2261.5 1462.5,2271.0 1463.5,2267.8 1464.5,2267.2 1465.3,2268.6 1466.3,2266.5 1467.0,2264.1 1468.1,2270.0 1469.1,2266.7 1469.8,2264.2 1470.8,2265.2 1471.8,2270.4 1472.6,2268.2 1473.5,2271.1 1474.5,2266.4 1475.3,2267.4 1476.4,2270.8 1477.5,2271.0 1478.2,2268.3 1479.1,2272.7 1479.9,2274.9 1480.7,2270.9 1481.5,2274.2 1482.5,2268.0 1483.6,2270.6 1484.6,2269.0 1485.6,2271.6 1486.6,2270.5 1487.6,2270.2 1488.4,2272.8 1489.5,2275.4 1490.5,2273.7 1491.4,2272.8 1492.5,2270.4 1493.3,2272.0 1494.3,2277.4 1495.1,2272.6 1495.8,2269.4 1496.7,2274.0 1497.7,2271.5 1498.5,2278.8 1499.4,2276.6 1500.4,2278.3 1501.2,2276.5 1502.3,2279.6 1503.1,2276.1 1503.9,2280.2 1504.9,2277.4 1505.7,2282.7 1506.7,2280.9 1507.8,2278.6 1508.6,2279.9 1509.7,2281.1 1510.8,2285.2 1511.8,2282.8 1512.7,2277.7 1513.6,2280.9 1514.7,2276.8 1515.7,2282.6 1516.7,2282.1 1517.4,2276.0 1518.4,2277.1 1519.4,2279.6 1520.3,2280.6 1521.1,2274.8 1521.9,2274.9 1522.6,2276.9 1523.6,2273.0 1524.4,2271.9 1525.5,2276.4 1526.5,2270.4 1527.5,2274.1 1528.4,2274.2 1529.4,2276.4 1530.4,2278.9 1531.1,2271.0 1532.0,2276.1 1533.0,2272.1 1534.1,2271.6 1534.8,2269.0 1535.6,2269.5 1536.7,2272.5 1537.6,2267.7 1538.7,2268.5 1539.8,2270.7 1540.7,2265.2 1541.8,2267.3 1542.5,2271.4 1543.6,2275.9 1544.6,2270.8 1545.4,2270.0 1546.2,2269.7 1547.2,2270.0 1548.1,2265.7 1549.1,2274.5 1549.8,2275.8 1550.9,2271.8 1551.9,2273.1 1552.9,2271.8 1554.0,2273.4 1554.7,2273.0 1555.5,2272.6 1556.4,2276.8 1557.5,2275.0 1558.2,2272.9 1559.1,2283.7 1560.1,2279.5 1561.0,2285.5 1561.8,2279.3 1562.8,2278.7 1563.8,2281.2 1564.6,2279.3 1565.7,2273.7 1566.5,2273.7 1567.4,2281.1 1568.3,2282.4 1569.1,2276.5 1570.1,2281.4 1571.2,2280.9 1572.2,2282.4 1573.3,2281.7 1574.2,2280.0 1575.0,2280.9 1575.8,2282.4 1576.6,2280.1 1577.7,2281.2 1578.7,2283.9 1579.6,2282.2 1580.6,2286.7 1581.4,2283.8 1582.5,2281.9 1583.5,2276.8 1584.5,2283.7 1585.3,2279.3 1586.2,2281.5 1587.2,2280.0 1588.3,2280.5 1589.1,2283.3 1589.8,2280.7 1590.7,2283.8 1591.7,2280.5 1592.6,2279.8 1593.3,2282.2 1594.3,2282.4 1595.3,2286.3 1596.3,2283.6 1597.3,2278.2 1598.0,2280.2 1599.0,2282.6 1600.0,2282.2 1601.1,2284.9 1602.2,2288.8 1602.9,2289.2 1603.7,2286.9 1604.6,2286.6 1605.5,2286.1 1606.5,2288.8 1607.5,2283.9 1608.6,2284.9 1609.5,2288.1 1610.2,2284.3 1611.2,2287.0 1612.2,2291.9 1613.2,2285.4 1613.9,2280.8 1614.9,2275.7 1615.8,2281.4 1616.8,2280.3 1617.8,2277.5 1618.8,2277.0 1619.8,2280.4 1620.8,2278.8 1621.6,2279.0 1622.5,2283.0 1623.4,2277.7 1624.4,2281.3 1625.5,2280.7 1626.4,2278.9 1627.4,2283.0 1628.4,2281.1 1629.5,2282.3 1630.5,2274.6 1631.2,2282.8 1632.0,2277.4 1632.9,2288.2 1634.0,2281.4 1634.9,2284.8 1635.9,2282.0 1636.9,2285.2 1637.6,2286.3 1638.5,2283.1 1639.4,2285.8 1640.1,2283.5 1641.0,2282.7 1641.8,2284.3 1642.9,2280.2 1644.0,2286.8 1645.1,2288.6 1646.2,2285.0 1647.1,2280.3 1648.2,2287.4 1649.0,2285.0 1650.0,2289.5 1651.0,2284.9 1652.0,2286.8 1653.0,2288.2 1654.0,2288.9 1655.1,2290.4 1656.1,2285.8 1657.2,2297.0 1658.1,2291.1 1658.9,2294.8 1660.0,2293.5 1660.8,2287.4 1661.5,2287.3 1662.6,2288.7 1663.5,2293.1 1664.3,2293.4 1665.4,2295.8 1666.3,2292.9 1667.3,2295.7 1668.3,2289.5 1669.4,2289.2 1670.3,2293.0 1671.3,2295.7 1672.3,2290.1 1673.3,2295.7 1674.3,2293.3 1675.2,2292.3 1675.9,2292.3 1676.7,2291.5 1677.6,2293.6 1678.4,2284.1 1679.3,2294.0 1680.4,2287.6 1681.3,2295.1 1682.2,2288.3 1683.0,2286.6 1684.1,2283.9 1684.9,2287.8 1686.0,2296.2 1686.8,2296.8 1687.6,2294.4 1688.7,2296.7 1689.6,2296.6 1690.6,2293.7 1691.6,2295.5 1692.8,2296.9 1693.9,2293.4 1694.8,2300.5 1695.8,2297.0 1696.8,2299.0 1697.5,2297.7 1698.6,2298.0 1699.3,2298.9 M1700.0,2299.5 1701.0,2300.3 1702.0,2305.0 1703.0,2300.6 1703.9,2303.8 1704.8,2302.1 1705.7,2301.6 1706.4,2300.6 1707.4,2298.4 1708.4,2306.5 1709.2,2307.2 1709.9,2298.5 1711.0,2296.8 1711.9,2310.5 1712.7,2304.2 1713.7,2307.6 1714.6,2303.6 1715.6,2299.4 1716.5,2306.7 1717.4,2305.3 1718.3,2299.3 1719.2,2297.9 1720.1,2296.3 1720.9,2307.5 1721.7,2315.5 1722.5,2309.8 1723.6,2316.9 1724.5,2313.5 1725.2,2318.6 1726.3,2315.7 1727.1,2311.4 1728.1,2313.3 1729.0,2306.9 1729.7,2302.6 1730.5,2299.6 1731.4,2301.7 1732.3,2303.4 1733.0,2301.0 1733.9,2296.8 1734.8,2294.4 1735.6,2293.5 1736.7,2294.7 1737.6,2300.3 1738.3,2306.3 1739.2,2308.5 1740.0,2312.2 1740.9,2308.6 1741.8,2306.0 1742.8,2306.6 1743.9,2309.4 1744.7,2303.7 1745.6,2302.2 1746.4,2308.2 1747.2,2305.0 1748.1,2304.3 1748.9,2304.0 1749.8,2303.2 1750.6,2304.8 1751.7,2304.0 1752.5,2304.5 1753.3,2307.2 1754.2,2306.4 1755.3,2305.7 1756.2,2309.1 1757.0,2303.2 1758.1,2307.2 1758.9,2302.0 1759.7,2310.1 1760.8,2303.0 1761.6,2303.9 1762.5,2299.3 1763.3,2300.0 1764.2,2296.8 1765.2,2300.0 1766.2,2297.7 1767.3,2296.1 1768.3,2293.9 1769.3,2283.3 1770.1,2291.5 1770.9,2287.5 1771.9,2286.2 1772.9,2283.1 1773.7,2285.2 1774.5,2281.4 1775.5,2274.9 1776.5,2275.7 1777.5,2284.2 1778.6,2287.9 1779.7,2286.4 1780.6,2290.4 1781.5,2291.3 1782.5,2281.8 1783.5,2290.8 1784.3,2284.9 1785.1,2287.5 1785.8,2289.2 1786.8,2281.2 1787.6,2287.8 1788.6,2280.9 1789.4,2287.2 1790.2,2281.4 1791.2,2286.0 1792.2,2282.7 1793.1,2291.8 1794.0,2277.9 1794.8,2286.6 1795.8,2287.3 1796.9,2286.7 1797.8,2289.8 1798.8,2291.9 1799.8,2295.7 1800.7,2292.6 1801.5,2292.3 1802.5,2293.8 1803.3,2291.6 1804.4,2289.5 1805.4,2287.6 1806.5,2289.9 1807.6,2283.1 1808.6,2271.9 1809.4,2271.4 1810.4,2278.1 1811.4,2287.9 1812.2,2293.7 1813.2,2289.5 1814.0,2280.4 1814.7,2274.0 1815.5,2274.8 1816.4,2271.6 1817.2,2275.3 1818.0,2276.9 1818.8,2272.4 1819.8,2276.7 1820.8,2274.1 1821.8,2273.6 1822.8,2280.1 1823.7,2273.4 1824.5,2277.5 1825.5,2276.5 1826.3,2276.2 1827.1,2272.2 1827.8,2274.9 1828.7,2272.9 1829.5,2262.4 1830.2,2256.7 1831.0,2261.5 1831.8,2274.9 1832.6,2288.5 1833.6,2290.0 1834.4,2292.5 1835.4,2299.4 1836.1,2304.2 1837.1,2302.7 1838.0,2303.4 1839.1,2293.8 1840.0,2295.1 1840.8,2284.4 1841.6,2287.8 1842.6,2285.4 1843.7,2286.7 1844.8,2282.0 1845.8,2276.7 1846.6,2281.5 1847.5,2280.4 1848.2,2275.9 1849.2,2274.1 1850.1,2275.7 1851.0,2275.5 1852.1,2272.9 1853.0,2271.9 1854.1,2269.4 1855.2,2276.0 1856.0,2271.9 1857.0,2275.4 1857.8,2268.7 1858.6,2270.8 1859.4,2263.5 1860.3,2266.3 1861.4,2273.0 1862.1,2270.6 1862.9,2272.8 1864.0,2267.8 1864.8,2273.0 1865.7,2272.7 1866.7,2270.6 1867.8,2274.6 1868.8,2277.1 1869.5,2276.0 1870.5,2275.7 1871.5,2274.5 1872.5,2279.1 1873.5,2280.3 1874.6,2274.0 1875.7,2277.2 1876.4,2275.9 1877.2,2277.3 1877.9,2284.1 1878.7,2282.2 1879.7,2280.4 1880.5,2284.4 1881.4,2286.9 1882.5,2288.4 1883.6,2286.1 1884.4,2276.9 1885.5,2274.2 1886.5,2278.4 1887.3,2286.4 1888.4,2290.4 1889.4,2291.1 1890.4,2294.0 1891.3,2289.1 1892.2,2290.6 1893.1,2293.3 1894.1,2298.4 1895.1,2295.8 1896.2,2299.5 1897.1,2302.2 1898.1,2298.9 1898.9,2298.7 1899.7,2304.5 1900.8,2302.3 1901.6,2303.3 1902.7,2308.5 1903.6,2309.1 1904.5,2309.1 1905.5,2304.0 1906.6,2307.3 1907.5,2307.6 1908.6,2306.5 1909.6,2303.8 1910.5,2299.7 1911.3,2299.8 1912.1,2301.1 1912.9,2298.4 1913.9,2293.9 1914.7,2288.2 1915.8,2281.0 1916.6,2280.2 1917.4,2278.5 1918.4,2273.8 1919.2,2273.2 1920.2,2275.6 1921.0,2269.6 1921.9,2272.3 1922.8,2266.5 1923.7,2266.7 1924.5,2264.8 1925.4,2270.5 1926.2,2263.9 1926.9,2262.1 1927.9,2259.7 1928.7,2259.7 1929.7,2255.4 M1930.0,2253.9 1931.0,2250.4 1932.0,2246.9 1932.9,2240.9 1934.0,2243.5 1934.8,2242.4 1935.8,2242.4 1936.6,2244.2 1937.5,2247.8 1938.2,2243.5 1939.1,2240.0 1940.0,2235.0 1941.0,2227.7 1942.0,2223.4 1943.1,2223.5 1944.0,2219.0 1944.8,2213.5 1945.8,2212.9 1946.8,2210.7 1947.8,2212.0 1948.9,2208.4 1949.7,2206.6 1950.7,2205.4 1951.6,2205.4 1952.6,2205.0 1953.7,2196.7 1954.4,2196.4 1955.5,2193.0 1956.3,2188.7 1957.1,2183.1 1958.1,2170.4 1958.9,2165.5 1959.7,2160.2 1960.5,2155.0 1961.3,2148.0 1962.4,2140.1 1963.5,2128.1 1964.3,2119.7 1965.3,2107.8 1966.4,2093.4 1967.2,2084.9 1968.1,2074.5 1969.0,2064.4 1970.0,2055.0 1970.9,2050.4 1971.8,2040.5 1972.8,2035.9 1973.9,2021.5 1974.7,2017.7 1975.5,2012.3 1976.5,2010.2 1977.4,2004.8 1978.3,2000.0 1979.1,1998.0 1979.8,1995.1 1980.8,1991.4 1981.6,1987.1 1982.7,1986.0 1983.7,1984.2 1984.5,1981.2 1985.5,1978.5 1986.6,1975.6 1987.4,1971.5 1988.5,1970.1 1989.5,1970.0 1990.3,1965.8 1991.3,1970.2 1992.1,1977.5 1992.9,1983.9 1993.9,1992.9 1995.0,2002.9 1995.8,2008.4 1996.9,2014.4 1997.8,2021.5 1998.7,2026.4 1999.7,2036.6 2000.7,2039.4 2001.8,2048.7 2002.7,2055.6 2003.6,2060.5 2004.7,2068.6 2005.4,2072.3 2006.5,2082.2 2007.5,2086.9 2008.4,2094.8 2009.5,2096.9 2010.4,2102.1 2011.4,2103.4 2012.5,2107.7 2013.6,2107.8 2014.5,2106.7 2015.6,2105.9 2016.5,2107.8 2017.3,2107.0 2018.0,2107.7 2018.9,2104.8 2020.0,2106.1 2021.0,2109.7 2021.8,2113.5 2022.6,2118.1 2023.7,2125.8 2024.4,2126.9 2025.5,2125.8 2026.4,2129.7 2027.3,2125.6 2028.3,2124.8 2029.3,2120.4 2030.3,2120.0 2031.3,2122.1 2032.2,2120.0 2033.2,2119.8 2034.3,2120.0 2035.1,2117.8 2035.9,2118.3 2036.9,2121.7 2037.8,2124.0 2038.7,2127.2 2039.8,2128.2 2040.7,2136.4 2041.7,2139.5 2042.7,2142.0 2043.6,2144.8 2044.3,2150.6 2045.2,2155.3 2046.0,2158.0 2047.0,2164.4 2047.8,2171.3 2048.7,2172.1 2049.4,2176.0 2050.2,2180.5 2051.2,2184.6 2052.2,2186.7 2053.2,2192.5 2054.3,2198.5 2055.1,2203.8 2056.2,2208.5 2057.0,2204.1 2057.9,2204.6 2058.8,2202.9 2059.8,2204.0 2060.6,2203.8 2061.5,2202.6 2062.4,2201.9 2063.2,2201.6 2064.1,2204.1 2064.9,2205.7 2065.6,2203.9 2066.7,2206.3 2067.8,2205.0 2068.6,2204.7 2069.7,2205.4 2070.7,2207.5 2071.6,2206.2 2072.7,2209.6 2073.8,2213.1 2074.8,2219.0 2075.5,2224.0 2076.5,2231.9 2077.6,2243.8 2078.4,2248.4 2079.3,2253.4 2080.2,2252.3 2081.1,2253.8 2081.9,2250.6 2082.8,2249.8 2083.7,2250.9 2084.8,2252.8 2085.8,2250.4 2086.8,2254.4 2087.9,2257.0 2088.9,2257.1 2089.8,2257.2 2090.6,2263.2 2091.4,2262.2 2092.2,2264.8 2093.3,2264.8 2094.2,2264.5 2095.0,2270.2 2095.9,2267.9 2096.8,2265.8 2097.8,2266.1 2098.7,2263.9 2099.4,2263.8 2100.5,2265.5 2101.4,2268.4 2102.3,2268.2 2103.4,2269.9 2104.2,2273.5 2105.2,2277.6 2106.1,2277.2 2107.2,2275.7 2108.2,2276.5 2109.2,2274.9 2110.2,2272.6 2111.2,2263.6 2112.1,2253.2 2113.1,2274.9 2114.0,2272.3 2114.8,2272.4 2115.6,2274.0 2116.7,2274.0 2117.6,2275.4 2118.6,2275.7 2119.6,2282.1 2120.6,2287.9 2121.4,2288.9 2122.5,2292.0 2123.3,2290.2 2124.0,2294.0 2125.1,2295.4 2126.2,2300.6 2126.9,2304.0 2127.9,2304.5 2129.0,2298.2 2130.0,2296.8 2130.9,2295.1 2131.9,2291.3 2132.8,2289.9 2133.6,2291.6 2134.6,2288.2 2135.6,2288.1 2136.5,2287.2 2137.3,2289.6 2138.4,2291.4 2139.5,2295.7 2140.5,2294.2 2141.2,2289.3 2142.3,2287.3 2143.3,2288.1 2144.2,2289.7 2145.2,2290.6 2146.3,2298.1 2147.2,2296.4 2148.3,2298.0 2149.3,2295.8 2150.3,2296.7 2151.4,2294.6 2152.1,2294.6 2152.9,2292.3 2153.9,2293.8 2154.7,2294.7 2155.7,2295.4 2156.6,2294.6 2157.3,2295.3 2158.1,2297.2" fill="none" stroke="#652c78" stroke-width="2.00" stroke-linejoin="round" stroke-linecap="round"/>
<path d="M1069.4,764.0 1075.4,765.0 1069.4,766.1 1075.4,767.2 1069.4,768.4 1075.4,769.5 1069.4,770.7 1075.4,771.2 1069.4,772.1 1075.4,773.3 1069.4,774.3 1075.4,775.5 1069.4,776.1 1075.4,777.0 1069.4,777.7 1075.4,778.7 1069.4,779.6 1075.4,780.2 1069.4,780.9 1075.4,781.6 1069.4,782.8 1075.4,783.9 1069.4,784.6 1075.4,785.7 1069.4,786.3 1075.4,787.3 1069.4,787.9 1075.4,788.5 1069.4,789.6 1075.4,790.3 1069.4,791.0 1075.4,792.3 1069.4,793.4 1075.4,794.2 1069.4,795.4 1075.4,796.3 1069.4,797.4 1075.4,798.1 1069.4,799.3 1075.4,800.3 1069.4,801.6 1075.4,802.7 1069.4,803.5 1075.4,804.3 1069.4,804.9 1075.4,805.6 1069.4,806.2 1075.4,806.9 1069.4,807.9 1075.4,808.5 1069.4,809.5 1075.4,810.3 1069.4,811.0 1075.4,812.2 1069.4,813.0 1075.4,813.8 1069.4,814.7 1075.4,815.7 1069.4,816.3 1075.4,817.6 1069.4,818.1 1075.4,819.2 1069.4,820.4 1075.4,820.9 1069.4,822.0 1075.4,822.8 1069.4,823.8 1075.4,824.3 1069.4,824.9 1075.4,825.6 1069.4,826.8 1075.4,827.5 1069.4,828.6 1075.4,829.8 1069.4,831.0 1075.4,831.8 1069.4,832.6 1075.4,833.5 1069.4,834.6 1075.4,835.2 1069.4,836.3 1075.4,837.4" fill="none" stroke="#c9c9c9" stroke-width="2.20" stroke-linejoin="round"/>
<path d="M1060.2,459.0 1065.7,460.0 1068.2,453.0 1070.5,459.0 1072.9,428.0 1075.8,454.0 1077.6,474.0 1077.8,505.4 1075.2,505.4 1073.8,491.4 1070.3,491.9 1066.7,477.4 1063.2,472.4 1059.7,466.0Z" fill="#232323" stroke="#232323" stroke-width="1" stroke-linejoin="round"/>
<path d="M1062.2,1219.0 1067.0,1220.0 1069.2,1213.0 1071.2,1219.0 1072.9,1196.0 1075.8,1214.0 1077.6,1234.0 1077.8,1250.6 1075.2,1250.6 1073.8,1236.6 1071.0,1237.1 1067.9,1226.1 1064.8,1221.7 1061.8,1226.0Z" fill="#24405f" stroke="#24405f" stroke-width="1" stroke-linejoin="round"/>
<path d="M2168.3,445.0 2171.7,446.0 2173.3,439.0 2174.7,445.0 2175.0,402.0 2177.9,440.0 2179.7,460.0 2179.9,489.7 2177.3,489.7 2175.9,475.7 2174.6,476.2 2172.4,472.2 2170.2,469.1 2168.0,452.0Z" fill="#9a5629" stroke="#9a5629" stroke-width="1" stroke-linejoin="round"/>
<path d="M2168.3,835.0 2171.7,836.0 2173.3,829.0 2174.7,835.0 2175.0,805.0 2177.9,830.0 2179.7,850.0 2179.9,876.4 2177.3,876.4 2175.9,862.4 2174.6,862.9 2172.4,858.9 2170.2,855.8 2168.0,842.0Z" fill="#966a2c" stroke="#966a2c" stroke-width="1" stroke-linejoin="round"/>
<path d="M2168.8,1229.0 2172.2,1230.0 2173.8,1223.0 2175.2,1229.0 2175.5,1184.5 2178.4,1224.0 2180.2,1244.0 2180.4,1258.5 2177.8,1258.5 2176.4,1244.5 2175.1,1245.0 2172.9,1241.0 2170.7,1237.9 2168.5,1236.0Z" fill="#652c78" stroke="#652c78" stroke-width="1" stroke-linejoin="round"/>
<line x1="66.8" y1="172.0" x2="66.8" y2="1278.0" stroke="#1c1c1c" stroke-width="5.00" stroke-linecap="butt"/>
<line x1="64.3" y1="1275.2" x2="1082.0" y2="1275.2" stroke="#1c1c1c" stroke-width="5.50" stroke-linecap="butt"/>
<line x1="67.6" y1="1275.2" x2="67.6" y2="1280.0" stroke="#1c1c1c" stroke-width="3.00" stroke-linecap="butt"/>
<line x1="208.2" y1="1275.2" x2="208.2" y2="1280.0" stroke="#1c1c1c" stroke-width="3.00" stroke-linecap="butt"/>
<line x1="348.8" y1="1275.2" x2="348.8" y2="1280.0" stroke="#1c1c1c" stroke-width="3.00" stroke-linecap="butt"/>
<line x1="489.4" y1="1275.2" x2="489.4" y2="1280.0" stroke="#1c1c1c" stroke-width="3.00" stroke-linecap="butt"/>
<line x1="630.0" y1="1275.2" x2="630.0" y2="1280.0" stroke="#1c1c1c" stroke-width="3.00" stroke-linecap="butt"/>
<line x1="770.6" y1="1275.2" x2="770.6" y2="1280.0" stroke="#1c1c1c" stroke-width="3.00" stroke-linecap="butt"/>
<line x1="911.2" y1="1275.2" x2="911.2" y2="1280.0" stroke="#1c1c1c" stroke-width="3.00" stroke-linecap="butt"/>
<line x1="1051.8" y1="1275.2" x2="1051.8" y2="1280.0" stroke="#1c1c1c" stroke-width="3.00" stroke-linecap="butt"/>
<line x1="1167.3" y1="172.0" x2="1167.3" y2="1277.8" stroke="#1c1c1c" stroke-width="5.00" stroke-linecap="butt"/>
<line x1="1164.8" y1="1275.0" x2="2182.0" y2="1275.0" stroke="#1c1c1c" stroke-width="5.50" stroke-linecap="butt"/>
<line x1="1171.0" y1="1275.0" x2="1171.0" y2="1279.8" stroke="#1c1c1c" stroke-width="3.00" stroke-linecap="butt"/>
<line x1="1311.2" y1="1275.0" x2="1311.2" y2="1279.8" stroke="#1c1c1c" stroke-width="3.00" stroke-linecap="butt"/>
<line x1="1451.4" y1="1275.0" x2="1451.4" y2="1279.8" stroke="#1c1c1c" stroke-width="3.00" stroke-linecap="butt"/>
<line x1="1591.6" y1="1275.0" x2="1591.6" y2="1279.8" stroke="#1c1c1c" stroke-width="3.00" stroke-linecap="butt"/>
<line x1="1731.8" y1="1275.0" x2="1731.8" y2="1279.8" stroke="#1c1c1c" stroke-width="3.00" stroke-linecap="butt"/>
<line x1="1872.0" y1="1275.0" x2="1872.0" y2="1279.8" stroke="#1c1c1c" stroke-width="3.00" stroke-linecap="butt"/>
<line x1="2012.2" y1="1275.0" x2="2012.2" y2="1279.8" stroke="#1c1c1c" stroke-width="3.00" stroke-linecap="butt"/>
<line x1="2152.4" y1="1275.0" x2="2152.4" y2="1279.8" stroke="#1c1c1c" stroke-width="3.00" stroke-linecap="butt"/>
<line x1="67.0" y1="1477.0" x2="67.0" y2="2330.5" stroke="#1c1c1c" stroke-width="5.00" stroke-linecap="butt"/>
<line x1="64.5" y1="2328.0" x2="1062.5" y2="2328.0" stroke="#1c1c1c" stroke-width="5.00" stroke-linecap="butt"/>
<line x1="67.7" y1="2328.0" x2="67.7" y2="2335.5" stroke="#1c1c1c" stroke-width="2.40" stroke-linecap="butt"/>
<line x1="235.3" y1="2328.0" x2="235.3" y2="2335.5" stroke="#1c1c1c" stroke-width="2.40" stroke-linecap="butt"/>
<line x1="402.8" y1="2328.0" x2="402.8" y2="2335.5" stroke="#1c1c1c" stroke-width="2.40" stroke-linecap="butt"/>
<line x1="569.7" y1="2328.0" x2="569.7" y2="2335.5" stroke="#1c1c1c" stroke-width="2.40" stroke-linecap="butt"/>
<line x1="727.5" y1="2328.0" x2="727.5" y2="2335.5" stroke="#1c1c1c" stroke-width="2.40" stroke-linecap="butt"/>
<line x1="895.4" y1="2328.0" x2="895.4" y2="2335.5" stroke="#1c1c1c" stroke-width="2.40" stroke-linecap="butt"/>
<line x1="1060.8" y1="2328.0" x2="1060.8" y2="2335.5" stroke="#1c1c1c" stroke-width="2.40" stroke-linecap="butt"/>
<line x1="589.6" y1="2316.7" x2="603.7" y2="2339.1" stroke="#1c1c1c" stroke-width="2.40" stroke-linecap="butt"/>
<line x1="598.2" y1="2316.7" x2="612.9" y2="2340.0" stroke="#1c1c1c" stroke-width="2.40" stroke-linecap="butt"/>
<line x1="1165.3" y1="1477.0" x2="1165.3" y2="2333.0" stroke="#1c1c1c" stroke-width="5.00" stroke-linecap="butt"/>
<line x1="1162.8" y1="2330.5" x2="2161.0" y2="2330.5" stroke="#1c1c1c" stroke-width="5.00" stroke-linecap="butt"/>
<line x1="1165.3" y1="2330.5" x2="1165.3" y2="2338.0" stroke="#1c1c1c" stroke-width="2.40" stroke-linecap="butt"/>
<line x1="1333.4" y1="2330.5" x2="1333.4" y2="2338.0" stroke="#1c1c1c" stroke-width="2.40" stroke-linecap="butt"/>
<line x1="1500.7" y1="2330.5" x2="1500.7" y2="2338.0" stroke="#1c1c1c" stroke-width="2.40" stroke-linecap="butt"/>
<line x1="1667.6" y1="2330.5" x2="1667.6" y2="2338.0" stroke="#1c1c1c" stroke-width="2.40" stroke-linecap="butt"/>
<line x1="1824.7" y1="2330.5" x2="1824.7" y2="2338.0" stroke="#1c1c1c" stroke-width="2.40" stroke-linecap="butt"/>
<line x1="1993.2" y1="2330.5" x2="1993.2" y2="2338.0" stroke="#1c1c1c" stroke-width="2.40" stroke-linecap="butt"/>
<line x1="2159.3" y1="2330.5" x2="2159.3" y2="2338.0" stroke="#1c1c1c" stroke-width="2.40" stroke-linecap="butt"/>
<line x1="1686.6" y1="2318.6" x2="1701.3" y2="2340.6" stroke="#1c1c1c" stroke-width="2.40" stroke-linecap="butt"/>
<line x1="1695.1" y1="2318.6" x2="1711.1" y2="2342.2" stroke="#1c1c1c" stroke-width="2.40" stroke-linecap="butt"/>
<text transform="translate(110.58,251.00) scale(1.107,1)" font-family='"Liberation Sans", sans-serif' font-size="44.2" font-weight="normal" text-anchor="start" fill="#1c1c1c" stroke="#fff" stroke-width="0.55">PEEKp</text>
<text transform="translate(108.78,646.80) scale(1.108,1)" font-family='"Liberation Sans", sans-serif' font-size="44.2" font-weight="normal" text-anchor="start" fill="#1c1c1c" stroke="#fff" stroke-width="0.55">PEEKp/BG</text>
<text transform="translate(107.82,1024.50) scale(1.094,1)" font-family='"Liberation Sans", sans-serif' font-size="44.2" font-weight="normal" text-anchor="start" fill="#1c1c1c" stroke="#fff" stroke-width="0.55">PEEKp/Chit 0.2 mg/mL</text>
<text transform="translate(1192.71,252.80) scale(1.099,1)" font-family='"Liberation Sans", sans-serif' font-size="44.2" font-weight="normal" text-anchor="start" fill="#1c1c1c" stroke="#fff" stroke-width="0.55">PEEKp/Chit 1.0 mg/mL</text>
<text transform="translate(1195.01,646.90) scale(1.097,1)" font-family='"Liberation Sans", sans-serif' font-size="44.2" font-weight="normal" text-anchor="start" fill="#1c1c1c" stroke="#fff" stroke-width="0.55">PEEKp/BG-Chit 0.2 mg/mL</text>
<text transform="translate(1195.80,1024.20) scale(1.100,1)" font-family='"Liberation Sans", sans-serif' font-size="44.2" font-weight="normal" text-anchor="start" fill="#1c1c1c" stroke="#fff" stroke-width="0.55">PEEKp/BG-Chit 1.0 mg/mL</text>
<text transform="translate(110.73,1540.20) scale(1.048,1)" font-family='"Liberation Sans", sans-serif' font-size="46.0" font-weight="normal" text-anchor="start" fill="#1c1c1c" stroke="#fff" stroke-width="0.55">PEEKp/Chit 0.2 mg/mL</text>
<text transform="translate(110.24,1959.80) scale(1.047,1)" font-family='"Liberation Sans", sans-serif' font-size="46.0" font-weight="normal" text-anchor="start" fill="#1c1c1c" stroke="#fff" stroke-width="0.55">PEEKp/Chit 1.0 mg/mL</text>
<text transform="translate(1194.23,1539.80) scale(1.050,1)" font-family='"Liberation Sans", sans-serif' font-size="46.0" font-weight="normal" text-anchor="start" fill="#1c1c1c" stroke="#fff" stroke-width="0.55">PEEKp/BG-Chit 0.2 mg/mL</text>
<text transform="translate(1195.54,1959.60) scale(1.046,1)" font-family='"Liberation Sans", sans-serif' font-size="46.0" font-weight="normal" text-anchor="start" fill="#1c1c1c" stroke="#fff" stroke-width="0.55">PEEKp/BG-Chit 1.0 mg/mL</text>
<text transform="translate(47.30,861.10) rotate(-90) scale(0.824,1)" font-family='"Liberation Sans", sans-serif' font-size="42.0" font-weight="normal" text-anchor="start" fill="#1c1c1c" stroke="#fff" stroke-width="0.55">Absorbance (a.u.)</text>
<text transform="translate(1147.30,861.10) rotate(-90) scale(0.824,1)" font-family='"Liberation Sans", sans-serif' font-size="42.0" font-weight="normal" text-anchor="start" fill="#1c1c1c" stroke="#fff" stroke-width="0.55">Absorbance (a.u.)</text>
<text transform="translate(47.90,2039.60) rotate(-90) scale(0.822,1)" font-family='"Liberation Sans", sans-serif' font-size="42.0" font-weight="normal" text-anchor="start" fill="#1c1c1c" stroke="#fff" stroke-width="0.55">Absorbance (a.u.)</text>
<text transform="translate(1146.40,2039.60) rotate(-90) scale(0.822,1)" font-family='"Liberation Sans", sans-serif' font-size="42.0" font-weight="normal" text-anchor="start" fill="#1c1c1c" stroke="#fff" stroke-width="0.55">Absorbance (a.u.)</text>
<text transform="translate(21.38,1311.50) scale(1.110,1)" font-family='"Liberation Sans", sans-serif' font-size="35.8" font-weight="normal" text-anchor="start" fill="#1c1c1c" stroke="#fff" stroke-width="0.15">4000</text>
<text transform="translate(160.17,1311.50) scale(1.098,1)" font-family='"Liberation Sans", sans-serif' font-size="35.8" font-weight="normal" text-anchor="start" fill="#1c1c1c" stroke="#fff" stroke-width="0.15">3500</text>
<text transform="translate(300.47,1311.50) scale(1.098,1)" font-family='"Liberation Sans", sans-serif' font-size="35.8" font-weight="normal" text-anchor="start" fill="#1c1c1c" stroke="#fff" stroke-width="0.15">3000</text>
<text transform="translate(439.22,1311.50) scale(1.121,1)" font-family='"Liberation Sans", sans-serif' font-size="35.8" font-weight="normal" text-anchor="start" fill="#1c1c1c" stroke="#fff" stroke-width="0.15">2500</text>
<text transform="translate(581.05,1311.50) scale(1.104,1)" font-family='"Liberation Sans", sans-serif' font-size="35.8" font-weight="normal" text-anchor="start" fill="#1c1c1c" stroke="#fff" stroke-width="0.15">2000</text>
<text transform="translate(722.23,1311.50) scale(1.102,1)" font-family='"Liberation Sans", sans-serif' font-size="35.8" font-weight="normal" text-anchor="start" fill="#1c1c1c" stroke="#fff" stroke-width="0.15">1500</text>
<text transform="translate(862.87,1311.50) scale(1.086,1)" font-family='"Liberation Sans", sans-serif' font-size="35.8" font-weight="normal" text-anchor="start" fill="#1c1c1c" stroke="#fff" stroke-width="0.15">1000</text>
<text transform="translate(1005.97,1311.50) scale(1.098,1)" font-family='"Liberation Sans", sans-serif' font-size="35.8" font-weight="normal" text-anchor="start" fill="#1c1c1c" stroke="#fff" stroke-width="0.15">500</text>
<text transform="translate(1132.49,1311.00) scale(1.097,1)" font-family='"Liberation Sans", sans-serif' font-size="35.8" font-weight="normal" text-anchor="start" fill="#1c1c1c" stroke="#fff" stroke-width="0.15">4000</text>
<text transform="translate(1270.97,1311.00) scale(1.096,1)" font-family='"Liberation Sans", sans-serif' font-size="35.8" font-weight="normal" text-anchor="start" fill="#1c1c1c" stroke="#fff" stroke-width="0.15">3500</text>
<text transform="translate(1411.27,1311.00) scale(1.096,1)" font-family='"Liberation Sans", sans-serif' font-size="35.8" font-weight="normal" text-anchor="start" fill="#1c1c1c" stroke="#fff" stroke-width="0.15">3000</text>
<text transform="translate(1550.63,1311.00) scale(1.112,1)" font-family='"Liberation Sans", sans-serif' font-size="35.8" font-weight="normal" text-anchor="start" fill="#1c1c1c" stroke="#fff" stroke-width="0.15">2500</text>
<text transform="translate(1690.83,1311.00) scale(1.113,1)" font-family='"Liberation Sans", sans-serif' font-size="35.8" font-weight="normal" text-anchor="start" fill="#1c1c1c" stroke="#fff" stroke-width="0.15">2000</text>
<text transform="translate(1832.96,1311.00) scale(1.090,1)" font-family='"Liberation Sans", sans-serif' font-size="35.8" font-weight="normal" text-anchor="start" fill="#1c1c1c" stroke="#fff" stroke-width="0.15">1500</text>
<text transform="translate(1973.57,1311.00) scale(1.085,1)" font-family='"Liberation Sans", sans-serif' font-size="35.8" font-weight="normal" text-anchor="start" fill="#1c1c1c" stroke="#fff" stroke-width="0.15">1000</text>
<text transform="translate(2116.68,1311.00) scale(1.088,1)" font-family='"Liberation Sans", sans-serif' font-size="35.8" font-weight="normal" text-anchor="start" fill="#1c1c1c" stroke="#fff" stroke-width="0.15">500</text>
<text transform="translate(23.29,2366.80) scale(1.097,1)" font-family='"Liberation Sans", sans-serif' font-size="35.8" font-weight="normal" text-anchor="start" fill="#1c1c1c" stroke="#fff" stroke-width="0.15">4000</text>
<text transform="translate(189.26,2366.80) scale(1.105,1)" font-family='"Liberation Sans", sans-serif' font-size="35.8" font-weight="normal" text-anchor="start" fill="#1c1c1c" stroke="#fff" stroke-width="0.15">3500</text>
<text transform="translate(357.77,2366.80) scale(1.098,1)" font-family='"Liberation Sans", sans-serif' font-size="35.8" font-weight="normal" text-anchor="start" fill="#1c1c1c" stroke="#fff" stroke-width="0.15">3000</text>
<text transform="translate(523.43,2366.80) scale(1.113,1)" font-family='"Liberation Sans", sans-serif' font-size="35.8" font-weight="normal" text-anchor="start" fill="#1c1c1c" stroke="#fff" stroke-width="0.15">2500</text>
<text transform="translate(681.54,2366.80) scale(1.100,1)" font-family='"Liberation Sans", sans-serif' font-size="35.8" font-weight="normal" text-anchor="start" fill="#1c1c1c" stroke="#fff" stroke-width="0.15">1500</text>
<text transform="translate(850.66,2366.80) scale(1.093,1)" font-family='"Liberation Sans", sans-serif' font-size="35.8" font-weight="normal" text-anchor="start" fill="#1c1c1c" stroke="#fff" stroke-width="0.15">1000</text>
<text transform="translate(1022.17,2366.80) scale(1.098,1)" font-family='"Liberation Sans", sans-serif' font-size="35.8" font-weight="normal" text-anchor="start" fill="#1c1c1c" stroke="#fff" stroke-width="0.15">500</text>
<text transform="translate(1123.29,2368.60) scale(1.097,1)" font-family='"Liberation Sans", sans-serif' font-size="35.8" font-weight="normal" text-anchor="start" fill="#1c1c1c" stroke="#fff" stroke-width="0.15">4000</text>
<text transform="translate(1289.26,2368.60) scale(1.105,1)" font-family='"Liberation Sans", sans-serif' font-size="35.8" font-weight="normal" text-anchor="start" fill="#1c1c1c" stroke="#fff" stroke-width="0.15">3500</text>
<text transform="translate(1457.77,2368.60) scale(1.098,1)" font-family='"Liberation Sans", sans-serif' font-size="35.8" font-weight="normal" text-anchor="start" fill="#1c1c1c" stroke="#fff" stroke-width="0.15">3000</text>
<text transform="translate(1623.43,2368.60) scale(1.113,1)" font-family='"Liberation Sans", sans-serif' font-size="35.8" font-weight="normal" text-anchor="start" fill="#1c1c1c" stroke="#fff" stroke-width="0.15">2500</text>
<text transform="translate(1781.54,2368.60) scale(1.100,1)" font-family='"Liberation Sans", sans-serif' font-size="35.8" font-weight="normal" text-anchor="start" fill="#1c1c1c" stroke="#fff" stroke-width="0.15">1500</text>
<text transform="translate(1950.66,2368.60) scale(1.093,1)" font-family='"Liberation Sans", sans-serif' font-size="35.8" font-weight="normal" text-anchor="start" fill="#1c1c1c" stroke="#fff" stroke-width="0.15">1000</text>
<text transform="translate(2122.17,2368.60) scale(1.098,1)" font-family='"Liberation Sans", sans-serif' font-size="35.8" font-weight="normal" text-anchor="start" fill="#1c1c1c" stroke="#fff" stroke-width="0.15">500</text>
<text transform="translate(404.00,1351.20) scale(1.092,1)" font-family='"Liberation Sans", sans-serif' font-size="36.2" font-weight="normal" text-anchor="start" fill="#1c1c1c" stroke="#fff" stroke-width="0.30">Wavenumbers (cm<tspan font-size="16.7" dy="-18.5" stroke="none">−1</tspan><tspan dy="18.5" dx="0.7">)</tspan></text>
<text transform="translate(1540.00,1348.50) scale(1.092,1)" font-family='"Liberation Sans", sans-serif' font-size="36.2" font-weight="normal" text-anchor="start" fill="#1c1c1c" stroke="#fff" stroke-width="0.30">Wavenumbers (cm<tspan font-size="16.7" dy="-18.5" stroke="none">−1</tspan><tspan dy="18.5" dx="0.7">)</tspan></text>
<text transform="translate(403.40,2405.80) scale(1.093,1)" font-family='"Liberation Sans", sans-serif' font-size="36.2" font-weight="normal" text-anchor="start" fill="#1c1c1c" stroke="#fff" stroke-width="0.30">Wavenumbers (cm<tspan font-size="16.7" dy="-18.5" stroke="none">−1</tspan><tspan dy="18.5" dx="0.7">)</tspan></text>
<text transform="translate(1483.20,2405.40) scale(1.092,1)" font-family='"Liberation Sans", sans-serif' font-size="36.2" font-weight="normal" text-anchor="start" fill="#1c1c1c" stroke="#fff" stroke-width="0.30">Wavenumbers (cm<tspan font-size="16.7" dy="-18.5" stroke="none">−1</tspan><tspan dy="18.5" dx="0.7">)</tspan></text>
<text transform="translate(707.90,345.76) rotate(-90) scale(0.881,1)" font-family='"Liberation Sans", sans-serif' font-size="37.4" font-weight="normal" text-anchor="start" fill="#1c1c1c" stroke="#fff" stroke-width="0.30">1648</text>
<text transform="translate(754.20,312.99) rotate(-90) scale(0.852,1)" font-family='"Liberation Sans", sans-serif' font-size="37.4" font-weight="normal" text-anchor="start" fill="#1c1c1c" stroke="#fff" stroke-width="0.30">1593</text>
<text transform="translate(784.90,220.01) rotate(-90) scale(0.861,1)" font-family='"Liberation Sans", sans-serif' font-size="37.4" font-weight="normal" text-anchor="start" fill="#1c1c1c" stroke="#fff" stroke-width="0.30">1486</text>
<text transform="translate(811.80,385.56) rotate(-90) scale(0.794,1)" font-family='"Liberation Sans", sans-serif' font-size="37.4" font-weight="normal" text-anchor="start" fill="#1c1c1c" stroke="#fff" stroke-width="0.30">1411</text>
<text transform="translate(840.00,151.31) rotate(-90) scale(0.858,1)" font-family='"Liberation Sans", sans-serif' font-size="37.4" font-weight="normal" text-anchor="start" fill="#1c1c1c" stroke="#fff" stroke-width="0.30">1216</text>
<text transform="translate(872.40,159.37) rotate(-90) scale(0.842,1)" font-family='"Liberation Sans", sans-serif' font-size="37.4" font-weight="normal" text-anchor="start" fill="#1c1c1c" stroke="#fff" stroke-width="0.30">1184</text>
<text transform="translate(903.50,165.31) rotate(-90) scale(0.858,1)" font-family='"Liberation Sans", sans-serif' font-size="37.4" font-weight="normal" text-anchor="start" fill="#1c1c1c" stroke="#fff" stroke-width="0.30">1156</text>
<text transform="translate(940.30,240.94) rotate(-90) scale(0.879,1)" font-family='"Liberation Sans", sans-serif' font-size="37.4" font-weight="normal" text-anchor="start" fill="#1c1c1c" stroke="#fff" stroke-width="0.30">925</text>
<text transform="translate(968.80,261.98) rotate(-90) scale(0.839,1)" font-family='"Liberation Sans", sans-serif' font-size="37.4" font-weight="normal" text-anchor="start" fill="#1c1c1c" stroke="#fff" stroke-width="0.30">834</text>
<text transform="translate(1005.50,259.64) rotate(-90) scale(0.824,1)" font-family='"Liberation Sans", sans-serif' font-size="37.4" font-weight="normal" text-anchor="start" fill="#1c1c1c" stroke="#fff" stroke-width="0.30">764</text>
<text transform="translate(1012.00,367.27) rotate(-90) scale(0.895,1)" font-family='"Liberation Sans", sans-serif' font-size="37.4" font-weight="normal" text-anchor="start" fill="#1c1c1c" stroke="#fff" stroke-width="0.30">676</text>
<text transform="translate(1063.20,334.67) rotate(-90) scale(0.813,1)" font-family='"Liberation Sans", sans-serif' font-size="37.4" font-weight="normal" text-anchor="start" fill="#1c1c1c" stroke="#fff" stroke-width="0.30">491</text>
<text transform="translate(912.10,635.82) rotate(-90) scale(0.866,1)" font-family='"Liberation Sans", sans-serif' font-size="37.4" font-weight="normal" text-anchor="start" fill="#1c1c1c" stroke="#fff" stroke-width="0.30">1019</text>
<text transform="translate(951.80,596.00) rotate(-90) scale(0.856,1)" font-family='"Liberation Sans", sans-serif' font-size="37.4" font-weight="normal" text-anchor="start" fill="#1c1c1c" stroke="#fff" stroke-width="0.30">900</text>
<text transform="translate(987.70,681.70) rotate(-90) scale(0.854,1)" font-family='"Liberation Sans", sans-serif' font-size="37.4" font-weight="normal" text-anchor="start" fill="#1c1c1c" stroke="#fff" stroke-width="0.30">757</text>
<text transform="translate(1013.70,757.91) rotate(-90) scale(0.861,1)" font-family='"Liberation Sans", sans-serif' font-size="37.4" font-weight="normal" text-anchor="start" fill="#1c1c1c" stroke="#fff" stroke-width="0.30">668</text>
<text transform="translate(1064.70,682.19) rotate(-90) scale(0.833,1)" font-family='"Liberation Sans", sans-serif' font-size="37.4" font-weight="normal" text-anchor="start" fill="#1c1c1c" stroke="#fff" stroke-width="0.30">477</text>
<text transform="translate(276.90,2050.54) rotate(-90) scale(0.883,1)" font-family='"Liberation Sans", sans-serif' font-size="30.6" font-weight="normal" text-anchor="start" fill="#1c1c1c" stroke="#fff" stroke-width="0.15">3356</text>
<text transform="translate(410.80,2240.85) rotate(-90) scale(0.874,1)" font-family='"Liberation Sans", sans-serif' font-size="30.6" font-weight="normal" text-anchor="start" fill="#1c1c1c" stroke="#fff" stroke-width="0.15">2930</text>
<text transform="translate(441.40,2240.86) rotate(-90) scale(0.881,1)" font-family='"Liberation Sans", sans-serif' font-size="30.6" font-weight="normal" text-anchor="start" fill="#1c1c1c" stroke="#fff" stroke-width="0.15">2876</text>
<text transform="translate(710.80,2153.09) rotate(-90) scale(0.886,1)" font-family='"Liberation Sans", sans-serif' font-size="30.6" font-weight="normal" text-anchor="start" fill="#1c1c1c" stroke="#fff" stroke-width="0.15">1643</text>
<text transform="translate(736.90,2190.08) rotate(-90) scale(0.827,1)" font-family='"Liberation Sans", sans-serif' font-size="30.6" font-weight="normal" text-anchor="start" fill="#1c1c1c" stroke="#fff" stroke-width="0.15">1581</text>
<text transform="translate(840.40,2182.47) rotate(-90) scale(0.821,1)" font-family='"Liberation Sans", sans-serif' font-size="30.6" font-weight="normal" text-anchor="start" fill="#1c1c1c" stroke="#fff" stroke-width="0.15">1581</text>
<text transform="translate(884.70,2034.76) rotate(-90) scale(0.867,1)" font-family='"Liberation Sans", sans-serif' font-size="30.6" font-weight="normal" text-anchor="start" fill="#1c1c1c" stroke="#fff" stroke-width="0.15">1075</text>
<text transform="translate(912.30,2048.09) rotate(-90) scale(0.884,1)" font-family='"Liberation Sans", sans-serif' font-size="30.6" font-weight="normal" text-anchor="start" fill="#1c1c1c" stroke="#fff" stroke-width="0.15">1029</text>
<text transform="translate(951.40,2108.74) rotate(-90) scale(0.878,1)" font-family='"Liberation Sans", sans-serif' font-size="30.6" font-weight="normal" text-anchor="start" fill="#1c1c1c" stroke="#fff" stroke-width="0.15">896</text>
<text transform="translate(1392.60,2241.03) rotate(-90) scale(0.868,1)" font-family='"Liberation Sans", sans-serif' font-size="30.6" font-weight="normal" text-anchor="start" fill="#1c1c1c" stroke="#fff" stroke-width="0.15">3354</text>
<text transform="translate(1431.80,2241.04) rotate(-90) scale(0.874,1)" font-family='"Liberation Sans", sans-serif' font-size="30.6" font-weight="normal" text-anchor="start" fill="#1c1c1c" stroke="#fff" stroke-width="0.15">3288</text>
<text transform="translate(1555.00,2259.89) rotate(-90) scale(0.899,1)" font-family='"Liberation Sans", sans-serif' font-size="30.6" font-weight="normal" text-anchor="start" fill="#1c1c1c" stroke="#fff" stroke-width="0.15">2876</text>
<text transform="translate(1838.90,2242.85) rotate(-90) scale(0.864,1)" font-family='"Liberation Sans", sans-serif' font-size="30.6" font-weight="normal" text-anchor="start" fill="#1c1c1c" stroke="#fff" stroke-width="0.15">1560</text>
<text transform="translate(2050.80,2102.03) rotate(-90) scale(0.872,1)" font-family='"Liberation Sans", sans-serif' font-size="30.6" font-weight="normal" text-anchor="start" fill="#1c1c1c" stroke="#fff" stroke-width="0.15">896</text>
<text transform="translate(2002.80,1943.49) rotate(-90) scale(0.881,1)" font-family='"Liberation Sans", sans-serif' font-size="30.6" font-weight="normal" text-anchor="start" fill="#1c1c1c" stroke="#fff" stroke-width="0.15">1029</text>
<text transform="translate(1046.00,82.60) scale(1.030,1)" font-family='"DejaVu Sans", sans-serif' font-weight="bold" font-size="78.0" letter-spacing="-5.00" fill="#1c1c1c"><tspan dy="5.3">(</tspan><tspan font-size="73.5" dy="-5.3">A</tspan><tspan dy="5.3">)</tspan></text>
<text transform="translate(1046.00,1433.00) scale(1.030,1)" font-family='"DejaVu Sans", sans-serif' font-weight="bold" font-size="78.0" letter-spacing="-5.00" fill="#1c1c1c"><tspan dy="5.3">(</tspan><tspan font-size="73.5" dy="-5.3">B</tspan><tspan dy="5.3">)</tspan></text>
<line x1="713.6" y1="344.9" x2="726.0" y2="363.9" stroke="#1c1c1c" stroke-width="2.20" stroke-linecap="butt"/>
<line x1="726.0" y1="363.9" x2="726.0" y2="384.1" stroke="#1c1c1c" stroke-width="2.20" stroke-linecap="butt"/>
<line x1="836.1" y1="151.9" x2="849.2" y2="171.6" stroke="#1c1c1c" stroke-width="2.20" stroke-linecap="butt"/>
<line x1="849.2" y1="171.6" x2="849.2" y2="192.4" stroke="#1c1c1c" stroke-width="2.20" stroke-linecap="butt"/>
<line x1="856.7" y1="163.9" x2="856.7" y2="215.4" stroke="#1c1c1c" stroke-width="2.20" stroke-linecap="butt"/>
<line x1="878.3" y1="167.2" x2="865.6" y2="186.5" stroke="#1c1c1c" stroke-width="2.20" stroke-linecap="butt"/>
<line x1="865.6" y1="186.5" x2="865.6" y2="208.8" stroke="#1c1c1c" stroke-width="2.20" stroke-linecap="butt"/>
<line x1="988.4" y1="264.0" x2="975.7" y2="283.6" stroke="#1c1c1c" stroke-width="2.20" stroke-linecap="butt"/>
<line x1="975.7" y1="283.6" x2="975.7" y2="305.0" stroke="#1c1c1c" stroke-width="2.20" stroke-linecap="butt"/>
<line x1="974.3" y1="694.3" x2="974.3" y2="753.1" stroke="#1c1c1c" stroke-width="3.00" stroke-linecap="butt"/>
</svg>
</body>
</html>
